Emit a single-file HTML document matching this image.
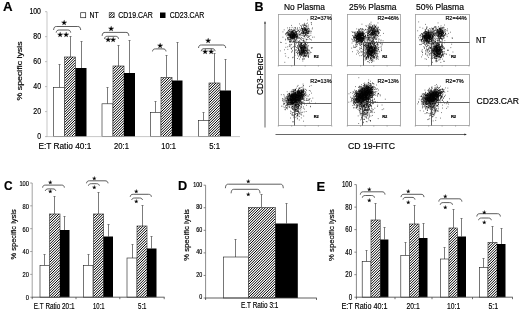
<!DOCTYPE html>
<html><head><meta charset="utf-8"><title>Figure</title>
<style>html,body{margin:0;padding:0;background:#fff}svg{display:block}text{font-family:"Liberation Sans",Arial,sans-serif;fill:#000;stroke:#000;stroke-width:.18px}</style></head><body>
<svg width="520" height="314" viewBox="0 0 520 314">
<defs><pattern id="hatch" width="1.56" height="1.56" patternUnits="userSpaceOnUse" patternTransform="rotate(-45)"><rect width="1.56" height="1.56" fill="#fff"/><rect width="1.56" height="0.82" fill="#000"/></pattern><filter id="soft" x="-2%" y="-2%" width="104%" height="104%"><feGaussianBlur stdDeviation="0.3"/></filter></defs>
<rect width="520" height="314" fill="#fff"/>
<g filter="url(#soft)">
<text x="2.9" y="11.2" font-size="13.6" font-weight="bold" textLength="9.6" lengthAdjust="spacingAndGlyphs" stroke-width="0.55">A</text>
<line x1="59.5" y1="64.5" x2="59.5" y2="87.5" stroke="#5a5a5a" stroke-width="0.8"/>
<line x1="58.5" y1="64.5" x2="60.5" y2="64.5" stroke="#5a5a5a" stroke-width="0.8"/>
<rect x="53.5" y="87.5" width="11.0" height="49.1" fill="#fff" stroke="#1a1a1a" stroke-width="0.6"/>
<line x1="70.5" y1="36.5" x2="70.5" y2="57" stroke="#5a5a5a" stroke-width="0.8"/>
<line x1="69.5" y1="36.5" x2="71.5" y2="36.5" stroke="#5a5a5a" stroke-width="0.8"/>
<clipPath id="c1"><rect x="64.5" y="57" width="11.0" height="79.6"/></clipPath>
<rect x="64.5" y="57" width="11.0" height="79.6" fill="#fff"/>
<path clip-path="url(#c1)" d="M64.5 55.1L75.5 44.1M64.5 57.7L75.5 46.7M64.5 60.3L75.5 49.3M64.5 62.9L75.5 51.9M64.5 65.5L75.5 54.5M64.5 68.1L75.5 57.1M64.5 70.7L75.5 59.7M64.5 73.3L75.5 62.3M64.5 75.9L75.5 64.9M64.5 78.5L75.5 67.5M64.5 81.1L75.5 70.1M64.5 83.7L75.5 72.7M64.5 86.3L75.5 75.3M64.5 88.9L75.5 77.9M64.5 91.5L75.5 80.5M64.5 94.1L75.5 83.1M64.5 96.7L75.5 85.7M64.5 99.3L75.5 88.3M64.5 101.9L75.5 90.9M64.5 104.5L75.5 93.5M64.5 107.1L75.5 96.1M64.5 109.7L75.5 98.7M64.5 112.3L75.5 101.3M64.5 114.9L75.5 103.9M64.5 117.5L75.5 106.5M64.5 120.1L75.5 109.1M64.5 122.7L75.5 111.7M64.5 125.3L75.5 114.3M64.5 127.9L75.5 116.9M64.5 130.5L75.5 119.5M64.5 133.1L75.5 122.1M64.5 135.7L75.5 124.7M64.5 138.3L75.5 127.3M64.5 140.9L75.5 129.9M64.5 143.5L75.5 132.5M64.5 146.1L75.5 135.1M64.5 148.7L75.5 137.7" stroke="#000" stroke-width="1.0" fill="none"/>
<rect x="64.5" y="57" width="11.0" height="79.6" fill="none" stroke="#222" stroke-width="0.6"/>
<line x1="81.5" y1="41.5" x2="81.5" y2="68" stroke="#5a5a5a" stroke-width="0.8"/>
<line x1="80.5" y1="41.5" x2="82.5" y2="41.5" stroke="#5a5a5a" stroke-width="0.8"/>
<rect x="75.5" y="68" width="11.0" height="68.6" fill="#000"/>
<line x1="107.5" y1="87.5" x2="107.5" y2="103.8" stroke="#5a5a5a" stroke-width="0.8"/>
<line x1="106.5" y1="87.5" x2="108.5" y2="87.5" stroke="#5a5a5a" stroke-width="0.8"/>
<rect x="102" y="103.8" width="11" height="32.8" fill="#fff" stroke="#1a1a1a" stroke-width="0.6"/>
<line x1="118.5" y1="45.5" x2="118.5" y2="66" stroke="#5a5a5a" stroke-width="0.8"/>
<line x1="117.5" y1="45.5" x2="119.5" y2="45.5" stroke="#5a5a5a" stroke-width="0.8"/>
<clipPath id="c2"><rect x="113" y="66" width="11" height="70.6"/></clipPath>
<rect x="113" y="66" width="11" height="70.6" fill="#fff"/>
<path clip-path="url(#c2)" d="M113 63.8L124 52.8M113 66.4L124 55.4M113 69.0L124 58.0M113 71.6L124 60.6M113 74.2L124 63.2M113 76.8L124 65.8M113 79.4L124 68.4M113 82.0L124 71.0M113 84.6L124 73.6M113 87.2L124 76.2M113 89.8L124 78.8M113 92.4L124 81.4M113 95.0L124 84.0M113 97.6L124 86.6M113 100.2L124 89.2M113 102.8L124 91.8M113 105.4L124 94.4M113 108.0L124 97.0M113 110.6L124 99.6M113 113.2L124 102.2M113 115.8L124 104.8M113 118.4L124 107.4M113 121.0L124 110.0M113 123.6L124 112.6M113 126.2L124 115.2M113 128.8L124 117.8M113 131.4L124 120.4M113 134.0L124 123.0M113 136.6L124 125.6M113 139.2L124 128.2M113 141.8L124 130.8M113 144.4L124 133.4M113 147.0L124 136.0M113 149.6L124 138.6" stroke="#000" stroke-width="1.0" fill="none"/>
<rect x="113" y="66" width="11" height="70.6" fill="none" stroke="#222" stroke-width="0.6"/>
<line x1="129.5" y1="40.5" x2="129.5" y2="73" stroke="#5a5a5a" stroke-width="0.8"/>
<line x1="128.5" y1="40.5" x2="130.5" y2="40.5" stroke="#5a5a5a" stroke-width="0.8"/>
<rect x="124" y="73" width="11" height="63.6" fill="#000"/>
<line x1="155.5" y1="101.5" x2="155.5" y2="112.5" stroke="#5a5a5a" stroke-width="0.8"/>
<line x1="154.5" y1="101.5" x2="156.5" y2="101.5" stroke="#5a5a5a" stroke-width="0.8"/>
<rect x="150.5" y="112.5" width="10.5" height="24.1" fill="#fff" stroke="#1a1a1a" stroke-width="0.6"/>
<line x1="166.5" y1="55.5" x2="166.5" y2="77.5" stroke="#5a5a5a" stroke-width="0.8"/>
<line x1="165.5" y1="55.5" x2="167.5" y2="55.5" stroke="#5a5a5a" stroke-width="0.8"/>
<clipPath id="c3"><rect x="161" y="77.5" width="11" height="59.1"/></clipPath>
<rect x="161" y="77.5" width="11" height="59.1" fill="#fff"/>
<path clip-path="url(#c3)" d="M161 75.6L172 64.6M161 78.2L172 67.2M161 80.8L172 69.8M161 83.4L172 72.4M161 86.0L172 75.0M161 88.6L172 77.6M161 91.2L172 80.2M161 93.8L172 82.8M161 96.4L172 85.4M161 99.0L172 88.0M161 101.6L172 90.6M161 104.2L172 93.2M161 106.8L172 95.8M161 109.4L172 98.4M161 112.0L172 101.0M161 114.6L172 103.6M161 117.2L172 106.2M161 119.8L172 108.8M161 122.4L172 111.4M161 125.0L172 114.0M161 127.6L172 116.6M161 130.2L172 119.2M161 132.8L172 121.8M161 135.4L172 124.4M161 138.0L172 127.0M161 140.6L172 129.6M161 143.2L172 132.2M161 145.8L172 134.8M161 148.4L172 137.4" stroke="#000" stroke-width="1.0" fill="none"/>
<rect x="161" y="77.5" width="11" height="59.1" fill="none" stroke="#222" stroke-width="0.6"/>
<line x1="177.5" y1="42.5" x2="177.5" y2="80.5" stroke="#5a5a5a" stroke-width="0.8"/>
<line x1="176.5" y1="42.5" x2="178.5" y2="42.5" stroke="#5a5a5a" stroke-width="0.8"/>
<rect x="172" y="80.5" width="10.5" height="56.1" fill="#000"/>
<line x1="203.5" y1="112.5" x2="203.5" y2="120.5" stroke="#5a5a5a" stroke-width="0.8"/>
<line x1="202.5" y1="112.5" x2="204.5" y2="112.5" stroke="#5a5a5a" stroke-width="0.8"/>
<rect x="198.5" y="120.5" width="10.5" height="16.1" fill="#fff" stroke="#1a1a1a" stroke-width="0.6"/>
<line x1="214.5" y1="53.5" x2="214.5" y2="83" stroke="#5a5a5a" stroke-width="0.8"/>
<line x1="213.5" y1="53.5" x2="215.5" y2="53.5" stroke="#5a5a5a" stroke-width="0.8"/>
<clipPath id="c4"><rect x="209" y="83" width="11" height="53.6"/></clipPath>
<rect x="209" y="83" width="11" height="53.6" fill="#fff"/>
<path clip-path="url(#c4)" d="M209 82.2L220 71.2M209 84.8L220 73.8M209 87.4L220 76.4M209 90.0L220 79.0M209 92.6L220 81.6M209 95.2L220 84.2M209 97.8L220 86.8M209 100.4L220 89.4M209 103.0L220 92.0M209 105.6L220 94.6M209 108.2L220 97.2M209 110.8L220 99.8M209 113.4L220 102.4M209 116.0L220 105.0M209 118.6L220 107.6M209 121.2L220 110.2M209 123.8L220 112.8M209 126.4L220 115.4M209 129.0L220 118.0M209 131.6L220 120.6M209 134.2L220 123.2M209 136.8L220 125.8M209 139.4L220 128.4M209 142.0L220 131.0M209 144.6L220 133.6M209 147.2L220 136.2M209 149.8L220 138.8" stroke="#000" stroke-width="1.0" fill="none"/>
<rect x="209" y="83" width="11" height="53.6" fill="none" stroke="#222" stroke-width="0.6"/>
<line x1="225.5" y1="59.5" x2="225.5" y2="90.5" stroke="#5a5a5a" stroke-width="0.8"/>
<line x1="224.5" y1="59.5" x2="226.5" y2="59.5" stroke="#5a5a5a" stroke-width="0.8"/>
<rect x="220" y="90.5" width="11" height="46.1" fill="#000"/>
<line x1="47" y1="11.7" x2="47" y2="137.0" stroke="#b0b0b0" stroke-width="0.7"/>
<line x1="46.6" y1="136.6" x2="240" y2="136.6" stroke="#b0b0b0" stroke-width="0.7"/>
<line x1="45" y1="11.7" x2="47" y2="11.7" stroke="#b0b0b0" stroke-width="0.8"/>
<text x="41.0" y="13.7" font-size="8.6" text-anchor="end" textLength="11.6" lengthAdjust="spacingAndGlyphs">100</text>
<line x1="45" y1="36.67999999999999" x2="47" y2="36.67999999999999" stroke="#b0b0b0" stroke-width="0.8"/>
<text x="41.0" y="38.68" font-size="8.6" text-anchor="end" textLength="7.73" lengthAdjust="spacingAndGlyphs">80</text>
<line x1="45" y1="61.66" x2="47" y2="61.66" stroke="#b0b0b0" stroke-width="0.8"/>
<text x="41.0" y="63.66" font-size="8.6" text-anchor="end" textLength="7.73" lengthAdjust="spacingAndGlyphs">60</text>
<line x1="45" y1="86.64" x2="47" y2="86.64" stroke="#b0b0b0" stroke-width="0.8"/>
<text x="41.0" y="88.64" font-size="8.6" text-anchor="end" textLength="7.73" lengthAdjust="spacingAndGlyphs">40</text>
<line x1="45" y1="111.61999999999999" x2="47" y2="111.61999999999999" stroke="#b0b0b0" stroke-width="0.8"/>
<text x="41.0" y="113.62" font-size="8.6" text-anchor="end" textLength="7.73" lengthAdjust="spacingAndGlyphs">20</text>
<line x1="45" y1="136.6" x2="47" y2="136.6" stroke="#b0b0b0" stroke-width="0.8"/>
<text x="41.0" y="138.6" font-size="8.6" text-anchor="end" textLength="3.87" lengthAdjust="spacingAndGlyphs">0</text>
<text x="21.9" y="70.9" font-size="7.5" text-anchor="middle" textLength="59.3" lengthAdjust="spacingAndGlyphs" transform="rotate(-90 21.9 70.9)" stroke-width="0.1">% specific lysis</text>
<rect x="80.7" y="12.7" width="5" height="5" fill="#fff" stroke="#222" stroke-width="0.7"/>
<text x="89.5" y="18.3" font-size="8.3" textLength="9.2" lengthAdjust="spacingAndGlyphs">NT</text>
<clipPath id="c5"><rect x="109.2" y="12.7" width="5" height="5"/></clipPath>
<rect x="109.2" y="12.7" width="5" height="5" fill="#fff"/>
<path clip-path="url(#c5)" d="M109.2 10.4L114.2 5.4M109.2 13.0L114.2 8.0M109.2 15.6L114.2 10.6M109.2 18.2L114.2 13.2M109.2 20.8L114.2 15.8M109.2 23.4L114.2 18.4" stroke="#000" stroke-width="1.0" fill="none"/>
<rect x="109.2" y="12.7" width="5" height="5" fill="none" stroke="#222" stroke-width="0.6"/>
<text x="118.3" y="18.3" font-size="8.3" textLength="34.5" lengthAdjust="spacingAndGlyphs">CD19.CAR</text>
<rect x="160" y="12.5" width="5.5" height="5.5" fill="#000"/>
<text x="169.8" y="18.3" font-size="8.3" textLength="34.5" lengthAdjust="spacingAndGlyphs">CD23.CAR</text>
<text x="38.5" y="148.9" font-size="9" textLength="52.8" lengthAdjust="spacingAndGlyphs">E:T Ratio 40:1</text>
<text x="114.1" y="148.9" font-size="9" textLength="14.8" lengthAdjust="spacingAndGlyphs">20:1</text>
<text x="161.3" y="148.9" font-size="9" textLength="14.6" lengthAdjust="spacingAndGlyphs">10:1</text>
<text x="209.3" y="148.9" font-size="9" textLength="10.8" lengthAdjust="spacingAndGlyphs">5:1</text>
<path d="M53.6 30.0 C53.9 27.1 54.8 26.5 56.6 26.5 L77.7 26.5 C79.5 26.5 80.4 27.1 80.7 30.0" fill="none" stroke="#333" stroke-width="0.8"/>
<text x="63.6" y="25.07" font-size="6.8" text-anchor="middle" font-family="DejaVu Sans">★</text>
<path d="M56.2 32.6 C56.5 30.6 57.4 30.0 59.2 30.0 L67.7 30.0 C69.5 30.0 70.4 30.6 70.7 32.6" fill="none" stroke="#333" stroke-width="0.8"/>
<text x="62.75" y="37.06" font-size="6.8" text-anchor="middle" font-family="DejaVu Sans" letter-spacing="-0.3">★★</text>
<path d="M102.1 35.9 C102.39999999999999 33.0 103.3 32.4 105.1 32.4 L125.9 32.4 C127.7 32.4 128.6 33.0 128.9 35.9" fill="none" stroke="#333" stroke-width="0.8"/>
<text x="111.4" y="30.66" font-size="6.8" text-anchor="middle" font-family="DejaVu Sans">★</text>
<path d="M104.5 38.9 C104.8 36.9 105.7 36.3 107.5 36.3 L115.5 36.3 C117.3 36.3 118.2 36.9 118.5 38.9" fill="none" stroke="#333" stroke-width="0.8"/>
<text x="110.35" y="42.17" font-size="6.8" text-anchor="middle" font-family="DejaVu Sans" letter-spacing="-0.3">★★</text>
<path d="M152.5 51.4 C152.8 49.5 153.7 48.9 155.5 48.9 L163.0 48.9 C164.8 48.9 165.7 49.5 166 51.4" fill="none" stroke="#333" stroke-width="0.8"/>
<text x="160" y="47.77" font-size="6.8" text-anchor="middle" font-family="DejaVu Sans">★</text>
<path d="M198.5 48.0 C198.8 45.6 199.7 45 201.5 45 L222.7 45 C224.5 45 225.39999999999998 45.6 225.7 48.0" fill="none" stroke="#333" stroke-width="0.8"/>
<text x="207.9" y="43.27" font-size="6.8" text-anchor="middle" font-family="DejaVu Sans">★</text>
<path d="M201.2 51.2 C201.5 49.3 202.4 48.7 204.2 48.7 L212.1 48.7 C213.9 48.7 214.79999999999998 49.3 215.1 51.2" fill="none" stroke="#333" stroke-width="0.8"/>
<text x="207.85" y="53.77" font-size="6.8" text-anchor="middle" font-family="DejaVu Sans" letter-spacing="-0.3">★★</text>
<text x="254.6" y="11.0" font-size="13.0" font-weight="bold" textLength="9.0" lengthAdjust="spacingAndGlyphs" stroke-width="0.55">B</text>
<text x="284" y="9.9" font-size="9.2" textLength="41" lengthAdjust="spacingAndGlyphs">No Plasma</text>
<text x="349" y="9.9" font-size="9.2" textLength="47.5" lengthAdjust="spacingAndGlyphs">25% Plasma</text>
<text x="416" y="9.9" font-size="9.2" textLength="48" lengthAdjust="spacingAndGlyphs">50% Plasma</text>
<text x="476" y="43.2" font-size="8.5" textLength="10" lengthAdjust="spacingAndGlyphs">NT</text>
<text x="476.5" y="104.2" font-size="8.5" textLength="42.5" lengthAdjust="spacingAndGlyphs">CD23.CAR</text>
<text x="263" y="74" font-size="8.5" text-anchor="middle" textLength="42" lengthAdjust="spacingAndGlyphs" transform="rotate(-90 263 74)">CD3-PercP</text>
<text x="348" y="149.2" font-size="8.5" textLength="47" lengthAdjust="spacingAndGlyphs">CD 19-FITC</text>
<line x1="265" y1="23" x2="265" y2="127.5" stroke="#555" stroke-width="0.9"/>
<path d="M264.0 23.4 L265 21 L266.0 23.4Z" fill="#222"/>
<line x1="275.5" y1="134.5" x2="465" y2="134.5" stroke="#555" stroke-width="0.9"/>
<path d="M464.4 133.5 L466.8 134.5 L464.4 135.5Z" fill="#222"/>
<path d="M291.5 36.4h.7M291.6 34.1h.7M289.8 34.4h.7M295.1 36.2h.7M294.9 35.7h.7M293.2 35.5h.7M287.9 37.4h.7M293.5 36.4h.7M287.8 30.1h.7M289.9 33.7h.7M293.0 34.9h.7M293.6 33.2h.7M293.0 36.1h.7M290.5 39.8h.7M293.6 38.4h.7M290.6 32.9h.7M291.3 34.7h.7M293.8 35.7h.7M291.0 32.3h.7M290.8 38.4h.7M290.1 35.7h.7M293.3 30.8h.7M292.3 38.7h.7M287.0 34.1h.7M291.9 32.7h.7M293.5 34.8h.7M288.4 37.3h.7M293.9 37.6h.7M295.9 36.0h.7M292.5 31.4h.7M293.8 33.3h.7M291.0 31.5h.7M289.7 33.5h.7M295.6 29.3h.7M288.4 35.7h.7M296.0 36.6h.7M287.3 27.9h.7M293.1 32.9h.7M289.3 37.7h.7M295.1 35.4h.7M292.8 36.2h.7M296.3 36.7h.7M293.5 36.5h.7M288.1 38.6h.7M294.7 36.5h.7M287.1 33.2h.7M294.4 29.9h.7M291.7 37.9h.7M288.8 39.5h.7M293.6 34.6h.7M293.0 36.8h.7M292.5 38.2h.7M290.5 33.8h.7M294.9 35.1h.7M289.9 37.7h.7M296.0 33.8h.7M288.6 34.6h.7M291.8 34.2h.7M295.9 32.1h.7M295.5 31.4h.7M290.2 36.8h.7M295.1 37.4h.7M293.1 35.4h.7M292.6 36.6h.7M291.7 35.8h.7M293.7 35.0h.7M294.2 36.6h.7M297.4 35.9h.7M291.1 34.0h.7M292.2 37.6h.7M291.3 36.1h.7M297.0 27.8h.7M289.3 35.7h.7M293.2 35.7h.7M291.1 36.8h.7M292.9 33.5h.7M298.5 36.0h.7M290.8 34.7h.7M291.6 34.8h.7M285.1 33.6h.7M294.8 31.7h.7M292.0 37.7h.7M294.4 39.2h.7M287.8 34.0h.7M291.3 36.7h.7M295.0 27.5h.7M295.0 30.9h.7M294.0 30.8h.7M292.7 38.3h.7M291.8 35.5h.7M294.3 35.4h.7M292.0 39.3h.7M294.9 34.2h.7M299.3 31.8h.7M294.6 34.3h.7M292.5 37.0h.7M292.8 36.8h.7M288.2 30.8h.7M293.8 32.3h.7M289.5 30.9h.7M295.5 37.1h.7M296.0 32.4h.7M292.2 31.8h.7M294.2 39.5h.7M289.9 39.4h.7M294.8 34.5h.7M287.1 38.9h.7M291.9 33.3h.7M293.2 36.1h.7M296.1 32.1h.7M295.2 39.2h.7M296.0 34.5h.7M290.3 37.9h.7M292.5 35.3h.7M295.9 34.3h.7M286.2 33.9h.7M287.4 37.3h.7M293.0 33.3h.7M292.2 37.3h.7M292.4 38.7h.7M292.0 37.9h.7M296.1 39.5h.7M290.5 37.5h.7M287.3 32.0h.7M287.1 38.0h.7M289.0 35.0h.7M291.7 34.9h.7M290.7 35.7h.7M296.9 35.1h.7M293.6 37.8h.7M291.7 31.5h.7M290.8 38.0h.7M287.9 33.3h.7M294.8 37.2h.7M292.2 37.3h.7M292.6 31.7h.7M288.1 33.2h.7M294.6 33.4h.7M289.9 32.8h.7M288.2 34.7h.7M289.1 36.0h.7M286.1 35.9h.7M290.5 29.6h.7M294.1 34.2h.7M286.4 32.5h.7M293.0 33.7h.7M294.2 37.1h.7M293.9 35.9h.7M295.7 36.8h.7M293.4 29.2h.7M294.5 38.7h.7M291.4 33.7h.7M297.2 30.1h.7M293.4 41.8h.7M289.8 36.9h.7M297.1 34.7h.7M293.7 37.5h.7M289.8 34.8h.7M293.0 37.3h.7M292.1 34.5h.7M289.6 34.0h.7M294.5 35.3h.7M290.0 32.6h.7M299.1 38.2h.7M293.9 27.7h.7M293.8 36.3h.7M296.6 36.2h.7M292.0 36.5h.7M287.1 37.9h.7M293.0 33.0h.7M295.6 40.1h.7M288.6 33.1h.7M293.0 35.5h.7M291.2 32.3h.7M297.7 37.9h.7M289.1 31.2h.7M296.6 37.8h.7M296.9 37.3h.7M289.9 35.7h.7M286.6 32.9h.7M292.0 36.5h.7M290.3 34.7h.7M293.4 36.1h.7M293.9 35.6h.7M291.4 37.2h.7M292.3 32.7h.7M290.6 35.0h.7M291.9 35.4h.7M292.2 35.5h.7M291.9 31.5h.7M293.3 38.0h.7M293.3 34.5h.7M293.4 32.3h.7M287.3 35.2h.7M289.8 37.1h.7M289.4 27.6h.7M289.5 39.4h.7M291.2 31.2h.7M290.2 36.5h.7M293.5 35.5h.7M296.1 37.0h.7M292.1 36.7h.7M296.5 37.7h.7M294.9 32.0h.7M291.8 37.0h.7M291.4 38.0h.7M293.8 37.5h.7M291.6 42.1h.7M295.4 34.4h.7M292.4 42.3h.7M291.3 37.4h.7M294.7 35.0h.7M289.2 35.5h.7M293.1 38.2h.7M294.2 35.1h.7M294.4 36.5h.7M292.7 35.2h.7M291.6 36.9h.7M289.5 33.2h.7M292.2 30.9h.7M291.1 29.4h.7M290.4 36.6h.7M293.7 34.8h.7M291.6 31.0h.7M297.0 36.4h.7M295.0 32.5h.7M291.7 29.9h.7M294.2 37.6h.7M287.3 34.9h.7M293.8 30.1h.7M287.5 32.0h.7M290.6 31.1h.7M292.3 35.7h.7M293.8 37.0h.7M296.1 38.3h.7M288.8 33.6h.7M289.4 32.0h.7M292.0 35.0h.7M293.5 30.6h.7M289.0 34.9h.7M291.7 34.1h.7M292.0 32.9h.7M294.0 36.0h.7M292.0 33.1h.7M291.7 27.4h.7M289.6 35.1h.7M288.3 35.6h.7M292.6 31.1h.7M291.5 34.1h.7M293.4 36.7h.7M292.1 32.6h.7M291.8 34.8h.7M294.1 35.8h.7M290.3 31.2h.7M291.2 32.9h.7M289.3 34.7h.7M290.9 35.3h.7M293.6 33.8h.7M298.2 34.1h.7M295.1 35.3h.7M295.1 28.3h.7M290.2 35.7h.7M293.8 41.5h.7M293.0 38.6h.7M294.2 37.7h.7M293.5 34.6h.7M293.5 32.0h.7M295.3 32.2h.7M292.8 40.9h.7M291.6 35.1h.7M295.2 35.1h.7M290.1 35.7h.7M293.7 37.0h.7M290.2 39.9h.7M296.5 35.1h.7M292.9 33.8h.7M295.9 33.0h.7M294.0 33.7h.7M290.4 37.0h.7M295.7 35.0h.7M290.4 37.3h.7M292.1 35.9h.7M296.2 38.2h.7M290.8 41.4h.7M292.2 37.2h.7M290.5 34.9h.7M287.7 40.0h.7M295.8 31.6h.7M288.3 30.5h.7M295.3 33.7h.7M292.0 34.1h.7M291.9 32.0h.7M292.3 31.0h.7M292.0 35.9h.7M293.4 34.4h.7M289.9 35.4h.7M290.9 39.4h.7M294.2 34.7h.7M291.0 33.0h.7M289.8 34.0h.7M293.0 36.4h.7M293.7 40.9h.7M290.4 35.0h.7M299.5 29.8h.7M290.8 35.5h.7M292.6 36.1h.7M291.6 36.0h.7M292.3 37.2h.7M287.3 32.5h.7M292.2 32.1h.7M289.5 36.8h.7M290.5 36.8h.7M294.1 35.9h.7M293.5 34.7h.7M288.5 34.9h.7M293.4 33.5h.7M291.9 37.1h.7M289.9 36.8h.7M297.0 33.4h.7M292.6 34.6h.7M296.2 35.9h.7M294.5 33.1h.7M292.2 35.0h.7M287.6 39.0h.7M294.5 30.1h.7M294.1 34.6h.7M293.4 36.0h.7M288.3 34.4h.7M296.1 33.4h.7M289.5 31.2h.7M289.0 35.9h.7M296.6 36.2h.7M292.8 41.3h.7M290.8 33.1h.7M293.6 36.5h.7M289.6 31.7h.7M293.0 35.7h.7M288.8 34.4h.7M290.8 36.3h.7M291.9 34.8h.7M291.3 37.9h.7M295.8 34.0h.7M294.4 32.9h.7M292.4 37.1h.7M296.1 33.9h.7M292.0 35.5h.7M288.3 35.0h.7M290.4 36.0h.7M289.3 29.5h.7M292.3 35.7h.7M290.8 37.5h.7M291.5 33.3h.7M293.4 30.6h.7M290.4 34.9h.7M294.4 34.5h.7M293.0 33.2h.7M293.0 39.7h.7M290.4 41.6h.7M290.5 35.0h.7M292.7 37.9h.7M289.0 29.1h.7M293.8 37.2h.7M293.8 42.4h.7M292.7 35.7h.7M294.6 36.0h.7M296.5 31.5h.7M291.2 25.4h.7M294.3 34.0h.7M294.6 41.0h.7M292.2 34.3h.7M290.9 32.7h.7M290.6 36.8h.7M292.3 35.2h.7M291.7 37.6h.7M293.5 34.6h.7M293.9 34.6h.7M289.2 39.1h.7M293.4 32.3h.7M295.0 36.0h.7M288.1 39.5h.7M305.6 33.9h.7M305.2 30.5h.7M300.0 34.1h.7M304.7 30.1h.7M305.7 31.2h.7M306.6 29.8h.7M304.5 24.2h.7M303.3 33.2h.7M308.6 29.8h.7M304.2 36.1h.7M303.6 33.3h.7M309.6 31.1h.7M308.3 28.7h.7M305.2 30.8h.7M304.9 34.6h.7M311.8 28.9h.7M302.9 32.6h.7M301.4 32.6h.7M306.3 30.1h.7M306.2 26.0h.7M306.9 26.1h.7M302.5 29.2h.7M303.4 33.7h.7M304.8 29.7h.7M306.2 36.1h.7M304.6 32.2h.7M308.3 31.9h.7M300.7 39.0h.7M311.2 24.6h.7M304.5 32.3h.7M307.5 33.1h.7M303.8 27.6h.7M304.9 34.3h.7M301.3 27.7h.7M304.5 24.8h.7M303.8 29.6h.7M306.0 28.8h.7M302.0 29.7h.7M304.5 28.9h.7M304.6 33.4h.7M308.2 36.5h.7M302.2 29.7h.7M297.2 37.1h.7M302.4 30.9h.7M306.2 26.7h.7M306.0 30.9h.7M299.1 31.9h.7M308.2 25.0h.7M307.0 31.7h.7M306.0 32.4h.7M308.5 30.3h.7M307.2 29.7h.7M306.8 28.4h.7M304.3 36.5h.7M305.9 30.5h.7M301.2 28.5h.7M305.2 34.0h.7M305.9 32.7h.7M304.5 35.3h.7M303.4 29.2h.7M307.3 31.2h.7M303.8 29.2h.7M303.8 33.0h.7M305.7 27.1h.7M305.9 31.6h.7M301.6 33.5h.7M303.8 29.9h.7M307.0 35.2h.7M302.5 32.4h.7M302.0 38.4h.7M303.1 34.8h.7M302.7 33.6h.7M311.3 22.9h.7M303.3 32.6h.7M304.3 28.9h.7M311.1 31.3h.7M299.7 33.7h.7M299.4 34.7h.7M302.9 31.5h.7M308.4 31.4h.7M300.4 25.6h.7M308.1 33.4h.7M302.2 33.8h.7M306.1 33.1h.7M297.8 30.0h.7M307.3 33.3h.7M307.2 23.1h.7M305.1 32.6h.7M312.3 27.9h.7M303.6 31.1h.7M307.3 29.6h.7M308.0 28.5h.7M305.4 29.3h.7M305.1 28.8h.7M299.8 34.5h.7M305.5 29.2h.7M305.2 34.2h.7M301.7 30.6h.7M306.2 32.7h.7M303.6 24.3h.7M308.3 32.1h.7M304.6 30.1h.7M305.4 29.6h.7M301.5 28.6h.7M302.8 29.0h.7M301.1 33.0h.7M300.7 33.1h.7M301.6 32.1h.7M308.7 31.7h.7M302.4 31.2h.7M305.0 25.5h.7M302.8 31.5h.7M303.2 31.3h.7M306.8 33.5h.7M307.3 32.9h.7M303.7 30.9h.7M303.8 30.0h.7M304.1 25.5h.7M303.6 30.9h.7M301.7 30.9h.7M306.1 30.5h.7M310.8 22.7h.7M304.0 25.2h.7M307.5 39.5h.7M297.1 31.4h.7M306.2 30.0h.7M306.3 23.8h.7M307.2 32.2h.7M304.7 29.1h.7M306.5 29.4h.7M305.3 29.4h.7M297.9 30.9h.7M305.2 33.4h.7M302.0 30.9h.7M306.5 31.5h.7M308.3 37.4h.7M301.9 24.9h.7M307.2 35.9h.7M307.4 33.6h.7M302.7 28.7h.7M307.3 28.1h.7M299.2 27.8h.7M312.1 37.2h.7M302.5 28.7h.7M305.3 28.6h.7M308.5 30.7h.7M301.3 35.2h.7M302.9 31.7h.7M304.6 30.0h.7M305.6 28.8h.7M299.1 23.9h.7M300.8 28.6h.7M304.5 31.2h.7M306.3 31.4h.7M302.2 28.7h.7M298.2 30.5h.7M306.1 32.7h.7M304.2 30.4h.7M307.4 31.0h.7M306.8 32.9h.7M305.2 35.2h.7M302.9 29.9h.7M302.2 28.4h.7M309.3 36.6h.7M304.7 32.8h.7M308.1 33.6h.7M308.2 27.0h.7M302.7 32.4h.7M308.9 31.3h.7M302.0 29.9h.7M302.6 28.3h.7M309.1 29.0h.7M304.7 37.9h.7M308.2 32.1h.7M302.8 32.3h.7M309.5 33.0h.7M308.4 31.3h.7M306.1 30.4h.7M305.9 35.2h.7M300.3 30.8h.7M305.3 29.2h.7M303.7 33.5h.7M310.6 33.0h.7M305.6 26.0h.7M310.4 31.2h.7M304.5 27.4h.7M304.4 27.5h.7M304.8 32.5h.7M304.7 31.9h.7M302.0 35.6h.7M302.6 25.2h.7M304.0 28.6h.7M301.6 29.9h.7M305.5 27.2h.7M304.2 35.6h.7M306.6 30.5h.7M305.0 30.6h.7M304.5 33.3h.7M304.3 23.3h.7M304.5 28.2h.7M304.5 48.0h.7M303.1 58.0h.7M299.9 46.2h.7M298.9 41.6h.7M297.6 51.5h.7M301.0 43.5h.7M298.7 52.4h.7M300.6 48.9h.7M303.6 55.1h.7M307.9 53.9h.7M303.1 50.9h.7M307.6 55.3h.7M301.9 51.8h.7M303.5 50.4h.7M301.3 45.4h.7M301.3 44.6h.7M306.0 52.1h.7M299.4 55.2h.7M305.1 43.3h.7M307.7 53.1h.7M308.3 45.8h.7M304.1 51.7h.7M303.2 50.8h.7M305.5 44.8h.7M299.3 45.2h.7M301.2 48.0h.7M303.7 51.2h.7M302.8 47.8h.7M301.5 53.6h.7M304.8 50.6h.7M301.8 55.8h.7M301.1 52.5h.7M305.8 49.2h.7M304.9 46.2h.7M305.4 50.9h.7M298.4 52.6h.7M300.3 54.8h.7M300.9 49.6h.7M303.5 49.0h.7M303.4 48.2h.7M304.5 50.2h.7M303.3 40.3h.7M305.8 50.3h.7M297.9 50.5h.7M304.0 54.1h.7M299.8 55.8h.7M302.3 58.8h.7M302.3 52.6h.7M301.7 46.2h.7M305.7 53.5h.7M306.9 53.3h.7M301.2 44.2h.7M300.9 47.8h.7M300.5 52.3h.7M303.6 49.2h.7M303.2 49.7h.7M303.3 52.9h.7M305.3 47.7h.7M298.6 55.3h.7M303.0 54.2h.7M298.3 49.0h.7M302.8 45.0h.7M301.3 52.8h.7M305.6 55.9h.7M300.4 45.2h.7M304.1 53.6h.7M303.2 45.5h.7M304.8 53.1h.7M304.2 48.4h.7M303.5 53.0h.7M301.2 43.6h.7M303.6 51.9h.7M302.7 53.4h.7M301.1 49.9h.7M301.9 52.3h.7M307.0 49.3h.7M308.2 55.7h.7M304.8 52.3h.7M307.5 49.6h.7M302.4 46.4h.7M304.0 55.0h.7M304.1 51.7h.7M302.2 50.8h.7M298.9 54.0h.7M301.6 46.2h.7M300.7 47.2h.7M305.0 54.0h.7M299.0 53.5h.7M305.1 48.1h.7M298.7 47.5h.7M301.0 51.4h.7M301.7 42.9h.7M303.3 44.7h.7M305.1 45.9h.7M300.8 47.1h.7M301.2 54.9h.7M305.0 52.4h.7M303.6 44.6h.7M301.3 48.2h.7M300.1 52.0h.7M300.7 47.6h.7M299.9 42.8h.7M304.3 55.0h.7M303.2 46.7h.7M295.4 50.8h.7M306.0 51.3h.7M305.2 55.5h.7M305.7 48.6h.7M305.5 53.0h.7M298.6 48.7h.7M298.9 49.8h.7M304.3 46.4h.7M297.1 54.9h.7M303.7 55.5h.7M299.1 54.0h.7M308.3 57.4h.7M302.1 51.2h.7M302.3 53.8h.7M305.5 50.5h.7M299.0 52.9h.7M301.4 52.5h.7M303.4 56.0h.7M305.8 48.6h.7M303.6 56.6h.7M301.2 51.8h.7M305.9 54.7h.7M304.1 45.4h.7M299.3 51.1h.7M303.7 59.4h.7M300.4 54.3h.7M304.8 44.2h.7M300.5 50.8h.7M301.4 49.6h.7M304.0 47.3h.7M304.0 47.9h.7M301.2 52.1h.7M301.2 51.2h.7M307.0 50.3h.7M302.3 52.8h.7M301.7 54.1h.7M299.2 52.4h.7M301.3 47.3h.7M307.5 47.1h.7M307.4 52.6h.7M306.6 46.7h.7M305.9 55.4h.7M302.4 49.7h.7M309.3 50.8h.7M301.6 47.9h.7M303.9 51.4h.7M303.2 56.4h.7M301.8 51.9h.7M306.6 46.6h.7M305.5 56.8h.7M299.0 46.2h.7M299.9 43.6h.7M303.9 43.5h.7M304.0 55.4h.7M298.3 49.1h.7M297.5 53.0h.7M300.7 49.2h.7M302.8 52.2h.7M301.8 50.3h.7M301.2 50.6h.7M299.5 50.4h.7M297.5 48.4h.7M307.9 50.5h.7M299.3 51.1h.7M300.1 44.3h.7M300.7 52.9h.7M303.7 49.9h.7M300.2 46.3h.7M306.3 51.1h.7M300.1 42.6h.7M299.0 59.1h.7M299.6 49.9h.7M303.3 49.6h.7M301.9 45.3h.7M299.9 56.3h.7M300.7 53.2h.7M298.1 49.2h.7M303.4 53.9h.7M299.7 52.3h.7M303.7 47.5h.7M304.0 47.0h.7M300.6 50.1h.7M295.4 49.8h.7M300.0 44.9h.7M301.6 52.9h.7M301.6 54.8h.7M299.6 45.5h.7M306.9 51.6h.7M305.3 47.2h.7M304.9 51.1h.7M304.5 50.3h.7M306.0 47.9h.7M300.1 44.9h.7M305.8 47.5h.7M299.9 46.8h.7M301.5 45.6h.7M301.9 47.9h.7M301.2 46.7h.7M302.8 48.5h.7M303.0 51.1h.7M303.6 42.3h.7M301.3 47.3h.7M304.8 44.5h.7M300.8 49.1h.7M301.8 53.8h.7M301.5 53.7h.7M298.7 43.7h.7M306.0 51.8h.7M304.0 50.6h.7M304.0 45.8h.7M305.3 48.3h.7M305.4 50.5h.7M297.4 45.6h.7M305.7 49.7h.7M301.6 51.1h.7M301.6 48.2h.7M303.0 50.7h.7M306.8 50.4h.7M307.8 56.7h.7M307.3 54.0h.7M303.1 50.7h.7M302.3 47.6h.7M302.5 47.9h.7M307.1 52.1h.7M301.5 43.3h.7M302.6 48.7h.7M299.8 46.1h.7M296.6 52.2h.7M302.5 59.5h.7M302.6 49.7h.7M306.6 50.7h.7M303.2 48.9h.7M301.1 55.6h.7M305.4 56.4h.7M301.8 50.3h.7M300.3 53.7h.7M298.9 52.2h.7M305.7 55.3h.7M300.2 54.1h.7M300.8 47.5h.7M299.1 54.4h.7M307.2 48.1h.7M300.6 49.0h.7M309.5 53.8h.7M301.2 43.7h.7M300.9 54.5h.7M307.7 49.2h.7M300.8 48.4h.7M297.6 53.5h.7M299.8 54.0h.7M298.1 45.6h.7M303.5 47.5h.7M304.8 50.2h.7M299.5 52.4h.7M305.0 43.3h.7M307.6 52.0h.7M304.8 43.5h.7M300.8 48.9h.7M305.6 44.9h.7M300.3 42.9h.7M302.0 51.4h.7M298.1 48.1h.7M304.1 55.9h.7M304.5 49.1h.7M299.5 46.8h.7M300.9 50.7h.7M302.6 56.2h.7M303.5 46.3h.7M306.9 53.6h.7M303.0 47.6h.7M297.6 46.5h.7M305.2 47.3h.7M299.1 50.9h.7M303.4 52.4h.7M304.5 55.3h.7M300.4 53.7h.7M300.0 52.7h.7M303.2 51.1h.7M305.3 50.1h.7M305.7 53.4h.7M303.1 48.2h.7M300.7 48.3h.7M302.2 50.1h.7M310.7 52.5h.7M304.8 47.1h.7M300.8 49.1h.7M303.2 46.5h.7M307.1 48.2h.7M305.6 41.8h.7M302.7 51.2h.7M303.2 52.4h.7M303.5 50.8h.7M297.6 47.6h.7M296.4 52.5h.7M303.5 49.5h.7M300.5 48.1h.7M307.7 56.4h.7M302.5 54.8h.7M298.4 43.2h.7M301.4 47.1h.7M301.2 50.9h.7M310.9 47.8h.7M302.8 51.2h.7M302.6 53.6h.7M307.5 45.7h.7M303.1 49.2h.7M303.7 44.7h.7M298.0 41.9h.7M304.1 50.9h.7M302.9 41.7h.7M301.7 47.5h.7M298.9 46.9h.7M304.6 52.2h.7M302.6 52.1h.7M301.1 50.5h.7M302.8 52.2h.7M302.5 49.7h.7M302.3 47.9h.7M308.7 52.1h.7M303.9 58.4h.7M306.5 44.6h.7M304.6 53.2h.7M307.8 54.9h.7M304.8 46.0h.7M300.3 51.2h.7M304.1 46.5h.7M301.7 48.8h.7M302.9 51.4h.7M301.9 45.7h.7M306.1 55.9h.7M302.4 53.9h.7M303.9 52.6h.7M304.0 47.5h.7M304.2 53.8h.7M300.3 57.3h.7M308.3 56.8h.7M308.1 52.9h.7M301.8 48.0h.7M300.5 50.6h.7M302.6 52.6h.7M297.2 58.5h.7M308.8 50.1h.7M304.5 51.9h.7M303.4 49.4h.7M302.4 47.2h.7M303.2 50.1h.7M303.6 47.1h.7M302.8 50.4h.7M304.3 46.4h.7M303.8 53.7h.7M304.3 48.9h.7M301.4 49.3h.7M304.7 55.8h.7M302.3 47.9h.7M303.7 50.9h.7M300.2 47.5h.7M302.4 52.6h.7M299.5 46.5h.7M304.0 45.8h.7M303.0 51.5h.7M302.4 46.5h.7M302.5 49.0h.7M303.6 47.2h.7M305.6 44.2h.7M302.2 50.2h.7M305.3 48.0h.7M304.2 48.2h.7M304.7 56.5h.7M301.6 51.8h.7M300.2 53.7h.7M306.0 50.3h.7M299.6 51.6h.7M305.8 54.1h.7M304.9 43.6h.7M300.9 55.3h.7M299.4 54.3h.7M311.2 48.1h.7M305.8 39.3h.7M289.4 41.2h.7M296.6 41.6h.7M302.9 40.8h.7M299.3 45.4h.7M298.0 56.7h.7M301.1 42.7h.7M296.5 37.0h.7M307.4 43.2h.7M290.4 37.5h.7M297.0 38.4h.7M305.6 32.7h.7M301.4 43.1h.7M289.8 42.4h.7M297.3 46.0h.7M294.8 44.4h.7M286.3 33.3h.7M303.5 50.3h.7M297.9 37.2h.7M305.6 25.3h.7M292.4 47.4h.7M302.6 33.7h.7M284.8 53.6h.7M299.1 34.8h.7M298.4 49.2h.7M279.9 50.9h.7M303.2 25.4h.7M303.4 27.8h.7M306.0 45.2h.7M313.8 37.1h.7M298.0 50.4h.7M293.5 36.4h.7M295.4 41.4h.7M290.4 45.9h.7M301.8 42.6h.7M309.9 39.4h.7M307.1 37.6h.7M303.3 26.5h.7M299.4 40.6h.7M294.5 37.1h.7M295.6 36.2h.7M282.6 37.2h.7M294.2 37.8h.7M290.6 40.9h.7M303.5 40.0h.7M294.6 52.9h.7M304.8 49.4h.7M306.1 39.4h.7M297.1 50.9h.7M294.1 41.0h.7M300.6 45.0h.7M296.1 49.9h.7M296.8 47.8h.7M305.5 47.3h.7M303.1 32.7h.7M288.8 37.1h.7M301.3 54.0h.7M289.4 44.5h.7M292.0 36.1h.7M296.1 47.5h.7M299.5 51.4h.7M291.1 49.1h.7M304.5 42.6h.7M301.3 37.5h.7M290.4 38.8h.7M294.6 55.2h.7M299.4 44.5h.7M303.2 35.8h.7M304.4 45.0h.7M287.4 46.8h.7M301.9 45.6h.7M309.1 38.7h.7M301.6 48.0h.7M291.7 51.6h.7M287.8 31.6h.7M301.7 33.3h.7M297.2 28.8h.7M298.5 32.9h.7M300.4 29.7h.7M301.1 39.9h.7M298.4 41.5h.7M298.9 31.4h.7M280.0 42.3h.7M291.4 38.4h.7M301.0 26.1h.7M292.7 37.1h.7M290.6 44.6h.7M297.0 35.4h.7M291.1 48.5h.7M293.4 46.7h.7M301.1 26.8h.7M290.4 42.0h.7M300.4 48.2h.7M303.6 50.3h.7M295.4 40.3h.7M303.4 38.6h.7M305.4 29.3h.7M302.6 40.6h.7M284.2 49.8h.7M300.2 42.2h.7M290.5 38.3h.7M308.6 35.4h.7M289.6 40.9h.7M295.2 34.7h.7M292.1 50.4h.7M287.9 57.7h.7M294.2 33.3h.7M303.5 46.5h.7M290.7 48.0h.7M285.1 34.6h.7M305.9 40.0h.7M288.9 46.1h.7M304.4 41.8h.7M285.4 39.2h.7M300.9 48.1h.7M311.0 40.0h.7M294.6 41.7h.7M306.4 34.5h.7M307.1 20.0h.7M303.6 36.6h.7M301.2 47.5h.7M289.7 41.3h.7M299.7 46.7h.7M291.5 34.1h.7M284.5 62.3h.7M296.7 40.2h.7M287.5 49.4h.7M294.3 53.5h.7M304.0 42.2h.7M303.1 33.1h.7M295.7 37.4h.7M289.1 42.1h.7M297.0 53.5h.7M291.6 38.3h.7M301.0 45.2h.7M298.2 38.2h.7M301.5 44.9h.7M285.1 39.9h.7M288.4 32.5h.7M299.0 42.5h.7M298.8 35.0h.7M296.6 34.7h.7M300.7 47.5h.7M310.3 52.1h.7M292.4 38.3h.7M291.4 44.4h.7M311.9 47.7h.7M282.6 31.9h.7M289.0 46.1h.7M298.0 44.4h.7M310.5 35.4h.7M292.1 57.7h.7M300.4 35.8h.7M283.8 29.8h.7M280.9 42.5h.7M298.3 49.9h.7M297.0 36.5h.7M292.8 57.2h.7M285.6 43.4h.7M298.2 46.9h.7M295.2 46.0h.7M303.7 40.8h.7M294.8 40.5h.7M291.2 40.3h.7M295.9 43.7h.7M307.4 52.5h.7M294.9 46.8h.7M300.1 48.1h.7M298.2 44.1h.7M294.7 35.7h.7M304.1 52.4h.7M302.6 45.5h.7M299.9 38.4h.7M285.5 47.3h.7M299.4 37.6h.7M291.2 52.2h.7M285.4 56.1h.7M302.5 61.0h.7M293.0 41.8h.7M294.5 43.2h.7M296.5 36.0h.7M305.5 35.7h.7M294.4 46.4h.7M294.2 38.5h.7M300.5 39.1h.7M289.3 41.2h.7" stroke="#000" stroke-width="0.7" fill="none"/>
<rect x="278.5" y="14.5" width="53.0" height="51.0" fill="none" stroke="#9c9c9c" stroke-width="0.8"/>
<path d="M294.5 65.5 L294.5 42.5 L331.5 42.5" fill="none" stroke="#444" stroke-width="0.85"/>
<line x1="278.3" y1="65.3" x2="278.3" y2="66.5" stroke="#777" stroke-width="0.6"/>
<line x1="291.7" y1="65.3" x2="291.7" y2="66.5" stroke="#777" stroke-width="0.6"/>
<line x1="305.1" y1="65.3" x2="305.1" y2="66.5" stroke="#777" stroke-width="0.6"/>
<line x1="318.4" y1="65.3" x2="318.4" y2="66.5" stroke="#777" stroke-width="0.6"/>
<line x1="331.8" y1="65.3" x2="331.8" y2="66.5" stroke="#777" stroke-width="0.6"/>
<text x="310.3" y="20.4" font-size="6.2" textLength="21.3" lengthAdjust="spacingAndGlyphs" fill="#3c3c3c" stroke="none">R2=37%</text>
<text x="318.9" y="58.3" font-size="4.3" text-anchor="end" font-weight="bold" textLength="5.2" lengthAdjust="spacingAndGlyphs" fill="#222" stroke="none">R2</text>
<path d="M358.7 41.9h.7M356.2 39.7h.7M357.1 35.7h.7M358.4 37.6h.7M361.7 42.0h.7M357.5 40.8h.7M362.1 39.2h.7M357.2 39.5h.7M359.0 37.9h.7M358.5 38.8h.7M362.4 40.2h.7M358.7 39.8h.7M363.4 34.0h.7M363.4 32.8h.7M360.8 38.6h.7M363.5 37.6h.7M358.0 34.4h.7M355.8 39.1h.7M358.6 34.6h.7M360.8 34.5h.7M358.1 35.4h.7M363.9 41.2h.7M358.9 32.1h.7M360.1 37.0h.7M360.3 38.5h.7M358.4 39.6h.7M361.6 37.4h.7M358.2 35.4h.7M361.2 33.5h.7M358.9 34.6h.7M355.4 38.6h.7M359.2 36.9h.7M361.7 32.3h.7M359.1 37.7h.7M361.6 33.5h.7M361.3 37.5h.7M363.1 40.2h.7M360.8 43.2h.7M359.3 35.5h.7M358.3 34.0h.7M359.2 31.2h.7M359.1 38.1h.7M362.1 35.8h.7M363.2 34.8h.7M358.9 31.2h.7M357.2 34.4h.7M363.4 38.4h.7M356.3 38.4h.7M360.6 36.1h.7M359.4 35.9h.7M357.8 31.6h.7M359.1 40.6h.7M363.2 36.0h.7M357.3 36.2h.7M361.8 37.8h.7M357.7 37.9h.7M358.7 38.3h.7M358.2 32.5h.7M359.5 39.0h.7M356.3 36.5h.7M361.7 35.7h.7M357.5 42.7h.7M361.6 39.8h.7M356.7 41.6h.7M354.8 35.3h.7M361.3 40.7h.7M356.8 34.9h.7M359.8 31.2h.7M361.0 38.4h.7M358.1 38.4h.7M361.4 37.7h.7M360.7 41.2h.7M358.0 37.3h.7M357.9 39.8h.7M358.2 38.2h.7M359.7 37.0h.7M364.0 36.6h.7M363.1 39.2h.7M362.9 36.3h.7M361.8 39.0h.7M357.6 37.6h.7M359.0 36.7h.7M362.8 34.7h.7M354.7 31.8h.7M358.1 34.9h.7M359.3 38.4h.7M364.1 37.7h.7M360.6 34.7h.7M360.9 40.7h.7M362.9 31.1h.7M361.7 41.4h.7M361.5 32.5h.7M358.5 38.5h.7M360.4 34.5h.7M356.9 39.6h.7M355.7 40.9h.7M359.4 37.7h.7M355.7 35.1h.7M361.2 32.6h.7M364.9 32.7h.7M356.0 36.9h.7M360.6 38.9h.7M358.3 36.2h.7M358.7 35.1h.7M352.4 39.6h.7M360.0 37.3h.7M357.6 37.5h.7M359.3 36.6h.7M362.3 31.8h.7M360.0 33.7h.7M358.4 41.1h.7M356.4 36.5h.7M357.7 39.5h.7M356.7 32.0h.7M360.7 35.8h.7M358.4 39.9h.7M356.9 35.7h.7M359.7 38.0h.7M357.9 39.8h.7M365.3 35.6h.7M364.3 30.7h.7M363.1 35.8h.7M359.7 35.8h.7M357.6 33.1h.7M358.2 40.5h.7M362.4 35.8h.7M357.9 34.8h.7M356.1 42.0h.7M361.1 37.1h.7M358.0 33.9h.7M362.8 39.0h.7M356.7 39.6h.7M356.3 38.6h.7M356.7 35.6h.7M360.6 38.0h.7M362.0 34.4h.7M363.5 40.7h.7M359.3 38.1h.7M357.2 36.4h.7M355.7 37.1h.7M359.8 40.7h.7M361.8 39.1h.7M358.3 36.2h.7M358.4 37.4h.7M354.1 39.0h.7M355.1 35.3h.7M359.4 35.3h.7M363.8 36.5h.7M363.5 40.2h.7M358.0 38.0h.7M362.8 35.8h.7M359.5 35.2h.7M359.5 35.8h.7M359.5 39.7h.7M363.0 37.2h.7M359.8 39.3h.7M358.5 33.8h.7M362.3 34.1h.7M361.8 34.0h.7M364.2 33.8h.7M361.6 41.1h.7M356.7 41.1h.7M357.1 31.7h.7M361.2 38.8h.7M358.8 29.5h.7M359.2 35.9h.7M358.3 36.0h.7M354.5 35.2h.7M364.1 41.3h.7M358.3 34.7h.7M360.4 39.9h.7M361.2 33.4h.7M359.7 37.2h.7M363.2 40.2h.7M360.7 40.3h.7M358.2 41.2h.7M358.2 37.9h.7M361.8 34.2h.7M357.4 31.7h.7M359.7 36.6h.7M358.4 38.2h.7M353.6 36.7h.7M359.5 36.0h.7M361.4 41.8h.7M358.1 34.1h.7M357.7 37.1h.7M360.9 34.3h.7M362.0 33.8h.7M361.5 38.0h.7M360.5 43.0h.7M358.6 36.3h.7M360.6 39.3h.7M355.7 37.6h.7M357.3 38.6h.7M363.0 36.9h.7M359.0 37.3h.7M351.4 39.0h.7M360.8 37.3h.7M358.2 34.7h.7M358.8 40.3h.7M359.0 40.7h.7M352.4 35.5h.7M360.0 36.8h.7M354.8 34.9h.7M362.7 33.1h.7M356.6 33.6h.7M357.8 38.7h.7M360.9 31.0h.7M363.2 35.1h.7M357.7 41.6h.7M359.1 33.2h.7M357.6 34.7h.7M356.6 35.8h.7M361.7 37.8h.7M355.6 44.8h.7M356.6 37.1h.7M359.4 39.0h.7M358.4 38.1h.7M365.0 37.1h.7M356.4 37.7h.7M357.1 35.7h.7M359.8 37.8h.7M358.5 39.2h.7M358.8 33.0h.7M361.7 35.8h.7M362.6 34.9h.7M360.8 37.7h.7M352.1 32.5h.7M356.3 40.9h.7M354.2 39.4h.7M362.2 38.2h.7M361.1 35.4h.7M359.3 37.4h.7M360.4 38.8h.7M358.7 34.8h.7M357.8 38.0h.7M354.8 33.2h.7M358.2 35.2h.7M358.6 29.1h.7M358.4 36.1h.7M361.4 31.1h.7M358.5 38.2h.7M360.6 40.2h.7M362.1 33.8h.7M361.0 35.8h.7M357.1 41.2h.7M357.6 34.3h.7M358.2 34.3h.7M362.0 37.9h.7M363.1 38.0h.7M357.6 39.8h.7M357.5 35.5h.7M358.8 36.9h.7M362.5 35.1h.7M360.2 36.7h.7M355.9 33.6h.7M358.7 38.0h.7M360.2 38.2h.7M359.4 35.5h.7M360.4 33.9h.7M355.7 35.8h.7M355.4 35.3h.7M357.3 35.2h.7M359.2 34.5h.7M358.2 31.9h.7M359.7 34.3h.7M360.4 28.6h.7M357.1 37.5h.7M352.7 35.8h.7M359.6 37.1h.7M355.3 37.5h.7M359.7 34.0h.7M361.3 36.7h.7M359.4 35.5h.7M360.8 37.1h.7M362.4 38.1h.7M357.6 36.2h.7M361.8 35.7h.7M360.3 38.3h.7M358.8 30.1h.7M359.7 37.4h.7M359.7 34.6h.7M362.6 36.4h.7M357.6 34.7h.7M360.3 33.6h.7M356.6 42.6h.7M362.8 39.9h.7M363.0 38.5h.7M354.7 40.3h.7M362.7 38.2h.7M354.0 40.4h.7M363.0 35.4h.7M359.6 39.1h.7M359.1 40.0h.7M359.5 38.8h.7M359.5 32.5h.7M356.6 46.0h.7M360.1 40.6h.7M362.4 41.8h.7M360.8 35.1h.7M359.4 31.2h.7M358.8 39.4h.7M353.4 37.4h.7M361.5 40.7h.7M356.8 34.9h.7M354.2 33.8h.7M360.8 42.8h.7M356.2 40.8h.7M360.5 35.4h.7M365.3 29.5h.7M359.1 37.4h.7M365.1 42.0h.7M365.5 37.2h.7M362.0 40.8h.7M360.7 37.8h.7M358.8 35.6h.7M356.0 42.5h.7M358.1 30.7h.7M360.0 36.7h.7M359.8 42.1h.7M359.0 36.0h.7M357.3 36.7h.7M358.1 37.4h.7M367.8 37.9h.7M357.0 42.4h.7M361.7 39.2h.7M361.2 39.2h.7M361.1 40.9h.7M362.0 40.7h.7M357.9 36.8h.7M357.3 39.6h.7M361.6 35.4h.7M360.9 44.5h.7M362.7 33.5h.7M359.0 38.7h.7M359.2 37.9h.7M362.5 37.8h.7M356.3 38.9h.7M359.0 37.1h.7M357.8 32.8h.7M355.9 35.8h.7M356.4 28.9h.7M362.4 33.4h.7M357.3 38.4h.7M352.7 40.7h.7M357.2 38.7h.7M358.0 37.7h.7M359.6 36.8h.7M354.3 32.5h.7M359.2 40.9h.7M357.8 38.4h.7M359.7 38.2h.7M362.0 32.4h.7M360.0 36.3h.7M358.4 34.3h.7M357.2 33.8h.7M356.3 44.1h.7M363.9 36.8h.7M361.3 33.9h.7M351.7 31.5h.7M359.7 41.0h.7M359.2 33.9h.7M358.6 33.9h.7M355.5 36.1h.7M358.2 34.4h.7M356.9 34.1h.7M359.9 40.9h.7M358.7 43.3h.7M354.9 37.6h.7M356.1 36.3h.7M359.6 38.4h.7M362.4 35.2h.7M355.9 36.2h.7M360.1 34.8h.7M361.7 41.7h.7M355.4 37.9h.7M362.1 31.2h.7M359.9 36.1h.7M355.4 40.6h.7M359.9 35.4h.7M360.5 38.7h.7M361.4 38.5h.7M360.4 33.4h.7M358.2 37.2h.7M351.7 43.0h.7M358.3 33.7h.7M354.3 37.5h.7M359.4 35.1h.7M358.2 34.2h.7M357.3 36.5h.7M357.5 38.8h.7M358.9 37.2h.7M360.4 40.5h.7M360.9 37.5h.7M358.9 34.4h.7M358.4 38.8h.7M359.9 35.7h.7M355.7 32.3h.7M360.2 39.8h.7M360.3 32.8h.7M358.7 37.4h.7M356.8 37.8h.7M358.8 34.4h.7M355.9 39.2h.7M360.3 34.2h.7M356.5 39.4h.7M360.9 35.9h.7M363.6 36.0h.7M356.4 40.0h.7M358.8 37.8h.7M359.4 33.9h.7M356.1 36.2h.7M363.1 33.9h.7M363.0 37.4h.7M356.3 37.6h.7M360.8 34.2h.7M353.5 37.8h.7M356.3 38.1h.7M354.1 36.4h.7M357.1 32.5h.7M358.6 37.3h.7M357.8 33.4h.7M359.9 31.7h.7M360.8 38.2h.7M363.9 39.4h.7M360.3 37.6h.7M359.4 32.9h.7M363.3 38.3h.7M358.5 33.5h.7M363.3 38.4h.7M356.1 38.8h.7M364.5 36.7h.7M360.4 35.6h.7M357.6 39.9h.7M367.7 37.1h.7M359.0 39.1h.7M358.5 38.9h.7M361.6 33.8h.7M356.4 36.6h.7M361.6 37.6h.7M362.7 32.8h.7M360.6 35.0h.7M359.6 37.7h.7M356.7 36.1h.7M356.1 37.6h.7M357.0 35.4h.7M359.9 34.9h.7M362.4 34.9h.7M361.6 37.6h.7M356.5 36.2h.7M357.0 35.7h.7M358.6 42.1h.7M358.2 41.4h.7M360.5 33.0h.7M353.0 38.8h.7M353.9 38.9h.7M362.1 37.9h.7M358.7 36.1h.7M360.0 35.9h.7M357.8 35.7h.7M362.5 35.0h.7M360.3 33.5h.7M357.4 32.8h.7M358.8 38.8h.7M360.1 35.4h.7M361.0 35.8h.7M360.3 37.6h.7M360.8 29.6h.7M355.8 39.0h.7M359.0 43.3h.7M358.7 35.2h.7M363.3 38.4h.7M364.4 38.3h.7M358.7 38.9h.7M357.2 35.5h.7M357.8 36.2h.7M361.4 35.4h.7M360.2 35.4h.7M361.7 28.8h.7M358.7 37.3h.7M356.4 39.7h.7M359.9 40.5h.7M361.9 38.7h.7M358.9 33.6h.7M358.7 35.5h.7M360.0 35.5h.7M367.6 32.2h.7M362.5 35.4h.7M358.6 39.5h.7M359.3 33.3h.7M360.4 36.2h.7M353.7 37.4h.7M356.4 34.6h.7M360.6 37.7h.7M358.5 43.1h.7M360.4 35.0h.7M359.9 36.4h.7M353.3 32.2h.7M355.5 42.8h.7M358.8 36.0h.7M357.8 39.6h.7M359.4 41.7h.7M361.4 41.6h.7M359.0 37.9h.7M358.1 36.3h.7M354.6 35.1h.7M356.7 34.9h.7M362.6 37.6h.7M362.6 39.3h.7M361.8 39.7h.7M357.7 39.1h.7M358.4 35.3h.7M362.5 43.1h.7M356.7 41.8h.7M361.5 34.3h.7M360.0 37.9h.7M360.3 35.8h.7M355.8 36.9h.7M361.6 39.1h.7M361.1 40.0h.7M356.6 36.7h.7M360.2 39.7h.7M359.7 38.3h.7M359.7 42.9h.7M353.4 36.7h.7M366.0 37.5h.7M354.4 37.2h.7M355.4 34.8h.7M359.9 41.8h.7M360.5 38.7h.7M362.0 37.4h.7M357.0 36.5h.7M360.2 36.0h.7M357.5 35.8h.7M355.3 33.8h.7M359.1 35.8h.7M359.4 40.9h.7M360.1 36.7h.7M356.1 33.7h.7M360.3 34.3h.7M373.8 28.6h.7M373.0 31.8h.7M375.5 30.8h.7M371.5 32.8h.7M372.8 37.4h.7M371.9 30.3h.7M371.7 33.5h.7M373.3 34.2h.7M368.6 39.9h.7M377.9 31.9h.7M369.1 32.5h.7M373.8 24.9h.7M372.6 27.3h.7M373.9 36.4h.7M375.6 27.2h.7M376.6 34.9h.7M371.6 33.6h.7M377.0 30.9h.7M372.6 30.2h.7M375.9 25.2h.7M376.7 28.9h.7M375.3 26.8h.7M369.9 30.1h.7M375.0 26.9h.7M374.3 30.0h.7M376.2 31.0h.7M374.0 31.5h.7M377.8 30.9h.7M372.5 38.3h.7M372.8 34.2h.7M370.5 32.6h.7M366.1 32.3h.7M370.7 27.2h.7M368.5 35.6h.7M373.8 27.2h.7M377.8 29.8h.7M371.5 32.8h.7M369.3 26.9h.7M370.4 35.8h.7M375.3 27.0h.7M376.1 32.1h.7M374.0 32.2h.7M373.8 28.8h.7M370.0 29.8h.7M371.5 34.0h.7M369.1 37.1h.7M370.8 30.1h.7M374.6 33.4h.7M371.6 28.6h.7M369.7 26.9h.7M375.9 35.4h.7M378.0 33.6h.7M373.6 34.4h.7M375.3 31.2h.7M373.6 38.8h.7M367.7 27.5h.7M369.8 34.4h.7M376.0 30.9h.7M374.5 31.8h.7M373.5 30.3h.7M372.5 32.0h.7M375.9 39.1h.7M367.4 33.7h.7M372.6 35.1h.7M375.7 34.5h.7M374.9 29.0h.7M367.7 37.3h.7M376.1 29.0h.7M376.3 34.1h.7M365.5 34.9h.7M369.7 35.7h.7M370.6 29.6h.7M368.1 31.3h.7M375.5 29.9h.7M367.2 38.8h.7M377.9 34.2h.7M371.0 28.1h.7M367.9 33.8h.7M376.4 28.6h.7M372.6 31.1h.7M371.9 33.6h.7M378.6 30.0h.7M375.1 35.5h.7M371.8 31.5h.7M368.7 35.4h.7M371.1 29.9h.7M372.8 29.3h.7M369.6 31.1h.7M376.9 31.3h.7M374.1 27.3h.7M367.0 37.8h.7M371.4 27.1h.7M372.3 33.9h.7M367.6 29.2h.7M373.4 29.1h.7M374.9 35.1h.7M373.9 30.6h.7M372.5 30.0h.7M372.2 33.0h.7M371.7 35.1h.7M380.1 30.3h.7M373.6 34.6h.7M374.5 31.2h.7M371.2 35.2h.7M374.4 33.6h.7M370.3 34.0h.7M374.9 31.4h.7M374.5 38.9h.7M367.2 33.9h.7M369.2 27.7h.7M371.9 33.7h.7M372.8 28.3h.7M368.4 30.2h.7M372.6 29.4h.7M368.2 37.6h.7M370.2 31.5h.7M371.0 30.1h.7M372.7 31.0h.7M374.4 28.2h.7M368.3 38.2h.7M372.4 34.5h.7M376.0 33.8h.7M372.7 27.0h.7M368.0 35.1h.7M374.6 33.8h.7M367.8 25.2h.7M369.5 28.2h.7M373.1 28.7h.7M377.2 30.0h.7M371.0 34.8h.7M373.6 29.1h.7M375.0 38.1h.7M369.0 31.2h.7M369.5 25.8h.7M374.4 34.2h.7M375.4 33.4h.7M366.7 31.9h.7M370.7 28.2h.7M369.4 34.5h.7M371.7 38.3h.7M374.0 25.9h.7M375.2 36.0h.7M372.7 28.1h.7M377.8 27.8h.7M372.4 25.9h.7M368.9 26.5h.7M375.8 35.8h.7M371.4 27.6h.7M372.4 33.2h.7M368.1 28.3h.7M372.3 34.3h.7M372.8 33.4h.7M369.0 24.0h.7M373.5 29.0h.7M372.2 30.8h.7M374.0 29.5h.7M376.8 32.1h.7M374.1 34.0h.7M375.6 33.3h.7M367.5 30.0h.7M378.1 33.5h.7M374.2 33.5h.7M370.7 29.8h.7M370.7 35.7h.7M373.7 37.7h.7M374.1 38.1h.7M373.9 28.2h.7M377.7 33.1h.7M376.1 32.7h.7M371.6 32.5h.7M369.3 28.1h.7M370.0 30.3h.7M368.6 31.7h.7M373.5 38.6h.7M378.0 31.8h.7M375.2 31.3h.7M373.8 31.9h.7M371.0 32.2h.7M368.2 33.4h.7M371.7 28.5h.7M371.5 33.8h.7M370.6 33.5h.7M374.3 37.1h.7M369.4 31.6h.7M374.1 36.9h.7M373.4 34.4h.7M368.3 30.1h.7M377.5 31.1h.7M379.0 29.6h.7M371.8 26.8h.7M374.5 32.9h.7M378.6 32.5h.7M371.9 27.4h.7M372.4 35.1h.7M374.8 36.0h.7M375.2 31.8h.7M374.4 32.6h.7M368.7 37.6h.7M373.7 28.6h.7M373.7 32.9h.7M375.6 36.7h.7M363.6 33.8h.7M377.1 28.9h.7M367.1 32.9h.7M373.6 33.1h.7M369.3 30.5h.7M373.2 34.4h.7M379.1 33.0h.7M370.8 24.3h.7M375.8 31.6h.7M372.3 28.8h.7M374.8 26.1h.7M372.9 32.4h.7M373.5 36.3h.7M372.3 32.3h.7M375.1 26.9h.7M371.7 32.2h.7M375.4 29.4h.7M375.0 33.3h.7M368.2 27.2h.7M368.3 32.5h.7M373.2 34.4h.7M375.0 30.2h.7M375.8 34.7h.7M374.0 33.6h.7M368.8 33.2h.7M369.5 28.1h.7M371.6 32.5h.7M372.4 30.9h.7M369.6 32.6h.7M370.4 27.4h.7M372.9 36.8h.7M371.4 28.5h.7M376.7 37.6h.7M371.7 31.3h.7M373.2 41.7h.7M373.0 35.3h.7M373.9 26.0h.7M369.3 28.0h.7M373.9 32.3h.7M377.9 31.1h.7M373.5 32.2h.7M373.0 39.6h.7M373.5 36.8h.7M376.5 30.0h.7M374.6 30.7h.7M372.9 32.5h.7M372.7 30.5h.7M377.3 31.1h.7M374.7 37.5h.7M374.5 35.4h.7M376.8 35.6h.7M377.7 27.3h.7M378.5 32.1h.7M367.4 29.9h.7M368.4 31.9h.7M368.1 28.7h.7M373.5 32.5h.7M370.2 31.2h.7M372.3 32.2h.7M372.6 31.3h.7M375.2 26.7h.7M371.1 32.4h.7M371.4 30.2h.7M371.3 32.7h.7M376.3 31.4h.7M371.8 33.2h.7M371.9 25.6h.7M373.4 30.8h.7M370.9 34.1h.7M372.7 30.1h.7M366.1 26.3h.7M372.6 31.6h.7M373.9 32.7h.7M371.2 27.8h.7M369.3 31.5h.7M369.2 34.5h.7M368.6 26.1h.7M372.0 26.1h.7M377.5 28.7h.7M372.4 31.2h.7M370.1 26.2h.7M367.0 34.9h.7M375.7 39.1h.7M368.2 33.8h.7M372.6 34.8h.7M371.1 34.4h.7M375.3 34.0h.7M376.9 31.4h.7M377.2 29.7h.7M377.6 22.9h.7M372.6 29.4h.7M372.6 35.4h.7M374.8 32.3h.7M377.7 27.1h.7M370.2 37.0h.7M373.6 25.2h.7M373.6 28.1h.7M377.0 35.8h.7M371.0 36.3h.7M370.1 35.0h.7M374.3 31.6h.7M368.3 31.1h.7M365.7 30.1h.7M367.0 36.0h.7M369.7 24.0h.7M374.4 33.2h.7M371.1 39.0h.7M374.9 32.2h.7M370.7 22.2h.7M374.0 35.2h.7M370.8 27.3h.7M372.5 26.5h.7M372.6 34.5h.7M377.1 32.9h.7M373.2 34.5h.7M376.8 30.9h.7M368.9 29.4h.7M368.8 29.1h.7M372.2 33.1h.7M373.1 32.2h.7M371.5 33.4h.7M375.3 34.5h.7M377.1 31.0h.7M371.8 37.6h.7M373.2 33.4h.7M371.6 35.2h.7M371.4 28.7h.7M372.4 30.5h.7M375.1 30.8h.7M373.0 31.3h.7M373.6 29.9h.7M375.9 27.3h.7M371.4 29.7h.7M374.5 32.1h.7M374.1 30.9h.7M370.4 28.3h.7M371.6 30.2h.7M373.4 33.2h.7M375.5 31.6h.7M368.2 45.6h.7M370.9 52.0h.7M377.1 51.2h.7M376.5 58.8h.7M367.2 55.8h.7M374.5 56.5h.7M370.7 54.7h.7M369.1 50.1h.7M370.8 58.4h.7M370.0 54.7h.7M370.9 47.2h.7M371.5 53.4h.7M368.4 53.3h.7M368.3 46.5h.7M371.4 49.3h.7M367.5 43.1h.7M370.8 51.5h.7M369.2 51.2h.7M365.7 52.2h.7M372.1 51.7h.7M368.7 50.8h.7M371.1 55.2h.7M371.6 51.5h.7M368.3 54.3h.7M374.6 48.2h.7M372.8 51.8h.7M370.5 44.6h.7M376.5 42.0h.7M371.7 48.7h.7M374.5 48.5h.7M370.8 53.1h.7M372.2 48.1h.7M372.9 52.2h.7M374.0 48.1h.7M370.5 48.6h.7M367.9 51.5h.7M372.0 56.8h.7M369.6 52.1h.7M374.5 49.9h.7M370.9 51.0h.7M368.4 46.0h.7M374.4 51.2h.7M370.5 44.8h.7M371.1 55.7h.7M366.9 46.4h.7M374.3 56.8h.7M375.8 47.9h.7M372.7 47.0h.7M372.4 48.8h.7M371.3 56.4h.7M371.8 49.3h.7M370.9 51.6h.7M369.0 51.3h.7M372.7 57.4h.7M363.9 45.1h.7M366.6 54.3h.7M378.7 51.3h.7M371.1 55.5h.7M362.7 49.6h.7M360.5 51.1h.7M369.0 48.2h.7M371.8 47.8h.7M374.3 50.4h.7M371.9 61.7h.7M369.2 54.5h.7M368.0 56.0h.7M373.9 51.0h.7M373.9 57.6h.7M375.2 50.4h.7M370.5 55.3h.7M365.9 47.7h.7M372.3 52.9h.7M376.8 58.3h.7M371.8 52.4h.7M366.4 49.6h.7M371.6 49.4h.7M370.9 53.1h.7M367.6 47.9h.7M364.9 55.5h.7M367.3 42.8h.7M373.2 49.4h.7M373.9 48.8h.7M377.6 53.6h.7M371.2 50.9h.7M370.0 54.0h.7M377.2 48.5h.7M367.1 53.1h.7M374.2 43.8h.7M368.4 46.0h.7M372.5 52.6h.7M368.3 45.4h.7M372.9 41.3h.7M372.8 49.7h.7M377.0 54.8h.7M368.8 49.2h.7M369.8 47.2h.7M371.0 54.7h.7M365.8 49.4h.7M375.6 53.7h.7M368.1 46.8h.7M367.9 43.3h.7M374.4 50.7h.7M368.4 44.0h.7M369.5 48.1h.7M376.3 48.4h.7M371.1 55.1h.7M372.9 49.6h.7M363.6 56.6h.7M372.6 48.5h.7M370.4 46.2h.7M367.8 43.8h.7M372.3 52.7h.7M371.3 53.9h.7M372.4 50.9h.7M367.8 53.0h.7M374.6 53.2h.7M374.7 48.3h.7M367.5 55.9h.7M368.8 51.5h.7M370.1 50.5h.7M369.8 48.0h.7M364.9 58.8h.7M371.4 41.9h.7M367.8 45.4h.7M368.3 39.1h.7M372.6 57.6h.7M369.9 53.7h.7M372.6 44.9h.7M374.6 43.0h.7M368.8 48.8h.7M374.8 50.9h.7M370.3 46.9h.7M371.0 50.6h.7M373.1 56.6h.7M373.1 50.5h.7M370.2 57.5h.7M371.3 50.3h.7M376.5 57.3h.7M372.5 49.9h.7M368.7 55.1h.7M369.2 54.6h.7M368.2 50.9h.7M372.0 51.0h.7M371.5 52.1h.7M367.1 45.5h.7M370.2 58.3h.7M370.3 46.3h.7M368.6 50.5h.7M374.5 47.9h.7M372.5 51.2h.7M369.6 46.2h.7M370.2 47.2h.7M372.4 42.7h.7M374.3 53.7h.7M372.6 57.0h.7M372.6 42.9h.7M370.9 52.4h.7M368.5 45.4h.7M372.1 52.6h.7M369.3 49.3h.7M369.1 47.9h.7M370.5 55.1h.7M365.5 48.9h.7M375.9 51.8h.7M371.2 54.1h.7M367.5 45.1h.7M365.4 44.0h.7M371.5 54.1h.7M369.4 47.4h.7M372.0 53.1h.7M371.5 42.0h.7M368.9 39.3h.7M371.5 46.7h.7M368.6 57.0h.7M374.9 52.5h.7M371.6 51.2h.7M368.8 50.2h.7M376.8 46.6h.7M368.6 51.1h.7M373.6 54.1h.7M367.6 49.8h.7M369.8 45.0h.7M370.9 48.3h.7M373.7 52.3h.7M368.2 50.8h.7M369.6 47.6h.7M369.1 55.1h.7M369.4 42.9h.7M368.2 53.9h.7M377.6 45.8h.7M369.6 49.0h.7M366.2 52.2h.7M370.5 51.6h.7M377.9 49.2h.7M373.2 54.1h.7M368.7 47.8h.7M375.7 53.5h.7M371.2 45.6h.7M373.5 52.7h.7M377.8 56.9h.7M373.3 51.6h.7M370.9 48.0h.7M371.7 51.5h.7M372.8 55.2h.7M371.7 48.0h.7M373.3 57.2h.7M368.0 52.2h.7M372.5 52.7h.7M372.3 50.0h.7M370.4 57.8h.7M376.3 44.3h.7M362.6 52.3h.7M368.5 48.1h.7M365.6 51.9h.7M370.5 48.0h.7M373.6 61.0h.7M375.4 55.5h.7M369.4 53.3h.7M370.6 55.5h.7M372.6 50.2h.7M372.5 47.3h.7M373.2 57.0h.7M369.5 52.8h.7M365.4 54.5h.7M373.5 45.9h.7M376.3 50.9h.7M365.2 44.4h.7M373.5 49.2h.7M374.2 43.6h.7M370.4 54.7h.7M368.5 53.4h.7M369.5 51.9h.7M371.7 60.2h.7M366.7 53.8h.7M374.9 45.5h.7M371.0 60.5h.7M374.1 37.4h.7M369.9 42.9h.7M371.7 47.2h.7M368.9 46.7h.7M371.6 48.4h.7M367.8 49.4h.7M372.0 46.7h.7M374.3 43.1h.7M372.0 48.7h.7M375.7 47.6h.7M368.6 44.5h.7M377.1 53.1h.7M367.2 48.9h.7M367.6 57.1h.7M372.0 41.5h.7M371.4 54.4h.7M370.7 52.5h.7M370.3 51.3h.7M371.4 47.3h.7M371.8 51.1h.7M370.6 47.4h.7M367.4 51.5h.7M373.3 39.8h.7M369.0 56.3h.7M373.6 47.3h.7M375.0 46.1h.7M368.2 58.9h.7M369.3 49.5h.7M365.4 46.0h.7M366.9 49.8h.7M364.8 55.1h.7M369.6 47.8h.7M368.7 53.7h.7M375.6 48.6h.7M375.9 57.4h.7M375.0 51.7h.7M365.9 53.3h.7M369.4 51.3h.7M364.7 49.2h.7M371.4 46.3h.7M371.6 57.7h.7M371.4 47.4h.7M378.4 41.0h.7M367.7 52.2h.7M368.8 40.4h.7M371.5 54.0h.7M368.1 56.8h.7M372.3 55.6h.7M365.8 50.4h.7M375.8 59.2h.7M374.9 50.4h.7M371.3 47.7h.7M374.2 47.4h.7M371.1 41.4h.7M365.9 58.2h.7M370.9 51.3h.7M363.6 50.3h.7M377.4 43.8h.7M363.1 49.7h.7M369.0 49.5h.7M366.7 44.4h.7M366.7 53.2h.7M370.5 54.0h.7M367.2 53.0h.7M369.3 50.8h.7M373.7 50.5h.7M369.6 43.1h.7M370.9 53.8h.7M368.7 50.1h.7M365.0 44.5h.7M372.0 56.1h.7M369.7 43.0h.7M369.5 43.5h.7M369.8 58.9h.7M371.7 49.7h.7M374.1 48.7h.7M371.8 51.3h.7M372.1 43.9h.7M373.0 54.3h.7M363.3 38.4h.7M367.8 57.0h.7M370.8 53.4h.7M372.5 54.3h.7M368.6 47.8h.7M371.9 53.1h.7M372.6 51.9h.7M369.1 55.3h.7M372.2 55.1h.7M362.5 54.9h.7M362.8 51.3h.7M368.5 50.9h.7M369.2 49.0h.7M371.3 51.9h.7M368.1 39.2h.7M368.2 52.8h.7M368.0 52.3h.7M369.5 46.2h.7M374.5 57.8h.7M370.4 50.2h.7M373.8 44.5h.7M367.9 55.4h.7M373.6 48.2h.7M368.2 52.0h.7M366.1 48.2h.7M369.9 39.5h.7M372.6 53.8h.7M374.2 44.0h.7M366.5 46.8h.7M366.4 59.5h.7M367.5 49.0h.7M371.4 52.4h.7M375.4 45.5h.7M373.6 51.1h.7M366.9 51.1h.7M366.1 57.6h.7M368.3 54.9h.7M375.0 47.6h.7M367.8 51.0h.7M367.3 54.4h.7M371.3 47.0h.7M368.5 53.6h.7M366.0 57.9h.7M368.1 49.5h.7M367.7 57.7h.7M373.4 56.2h.7M372.8 50.8h.7M376.3 53.4h.7M372.1 53.0h.7M373.1 51.6h.7M370.2 43.3h.7M377.5 44.6h.7M363.6 47.2h.7M377.1 55.9h.7M368.7 51.6h.7M370.6 41.5h.7M369.6 51.7h.7M374.6 45.0h.7M363.3 43.3h.7M371.8 50.8h.7M371.2 51.1h.7M369.5 44.3h.7M372.2 52.1h.7M372.6 56.0h.7M366.6 39.9h.7M364.8 60.0h.7M367.7 52.2h.7M370.7 53.7h.7M381.3 48.1h.7M370.1 47.7h.7M371.5 52.7h.7M367.5 56.3h.7M374.5 52.4h.7M370.3 49.3h.7M365.3 53.4h.7M367.5 48.1h.7M374.0 46.3h.7M369.0 54.3h.7M376.8 47.3h.7M374.3 47.5h.7M372.0 52.6h.7M366.9 55.0h.7M376.6 50.6h.7M371.6 45.1h.7M376.6 50.7h.7M366.5 53.8h.7M365.9 47.3h.7M363.7 56.6h.7M378.0 47.5h.7M368.5 47.8h.7M368.8 52.9h.7M375.5 45.9h.7M372.2 42.3h.7M375.7 50.0h.7M368.4 57.3h.7M370.4 56.6h.7M374.2 57.9h.7M368.1 50.7h.7M371.9 49.5h.7M375.7 47.2h.7M374.0 56.5h.7M364.3 46.0h.7M367.7 47.9h.7M372.0 49.6h.7M371.0 48.3h.7M370.4 52.6h.7M373.2 46.9h.7M370.3 47.0h.7M370.1 43.9h.7M373.8 53.4h.7M370.3 47.3h.7M369.2 47.4h.7M365.6 57.7h.7M381.6 44.9h.7M366.8 53.0h.7M372.7 43.3h.7M364.4 52.8h.7M364.1 56.8h.7M369.1 50.8h.7M370.7 47.9h.7M370.2 49.1h.7M374.8 50.0h.7M370.6 48.0h.7M368.6 47.1h.7M370.7 58.7h.7M374.4 51.5h.7M376.2 55.0h.7M371.4 49.7h.7M367.1 51.5h.7M369.7 43.3h.7M366.5 59.1h.7M371.4 52.6h.7M371.4 48.3h.7M372.2 55.3h.7M369.7 52.7h.7M374.1 48.2h.7M371.3 47.1h.7M372.7 48.7h.7M374.5 47.0h.7M376.3 49.0h.7M367.9 46.3h.7M372.9 46.5h.7M376.7 56.2h.7M372.4 44.0h.7M370.6 47.1h.7M364.7 52.3h.7M378.0 48.0h.7M373.4 56.2h.7M367.5 48.9h.7M371.6 52.5h.7M366.9 51.4h.7M370.3 54.7h.7M365.4 47.9h.7M369.0 49.0h.7M373.1 47.6h.7M379.7 47.2h.7M373.5 55.0h.7M373.9 49.5h.7M368.0 49.3h.7M372.9 50.9h.7M372.6 53.0h.7M367.8 46.2h.7M375.5 48.2h.7M365.5 58.8h.7M367.9 46.2h.7M373.9 45.3h.7M367.8 55.1h.7M368.0 61.7h.7M371.0 62.5h.7M371.1 50.6h.7M368.6 49.4h.7M369.0 50.3h.7M373.2 44.7h.7M367.7 41.0h.7M375.7 50.1h.7M370.7 50.1h.7M374.0 51.8h.7M373.5 49.6h.7M370.3 50.1h.7M364.6 55.3h.7M365.5 45.9h.7M372.9 50.6h.7M373.4 58.1h.7M376.8 56.6h.7M370.0 59.6h.7M367.8 50.0h.7M374.0 49.4h.7M370.3 48.8h.7M375.2 39.3h.7M374.9 55.2h.7M370.5 52.9h.7M367.5 55.4h.7M380.8 46.3h.7M375.3 50.1h.7M369.6 48.2h.7M370.1 44.8h.7M366.2 57.9h.7M370.6 52.9h.7M371.7 52.5h.7M365.7 46.1h.7M372.8 54.9h.7M366.9 47.8h.7M367.2 53.3h.7M371.8 50.5h.7M368.6 51.9h.7M370.8 47.1h.7M371.8 47.4h.7M373.8 53.2h.7M368.4 53.0h.7M370.9 47.2h.7M367.7 42.9h.7M367.0 52.0h.7M374.7 47.6h.7M371.2 51.9h.7M373.3 52.4h.7M374.7 53.8h.7M368.2 52.2h.7M363.0 49.6h.7M370.8 53.0h.7M369.7 54.1h.7M375.1 46.6h.7M368.9 51.6h.7M372.3 51.0h.7M373.4 45.1h.7M373.3 55.6h.7M374.4 52.3h.7M369.9 52.2h.7M370.5 43.3h.7M368.7 50.2h.7M369.0 46.2h.7M369.9 48.7h.7M370.9 50.2h.7M371.3 54.9h.7M371.2 52.2h.7M366.7 37.1h.7M369.4 53.4h.7M369.6 47.6h.7M366.6 54.4h.7M369.0 51.5h.7M374.4 52.8h.7M378.1 49.8h.7M373.9 53.5h.7M368.5 50.6h.7M368.8 45.8h.7M371.7 46.9h.7M376.2 47.1h.7M368.9 50.8h.7M369.0 50.6h.7M368.7 44.0h.7M362.7 44.6h.7M375.7 52.4h.7M371.2 48.3h.7M370.2 51.7h.7M366.1 46.8h.7M367.8 56.1h.7M367.2 55.7h.7M369.2 62.7h.7M370.4 50.5h.7M375.2 54.3h.7M373.8 45.6h.7M374.4 58.0h.7M370.4 48.2h.7M367.1 55.0h.7M371.7 50.4h.7M366.6 57.7h.7M373.6 50.3h.7M375.6 46.1h.7M373.6 45.9h.7M375.4 49.2h.7M374.7 48.5h.7M372.0 55.5h.7M367.7 50.8h.7M367.9 54.2h.7M368.7 48.7h.7M370.0 55.6h.7M367.3 50.3h.7M369.6 47.9h.7M368.1 49.7h.7M371.3 43.4h.7M371.5 45.1h.7M370.7 60.7h.7M367.5 50.1h.7M369.9 54.8h.7M369.1 42.4h.7M365.4 51.2h.7M371.5 55.2h.7M368.9 53.4h.7M367.2 56.2h.7M370.5 47.3h.7M371.3 58.2h.7M367.9 44.8h.7M367.3 45.2h.7M370.5 52.0h.7M370.2 51.3h.7M374.6 49.1h.7M366.6 40.1h.7M371.5 47.3h.7M369.9 52.2h.7M372.2 43.3h.7M367.5 50.7h.7M370.2 55.6h.7M369.0 41.1h.7M374.6 43.0h.7M367.5 52.2h.7M367.2 61.6h.7M371.5 52.8h.7M369.3 60.4h.7M372.5 47.2h.7M374.8 42.8h.7M368.8 51.7h.7M371.2 46.1h.7M375.9 57.0h.7M367.6 52.1h.7M368.6 48.5h.7M374.0 51.0h.7M370.3 50.9h.7M366.8 55.9h.7M368.2 56.3h.7M369.2 48.3h.7M375.6 51.3h.7M368.6 48.0h.7M372.7 58.8h.7M372.7 48.6h.7M367.0 47.4h.7M370.3 51.5h.7M368.5 56.2h.7M367.5 47.2h.7M372.3 52.6h.7M369.4 54.7h.7M366.1 57.8h.7M377.9 59.2h.7M371.1 59.3h.7M370.9 56.4h.7M370.0 51.3h.7M372.4 42.5h.7M370.0 58.1h.7M361.1 52.1h.7M373.7 51.9h.7M371.3 56.6h.7M371.8 41.9h.7M367.6 49.1h.7M371.2 48.4h.7M370.4 57.9h.7M361.0 55.6h.7M373.8 53.1h.7M370.8 50.7h.7M371.9 51.5h.7M368.3 53.9h.7M368.0 50.2h.7M369.5 45.2h.7M372.7 50.1h.7M366.9 50.1h.7M366.2 56.8h.7M372.4 59.3h.7M368.8 53.6h.7M367.5 46.6h.7M370.4 52.2h.7M373.7 49.2h.7M374.3 54.7h.7M367.8 49.6h.7M367.7 58.1h.7M368.9 54.4h.7M373.7 49.3h.7M369.1 51.9h.7M368.2 44.7h.7M359.3 44.7h.7M367.3 56.0h.7M353.3 46.0h.7M358.0 51.2h.7M370.9 43.0h.7M376.3 39.0h.7M362.3 33.6h.7M361.4 42.9h.7M370.7 52.2h.7M364.1 36.2h.7M363.7 38.6h.7M362.7 38.8h.7M359.9 41.6h.7M362.4 40.7h.7M356.4 43.2h.7M370.0 47.1h.7M362.2 32.9h.7M357.0 32.7h.7M361.5 39.5h.7M353.7 47.3h.7M355.3 36.6h.7M361.0 48.6h.7M378.8 39.2h.7M364.1 38.9h.7M364.6 40.7h.7M383.1 33.4h.7M365.2 35.7h.7M368.5 37.9h.7M370.0 33.4h.7M380.6 43.7h.7M353.7 47.5h.7M362.7 32.9h.7M369.1 37.9h.7M371.1 37.7h.7M372.3 43.2h.7M368.5 43.2h.7M363.5 39.1h.7M369.1 47.6h.7M363.2 59.7h.7M377.7 32.9h.7M373.5 41.4h.7M367.6 35.8h.7M377.4 35.5h.7M365.4 36.3h.7M379.4 51.9h.7M356.9 38.5h.7M368.5 38.6h.7M363.6 33.5h.7M367.7 33.4h.7M371.8 60.9h.7M363.7 55.0h.7M368.6 36.7h.7M363.6 34.4h.7M366.8 47.5h.7M372.4 39.8h.7M357.8 41.4h.7M377.6 44.2h.7M365.6 25.7h.7M363.0 46.3h.7M359.5 52.6h.7M362.1 35.2h.7M362.0 41.3h.7M372.9 37.6h.7M353.7 41.4h.7M369.6 54.1h.7M358.3 53.7h.7M370.7 45.6h.7M360.7 35.1h.7M359.4 49.3h.7M367.5 50.4h.7M378.5 42.2h.7M365.7 57.1h.7M357.0 38.5h.7M363.5 39.1h.7M367.0 35.4h.7M374.0 31.3h.7M360.4 28.8h.7M356.3 46.6h.7M370.3 40.5h.7M371.8 46.9h.7M362.0 41.7h.7M368.5 57.8h.7M363.0 44.9h.7M369.8 51.6h.7M368.9 50.4h.7M358.7 40.0h.7M352.7 41.6h.7M382.1 43.9h.7M366.6 44.1h.7M367.0 31.7h.7M361.2 40.7h.7M367.2 35.3h.7M365.3 36.3h.7M356.9 36.9h.7M360.5 48.6h.7M375.2 46.6h.7M364.5 37.7h.7M355.2 37.9h.7M376.8 51.1h.7M367.5 40.1h.7M366.0 45.4h.7M365.9 45.4h.7M360.7 42.4h.7M363.6 50.5h.7M357.5 52.2h.7M365.4 38.1h.7M366.1 43.0h.7M364.4 45.4h.7M362.0 28.8h.7M370.8 41.9h.7M377.5 45.1h.7M352.2 51.7h.7M361.3 46.3h.7M381.3 50.6h.7M358.5 41.3h.7M354.9 47.3h.7M369.9 34.1h.7M369.1 49.4h.7M371.6 36.8h.7M361.2 33.3h.7M357.1 44.5h.7M366.3 52.2h.7M367.9 39.5h.7M356.2 54.1h.7M367.1 41.8h.7M359.1 33.9h.7M370.4 34.5h.7M370.0 47.0h.7M363.4 29.4h.7M368.8 53.0h.7M360.3 32.2h.7M373.5 43.2h.7M361.7 51.6h.7M364.1 45.6h.7M363.2 36.2h.7M367.5 35.4h.7M353.8 37.9h.7M374.5 50.6h.7M380.9 49.8h.7M377.1 44.0h.7M363.0 45.7h.7M359.5 47.8h.7M362.9 44.1h.7M360.1 41.0h.7M372.7 40.4h.7M361.4 44.3h.7M372.1 40.6h.7M358.0 30.0h.7M356.8 50.3h.7M365.4 45.8h.7M373.4 44.3h.7M369.3 38.2h.7M354.9 47.0h.7M365.3 46.5h.7M358.7 41.0h.7M379.8 35.6h.7M366.7 52.2h.7M364.4 43.1h.7M351.4 48.1h.7M363.0 52.0h.7M365.4 39.2h.7M369.0 40.2h.7M362.5 54.0h.7M372.7 42.9h.7M371.5 48.5h.7M370.0 42.5h.7M366.5 45.2h.7M369.9 44.8h.7M362.2 41.5h.7M369.1 34.5h.7M365.9 47.9h.7M367.2 39.9h.7M365.8 38.4h.7M372.7 39.2h.7M354.6 32.8h.7M368.1 43.7h.7M362.8 32.0h.7M365.0 35.7h.7M361.5 42.1h.7M360.7 44.5h.7M360.9 38.5h.7M364.4 53.3h.7M376.8 49.4h.7M361.0 42.2h.7M372.3 48.3h.7M354.8 41.7h.7M360.9 47.9h.7M370.4 38.0h.7M380.7 40.0h.7M382.7 40.8h.7M365.4 56.7h.7M362.4 38.5h.7M376.1 41.8h.7M369.3 32.5h.7M378.3 49.6h.7M368.4 47.5h.7M362.6 38.5h.7M355.2 44.9h.7M374.5 48.7h.7M372.3 47.5h.7M359.7 32.2h.7M370.4 43.4h.7M372.8 40.0h.7M360.0 45.5h.7M362.2 29.6h.7M361.8 35.4h.7M358.4 37.9h.7M372.5 60.1h.7M377.8 39.0h.7M373.8 41.6h.7M368.8 37.0h.7M365.5 29.3h.7M378.3 36.3h.7M370.0 37.7h.7M367.9 33.2h.7M363.4 49.1h.7M370.1 27.3h.7M371.8 32.1h.7M368.0 46.1h.7M361.6 39.7h.7M364.3 45.2h.7M372.3 52.5h.7M368.2 57.3h.7M359.5 55.7h.7M364.2 48.0h.7M365.1 42.8h.7M359.7 45.1h.7M379.9 43.3h.7M365.9 42.2h.7M370.9 40.6h.7M366.0 43.8h.7M374.9 49.4h.7M358.8 37.3h.7M366.1 48.6h.7M372.6 40.6h.7M380.6 40.9h.7M375.6 53.0h.7M376.9 43.7h.7M369.9 30.5h.7M353.8 37.5h.7M370.9 50.2h.7M365.3 50.0h.7M370.0 53.7h.7M355.1 35.8h.7M359.4 34.2h.7M377.3 35.1h.7M360.3 39.1h.7M372.1 38.6h.7M371.0 46.3h.7M361.6 24.2h.7" stroke="#000" stroke-width="0.7" fill="none"/>
<rect x="347.5" y="14.5" width="53.0" height="51.0" fill="none" stroke="#9c9c9c" stroke-width="0.8"/>
<path d="M363.5 65.5 L363.5 42.5 L400.5 42.5" fill="none" stroke="#444" stroke-width="0.85"/>
<line x1="347.3" y1="65.3" x2="347.3" y2="66.5" stroke="#777" stroke-width="0.6"/>
<line x1="360.6" y1="65.3" x2="360.6" y2="66.5" stroke="#777" stroke-width="0.6"/>
<line x1="373.8" y1="65.3" x2="373.8" y2="66.5" stroke="#777" stroke-width="0.6"/>
<line x1="387.1" y1="65.3" x2="387.1" y2="66.5" stroke="#777" stroke-width="0.6"/>
<line x1="400.3" y1="65.3" x2="400.3" y2="66.5" stroke="#777" stroke-width="0.6"/>
<text x="377.4" y="20.4" font-size="6.2" textLength="21.3" lengthAdjust="spacingAndGlyphs" fill="#3c3c3c" stroke="none">R2=46%</text>
<text x="387.4" y="58.3" font-size="4.3" text-anchor="end" font-weight="bold" textLength="5.2" lengthAdjust="spacingAndGlyphs" fill="#222" stroke="none">R2</text>
<path d="M424.6 33.3h.7M432.1 34.8h.7M424.2 37.9h.7M427.5 34.2h.7M430.5 39.5h.7M428.1 34.7h.7M424.7 31.0h.7M428.4 38.0h.7M424.6 36.9h.7M436.9 33.6h.7M422.3 38.6h.7M426.0 35.4h.7M429.1 36.5h.7M430.2 38.3h.7M430.7 37.2h.7M421.0 40.7h.7M422.3 39.8h.7M428.0 32.9h.7M427.5 39.4h.7M424.3 37.0h.7M425.1 34.0h.7M425.5 40.5h.7M429.3 36.8h.7M427.1 37.2h.7M428.1 37.4h.7M422.2 39.5h.7M424.8 29.4h.7M429.4 33.4h.7M426.9 36.6h.7M425.6 38.4h.7M426.5 36.0h.7M424.5 36.0h.7M424.2 37.0h.7M431.2 39.7h.7M428.6 32.9h.7M430.3 39.5h.7M433.4 30.4h.7M427.3 35.9h.7M430.5 33.7h.7M426.2 43.5h.7M430.2 31.1h.7M427.4 40.7h.7M425.5 38.5h.7M427.6 32.7h.7M425.5 40.1h.7M430.8 35.1h.7M430.6 34.8h.7M428.0 36.8h.7M423.6 37.7h.7M426.2 29.0h.7M424.9 34.4h.7M424.8 34.0h.7M425.3 29.8h.7M429.9 37.0h.7M428.1 36.1h.7M427.5 36.1h.7M424.1 32.5h.7M427.5 39.7h.7M428.0 41.4h.7M423.3 36.1h.7M425.5 40.3h.7M432.3 35.3h.7M429.5 36.1h.7M424.4 36.5h.7M424.2 41.3h.7M429.0 40.2h.7M428.4 29.9h.7M429.7 37.1h.7M420.3 37.1h.7M430.3 41.7h.7M424.3 39.1h.7M428.3 36.3h.7M426.5 38.3h.7M429.0 38.7h.7M426.1 33.0h.7M431.2 40.5h.7M425.6 36.7h.7M429.7 31.8h.7M428.8 43.8h.7M428.1 34.8h.7M433.3 36.8h.7M427.9 35.6h.7M427.8 31.7h.7M423.5 32.6h.7M430.0 36.5h.7M430.7 31.0h.7M425.5 41.0h.7M425.0 31.5h.7M425.1 35.8h.7M427.3 40.6h.7M431.2 41.3h.7M429.0 35.4h.7M425.8 32.6h.7M431.1 40.4h.7M427.6 34.2h.7M429.3 38.2h.7M427.8 33.5h.7M428.0 35.2h.7M429.5 38.5h.7M428.6 35.6h.7M431.8 39.0h.7M431.0 39.2h.7M429.3 37.9h.7M424.1 31.6h.7M424.5 38.6h.7M430.0 37.3h.7M427.6 42.1h.7M426.1 31.7h.7M422.7 35.9h.7M429.4 38.9h.7M426.6 39.2h.7M427.2 34.7h.7M426.2 39.0h.7M430.1 33.6h.7M424.4 37.2h.7M433.6 33.4h.7M423.6 38.0h.7M428.8 35.0h.7M427.2 38.2h.7M422.2 36.7h.7M429.1 39.5h.7M430.7 36.6h.7M423.1 40.7h.7M429.6 35.0h.7M430.3 39.8h.7M426.9 30.0h.7M425.9 34.6h.7M424.8 36.6h.7M424.1 37.9h.7M432.9 33.4h.7M430.4 35.3h.7M428.9 36.4h.7M431.1 34.8h.7M429.5 34.6h.7M428.0 36.8h.7M430.5 32.3h.7M423.3 40.8h.7M428.4 41.7h.7M424.3 37.4h.7M429.1 41.9h.7M427.1 35.5h.7M429.4 36.5h.7M425.1 39.0h.7M421.7 33.9h.7M431.3 35.4h.7M426.4 37.9h.7M430.6 38.3h.7M424.5 35.2h.7M430.4 36.5h.7M425.4 39.3h.7M430.7 43.1h.7M424.1 34.8h.7M425.3 37.8h.7M425.9 40.0h.7M419.4 39.6h.7M425.4 36.0h.7M429.0 37.4h.7M424.3 41.1h.7M429.0 35.4h.7M427.9 33.6h.7M423.7 35.9h.7M428.4 37.1h.7M425.0 32.8h.7M422.4 41.4h.7M428.4 34.5h.7M430.8 38.4h.7M426.1 35.0h.7M430.6 37.7h.7M432.1 37.8h.7M425.6 35.1h.7M425.2 37.5h.7M428.0 38.5h.7M428.6 33.8h.7M426.7 34.1h.7M428.7 33.0h.7M425.6 34.3h.7M425.5 36.1h.7M431.7 36.1h.7M423.1 35.9h.7M429.5 38.4h.7M428.0 42.5h.7M430.5 37.1h.7M430.9 32.9h.7M426.8 34.3h.7M427.8 41.5h.7M425.9 41.4h.7M424.3 40.9h.7M422.4 34.4h.7M430.2 36.5h.7M427.7 36.8h.7M427.8 36.3h.7M424.4 36.0h.7M427.6 34.2h.7M428.7 41.9h.7M422.5 35.2h.7M426.5 36.9h.7M427.6 34.7h.7M427.2 36.8h.7M427.0 41.2h.7M427.7 32.5h.7M422.7 38.5h.7M426.3 35.0h.7M423.3 35.9h.7M427.0 34.8h.7M426.3 39.4h.7M429.6 38.4h.7M426.8 32.9h.7M429.6 41.1h.7M431.0 40.2h.7M428.1 37.9h.7M427.3 40.4h.7M426.5 43.0h.7M429.6 35.9h.7M427.3 32.2h.7M425.2 35.9h.7M434.4 34.5h.7M430.0 37.0h.7M426.4 38.6h.7M421.5 39.5h.7M432.9 37.7h.7M427.1 37.3h.7M429.2 35.4h.7M427.7 38.3h.7M426.3 37.9h.7M428.3 38.9h.7M424.4 35.3h.7M426.1 40.2h.7M428.0 32.0h.7M423.6 42.4h.7M428.3 33.1h.7M424.6 37.2h.7M431.5 41.5h.7M426.2 35.9h.7M432.9 34.0h.7M431.9 37.8h.7M427.6 40.5h.7M428.7 34.4h.7M422.9 36.8h.7M428.8 40.7h.7M419.7 40.7h.7M429.1 41.2h.7M429.6 37.4h.7M428.6 37.9h.7M425.5 36.5h.7M427.7 35.5h.7M423.0 32.6h.7M428.8 38.3h.7M427.6 33.4h.7M429.8 35.7h.7M421.3 41.3h.7M423.0 43.3h.7M428.9 35.5h.7M420.5 34.8h.7M431.6 40.7h.7M428.1 31.9h.7M426.2 36.0h.7M428.6 36.4h.7M428.3 32.1h.7M425.4 41.0h.7M423.1 39.5h.7M434.0 38.7h.7M423.3 40.4h.7M421.9 37.8h.7M426.1 40.4h.7M430.7 37.3h.7M432.5 39.6h.7M425.9 34.0h.7M434.5 35.6h.7M428.5 36.5h.7M425.9 32.2h.7M426.9 36.5h.7M430.2 35.3h.7M422.7 33.7h.7M427.2 37.5h.7M429.4 35.7h.7M428.9 37.2h.7M432.2 36.6h.7M427.7 38.4h.7M430.9 34.1h.7M425.9 36.0h.7M421.1 40.6h.7M430.4 36.9h.7M437.1 40.5h.7M433.2 41.3h.7M429.9 32.7h.7M431.8 38.0h.7M423.8 37.0h.7M429.5 39.6h.7M427.8 35.3h.7M429.5 34.6h.7M427.1 39.0h.7M423.1 37.9h.7M421.6 34.1h.7M423.7 36.5h.7M429.4 36.7h.7M430.0 37.1h.7M426.7 38.2h.7M426.6 37.2h.7M430.3 35.2h.7M430.7 33.6h.7M426.7 31.8h.7M425.8 41.4h.7M428.3 40.5h.7M423.0 33.9h.7M428.7 39.2h.7M429.7 32.0h.7M428.8 36.6h.7M427.7 38.2h.7M426.5 31.9h.7M424.2 32.6h.7M423.5 36.4h.7M431.1 34.7h.7M425.1 33.5h.7M422.3 37.0h.7M425.9 36.1h.7M424.5 38.2h.7M423.8 38.4h.7M425.4 39.1h.7M424.7 38.1h.7M428.6 36.6h.7M432.1 37.3h.7M424.7 38.8h.7M424.9 35.2h.7M427.3 37.3h.7M432.3 31.7h.7M426.5 40.1h.7M426.8 37.7h.7M431.8 33.2h.7M427.4 39.1h.7M425.6 31.7h.7M424.4 37.4h.7M427.9 42.1h.7M431.2 32.3h.7M430.3 39.5h.7M432.0 36.4h.7M425.7 37.2h.7M431.8 38.6h.7M432.3 39.1h.7M425.6 33.9h.7M432.7 32.4h.7M426.3 35.9h.7M424.6 35.1h.7M427.3 43.7h.7M427.1 35.3h.7M427.7 39.5h.7M424.9 35.6h.7M422.2 38.8h.7M429.3 41.2h.7M423.8 43.1h.7M429.9 36.0h.7M426.2 35.9h.7M423.8 39.0h.7M425.5 34.7h.7M428.8 37.1h.7M425.6 36.1h.7M425.9 40.7h.7M430.2 34.7h.7M427.2 40.8h.7M426.5 42.0h.7M428.6 38.7h.7M421.2 39.3h.7M428.3 38.5h.7M428.7 38.3h.7M425.8 39.4h.7M427.5 33.8h.7M424.3 37.3h.7M428.3 30.4h.7M421.3 39.9h.7M427.3 45.1h.7M422.8 36.1h.7M425.5 38.4h.7M431.4 41.5h.7M424.3 40.4h.7M423.7 37.7h.7M427.8 38.6h.7M425.0 40.7h.7M427.1 36.7h.7M426.5 33.7h.7M429.4 37.8h.7M428.6 42.2h.7M424.8 36.0h.7M427.3 39.3h.7M426.8 39.5h.7M428.6 31.7h.7M425.3 30.9h.7M426.5 35.6h.7M429.0 37.3h.7M427.1 40.5h.7M429.0 33.2h.7M425.3 37.8h.7M432.3 36.2h.7M426.8 37.6h.7M429.6 36.5h.7M428.2 35.6h.7M425.7 34.5h.7M429.2 35.2h.7M428.9 38.0h.7M430.2 29.0h.7M424.5 33.2h.7M426.8 39.1h.7M434.7 41.3h.7M431.3 37.9h.7M426.2 38.4h.7M420.9 39.5h.7M427.3 38.6h.7M424.3 33.6h.7M425.4 36.7h.7M428.3 35.8h.7M428.3 38.8h.7M423.9 36.5h.7M422.7 35.2h.7M430.0 34.7h.7M432.8 38.3h.7M429.9 37.1h.7M429.8 40.0h.7M427.6 35.3h.7M425.7 42.4h.7M426.8 35.5h.7M425.2 31.9h.7M425.8 37.7h.7M425.9 34.6h.7M428.5 38.1h.7M426.0 37.7h.7M424.4 39.3h.7M424.4 35.8h.7M427.7 35.6h.7M423.9 42.9h.7M431.7 31.7h.7M427.7 33.1h.7M428.2 33.0h.7M429.0 38.4h.7M432.3 40.3h.7M426.0 39.6h.7M426.0 36.5h.7M425.8 31.7h.7M429.1 30.9h.7M426.6 38.3h.7M427.6 32.2h.7M425.4 38.8h.7M430.5 41.5h.7M422.0 38.1h.7M425.9 39.0h.7M422.4 36.4h.7M429.4 34.9h.7M426.2 33.9h.7M430.6 32.9h.7M424.6 35.8h.7M426.4 43.0h.7M428.1 34.4h.7M429.0 37.8h.7M428.1 36.6h.7M428.7 33.4h.7M423.8 35.6h.7M424.1 38.8h.7M433.0 40.4h.7M428.6 37.8h.7M425.3 33.0h.7M428.9 32.5h.7M428.2 36.4h.7M429.5 36.9h.7M427.6 35.1h.7M422.3 35.8h.7M429.3 39.9h.7M431.3 33.9h.7M424.6 38.8h.7M426.0 44.3h.7M428.2 32.4h.7M425.7 41.4h.7M422.0 37.2h.7M423.2 41.5h.7M426.0 33.8h.7M422.3 34.7h.7M419.8 35.4h.7M433.7 37.1h.7M426.5 33.4h.7M428.3 35.4h.7M424.8 40.8h.7M428.6 34.2h.7M431.6 36.6h.7M428.8 37.2h.7M430.8 38.6h.7M426.3 38.9h.7M426.2 37.2h.7M432.1 33.7h.7M424.3 35.6h.7M425.8 40.6h.7M422.6 43.5h.7M431.9 35.5h.7M427.8 35.7h.7M429.3 38.7h.7M429.5 39.0h.7M433.0 36.3h.7M429.4 36.3h.7M427.4 37.4h.7M427.1 37.8h.7M424.8 36.4h.7M425.5 33.4h.7M425.2 35.3h.7M426.9 32.2h.7M426.5 33.5h.7M424.9 37.4h.7M430.6 37.6h.7M425.9 35.5h.7M431.2 32.0h.7M430.6 32.4h.7M425.4 36.9h.7M426.7 41.7h.7M428.8 36.7h.7M430.1 36.9h.7M424.9 40.1h.7M431.7 40.5h.7M423.9 42.4h.7M426.1 39.0h.7M430.8 43.8h.7M422.6 33.8h.7M430.8 38.2h.7M426.4 28.2h.7M428.6 36.3h.7M419.6 44.6h.7M420.0 35.2h.7M427.3 37.5h.7M429.5 36.0h.7M424.7 35.7h.7M421.1 33.5h.7M433.1 34.8h.7M427.1 42.4h.7M430.4 37.2h.7M429.5 36.0h.7M424.6 39.7h.7M427.7 41.5h.7M426.5 35.7h.7M428.3 36.2h.7M426.4 34.2h.7M428.0 37.7h.7M432.7 36.7h.7M422.1 38.2h.7M434.0 35.5h.7M424.9 36.3h.7M418.9 35.8h.7M426.7 32.4h.7M441.3 30.3h.7M434.6 30.7h.7M441.4 39.0h.7M443.1 33.6h.7M438.3 32.2h.7M442.4 31.4h.7M440.8 36.0h.7M437.2 31.2h.7M440.9 33.0h.7M439.4 31.3h.7M439.5 38.8h.7M443.4 27.9h.7M439.8 33.3h.7M439.8 28.7h.7M439.3 33.5h.7M437.8 34.0h.7M433.0 28.3h.7M440.0 34.2h.7M439.2 31.6h.7M440.2 36.4h.7M442.2 32.8h.7M438.4 36.3h.7M441.2 35.8h.7M438.9 30.3h.7M440.2 31.0h.7M442.9 35.7h.7M433.7 35.1h.7M443.4 36.3h.7M438.4 30.3h.7M442.4 36.2h.7M439.9 29.4h.7M435.5 33.8h.7M437.4 30.9h.7M440.9 36.3h.7M434.0 30.9h.7M443.3 32.9h.7M438.8 35.0h.7M436.6 29.2h.7M439.8 37.9h.7M442.5 33.0h.7M442.5 31.7h.7M436.5 27.8h.7M440.4 35.8h.7M440.7 32.9h.7M438.6 36.4h.7M439.6 28.5h.7M443.5 31.0h.7M440.8 33.0h.7M442.6 33.8h.7M443.1 33.7h.7M438.4 31.4h.7M441.5 30.4h.7M442.3 32.2h.7M437.1 30.3h.7M439.3 38.5h.7M441.8 33.1h.7M437.2 39.0h.7M438.9 33.0h.7M438.5 37.2h.7M440.2 31.6h.7M440.2 29.9h.7M436.8 32.5h.7M431.8 36.7h.7M445.2 29.5h.7M439.3 28.1h.7M440.2 33.7h.7M441.7 28.8h.7M438.0 31.0h.7M439.0 40.2h.7M439.2 32.9h.7M438.3 35.5h.7M446.8 36.6h.7M443.9 29.6h.7M442.6 33.1h.7M443.1 36.3h.7M441.5 27.7h.7M440.1 31.4h.7M440.9 33.1h.7M442.6 28.0h.7M437.7 32.8h.7M440.6 31.7h.7M439.6 33.2h.7M442.6 32.6h.7M440.4 27.3h.7M432.5 28.4h.7M440.7 25.8h.7M440.8 32.7h.7M439.7 30.7h.7M438.5 35.6h.7M440.7 32.9h.7M438.4 33.7h.7M443.0 32.9h.7M438.7 29.3h.7M440.0 30.1h.7M435.7 35.7h.7M438.0 26.6h.7M437.7 38.8h.7M439.4 28.8h.7M436.7 35.3h.7M440.8 33.7h.7M439.2 34.5h.7M443.9 34.5h.7M439.2 28.6h.7M440.9 37.9h.7M441.5 29.0h.7M440.2 37.1h.7M438.0 34.6h.7M443.0 38.1h.7M435.3 27.5h.7M440.7 35.2h.7M438.7 32.9h.7M438.6 36.8h.7M433.6 33.8h.7M436.2 30.9h.7M435.5 30.1h.7M439.6 33.1h.7M444.6 32.3h.7M440.7 34.1h.7M440.4 37.6h.7M440.1 33.5h.7M439.4 33.0h.7M439.5 36.1h.7M439.8 33.2h.7M439.6 35.4h.7M438.4 36.0h.7M438.1 35.2h.7M445.0 33.7h.7M439.5 29.3h.7M441.7 33.0h.7M442.2 30.9h.7M441.1 38.7h.7M440.8 32.0h.7M436.1 33.0h.7M441.5 34.9h.7M436.6 29.8h.7M437.0 29.8h.7M438.9 33.8h.7M445.0 33.6h.7M443.7 27.8h.7M444.0 35.5h.7M440.9 35.6h.7M441.4 39.0h.7M441.9 27.5h.7M434.9 38.1h.7M439.5 37.2h.7M438.8 30.9h.7M438.8 34.0h.7M440.2 31.0h.7M441.2 34.9h.7M437.2 29.5h.7M434.3 32.0h.7M439.7 30.8h.7M438.0 32.6h.7M439.8 34.8h.7M442.0 34.4h.7M442.8 29.9h.7M441.4 34.2h.7M436.8 30.9h.7M440.9 33.2h.7M436.2 31.3h.7M443.9 35.7h.7M439.9 37.3h.7M437.2 32.5h.7M442.4 31.9h.7M436.6 34.9h.7M444.1 25.0h.7M440.1 29.0h.7M438.9 28.5h.7M446.9 30.8h.7M439.8 30.8h.7M437.0 31.6h.7M440.3 38.5h.7M440.5 38.0h.7M436.8 33.2h.7M438.5 28.0h.7M450.0 32.2h.7M440.4 30.6h.7M438.1 29.7h.7M442.5 31.7h.7M439.3 33.6h.7M436.3 33.7h.7M439.2 34.4h.7M438.6 33.1h.7M441.1 36.1h.7M437.8 36.1h.7M437.0 32.4h.7M440.1 33.5h.7M432.8 29.9h.7M439.2 35.9h.7M437.8 37.8h.7M434.7 33.2h.7M441.2 33.1h.7M440.4 36.0h.7M437.5 34.9h.7M442.6 32.3h.7M433.3 29.2h.7M437.3 29.7h.7M440.9 30.5h.7M446.6 34.8h.7M436.1 32.1h.7M443.9 35.2h.7M436.9 36.3h.7M438.4 40.0h.7M438.2 34.9h.7M441.3 31.6h.7M439.3 36.7h.7M441.1 32.8h.7M440.9 38.5h.7M442.3 34.5h.7M440.6 28.1h.7M440.1 31.5h.7M441.7 31.1h.7M440.9 29.7h.7M442.2 30.7h.7M439.6 34.8h.7M438.8 33.0h.7M442.6 38.6h.7M434.7 30.1h.7M441.6 36.0h.7M438.4 33.3h.7M439.2 40.2h.7M439.1 29.2h.7M435.4 29.0h.7M443.3 31.8h.7M445.1 35.0h.7M440.8 35.0h.7M441.9 35.9h.7M437.0 31.2h.7M438.2 33.3h.7M439.0 29.1h.7M437.8 38.6h.7M445.6 30.3h.7M440.8 32.9h.7M437.4 35.3h.7M439.5 38.3h.7M441.0 32.0h.7M432.4 32.7h.7M442.0 30.7h.7M442.1 35.2h.7M434.8 32.4h.7M440.6 35.4h.7M440.1 33.0h.7M438.7 32.1h.7M439.7 29.6h.7M441.5 32.0h.7M441.1 31.4h.7M440.8 33.4h.7M442.2 34.5h.7M442.3 32.5h.7M439.5 32.2h.7M436.2 32.6h.7M442.7 35.4h.7M437.3 33.9h.7M441.8 28.7h.7M440.7 34.0h.7M441.8 33.8h.7M434.9 26.6h.7M445.2 31.8h.7M443.2 37.0h.7M439.9 29.4h.7M443.5 32.9h.7M441.1 34.5h.7M442.3 36.2h.7M435.8 28.6h.7M440.1 33.0h.7M441.9 32.6h.7M439.2 39.4h.7M443.5 36.7h.7M442.6 30.5h.7M439.5 32.8h.7M436.7 30.3h.7M440.1 29.2h.7M441.2 34.5h.7M439.0 31.9h.7M441.4 34.5h.7M440.7 29.1h.7M435.2 39.5h.7M437.9 31.8h.7M434.7 30.5h.7M437.7 35.5h.7M432.4 28.6h.7M438.6 31.5h.7M437.6 31.6h.7M435.3 33.8h.7M443.0 33.5h.7M438.2 37.0h.7M441.0 29.8h.7M438.1 31.1h.7M439.6 36.8h.7M437.8 32.5h.7M440.0 29.3h.7M438.4 34.9h.7M442.8 27.1h.7M441.7 32.1h.7M443.3 35.0h.7M445.1 34.0h.7M438.6 30.4h.7M435.7 34.7h.7M441.1 35.6h.7M440.7 28.3h.7M435.6 50.0h.7M437.3 54.1h.7M440.9 52.2h.7M430.9 46.9h.7M430.7 47.9h.7M433.4 52.0h.7M436.2 55.5h.7M439.9 49.2h.7M439.5 51.1h.7M438.1 56.4h.7M433.5 50.7h.7M441.2 47.9h.7M437.4 51.5h.7M435.6 45.7h.7M434.8 47.0h.7M439.9 52.0h.7M438.8 46.2h.7M438.2 51.6h.7M439.8 48.1h.7M439.1 56.5h.7M442.0 47.3h.7M433.6 45.1h.7M439.6 53.4h.7M437.8 47.5h.7M440.4 57.5h.7M436.7 50.5h.7M440.2 53.0h.7M440.7 49.4h.7M437.8 49.6h.7M435.2 49.8h.7M436.0 53.0h.7M435.9 51.3h.7M434.5 46.1h.7M440.9 47.1h.7M442.0 54.8h.7M430.2 48.4h.7M435.6 51.1h.7M436.3 48.6h.7M440.4 50.5h.7M439.6 48.2h.7M434.8 56.4h.7M436.0 46.6h.7M436.3 55.2h.7M436.3 48.1h.7M438.6 54.9h.7M436.2 49.7h.7M435.8 61.8h.7M436.3 58.0h.7M436.4 52.6h.7M431.0 51.7h.7M437.0 49.7h.7M435.6 45.5h.7M432.5 51.7h.7M435.0 50.6h.7M436.3 49.0h.7M434.7 58.4h.7M433.6 49.0h.7M436.0 46.4h.7M434.1 54.5h.7M439.5 51.5h.7M446.1 54.3h.7M440.3 47.7h.7M439.9 57.8h.7M435.7 58.3h.7M434.5 46.5h.7M436.7 47.8h.7M438.6 46.6h.7M437.0 43.2h.7M436.7 55.2h.7M436.1 52.3h.7M439.9 46.6h.7M433.2 51.3h.7M437.6 49.9h.7M434.0 55.9h.7M433.5 50.0h.7M436.7 53.9h.7M435.5 47.7h.7M442.6 47.6h.7M439.1 50.4h.7M435.4 50.8h.7M436.1 52.2h.7M429.5 50.9h.7M437.0 47.1h.7M435.7 60.4h.7M442.1 53.6h.7M437.5 49.8h.7M440.8 49.2h.7M434.5 53.8h.7M434.0 47.8h.7M441.0 44.6h.7M436.6 51.5h.7M437.6 45.2h.7M436.2 49.7h.7M442.3 55.0h.7M434.6 54.5h.7M438.7 50.5h.7M436.1 49.9h.7M432.4 48.5h.7M439.5 56.8h.7M442.1 49.5h.7M438.6 41.4h.7M436.0 45.9h.7M439.2 44.4h.7M433.8 46.6h.7M437.9 54.4h.7M434.2 58.2h.7M437.3 47.7h.7M437.8 50.9h.7M439.2 52.4h.7M443.1 55.7h.7M435.0 54.2h.7M439.0 47.0h.7M434.7 47.8h.7M429.7 53.5h.7M436.2 55.9h.7M435.2 51.3h.7M438.9 54.9h.7M437.7 46.8h.7M443.1 54.5h.7M440.7 57.5h.7M440.8 52.7h.7M438.2 53.5h.7M432.5 54.3h.7M434.0 52.7h.7M433.9 53.9h.7M435.4 61.0h.7M437.4 53.0h.7M434.2 49.9h.7M436.7 49.9h.7M435.6 47.5h.7M439.0 49.5h.7M434.5 52.5h.7M434.5 50.3h.7M435.4 47.3h.7M436.2 47.7h.7M433.2 52.4h.7M436.0 45.2h.7M435.7 51.7h.7M438.0 52.5h.7M437.5 53.4h.7M435.4 47.8h.7M438.6 49.4h.7M436.8 53.6h.7M439.5 55.9h.7M434.9 49.5h.7M438.4 45.3h.7M433.2 53.4h.7M435.1 47.3h.7M439.1 53.1h.7M439.4 49.7h.7M436.0 49.6h.7M437.7 42.9h.7M434.8 53.8h.7M434.6 50.7h.7M437.2 53.1h.7M435.5 46.5h.7M444.0 48.1h.7M441.7 44.0h.7M437.1 50.2h.7M442.2 59.1h.7M439.6 47.0h.7M434.5 48.0h.7M435.4 52.0h.7M434.6 50.0h.7M441.0 56.7h.7M431.5 47.2h.7M435.8 56.2h.7M435.9 58.6h.7M437.9 56.7h.7M434.4 49.8h.7M439.7 53.3h.7M431.5 49.9h.7M437.3 53.5h.7M435.0 57.9h.7M437.3 56.8h.7M438.0 51.3h.7M435.9 46.4h.7M439.3 54.0h.7M439.5 49.5h.7M434.0 49.5h.7M435.9 51.0h.7M439.6 47.4h.7M435.4 53.7h.7M439.4 59.8h.7M438.3 47.6h.7M433.9 47.9h.7M437.0 52.0h.7M436.6 48.6h.7M436.3 50.7h.7M438.5 51.3h.7M434.5 46.4h.7M441.1 50.7h.7M436.3 50.9h.7M440.0 49.8h.7M437.3 50.1h.7M438.5 47.0h.7M437.4 55.1h.7M440.2 53.5h.7M437.7 57.3h.7M438.8 56.6h.7M433.4 46.6h.7M439.1 49.9h.7M435.6 47.2h.7M441.1 46.3h.7M437.1 45.5h.7M436.3 59.9h.7M443.8 49.0h.7M434.0 57.5h.7M434.4 43.9h.7M437.8 46.7h.7M432.7 55.5h.7M434.8 46.8h.7M437.3 50.3h.7M440.0 51.4h.7M441.4 55.5h.7M441.9 55.5h.7M437.0 53.2h.7M436.9 44.8h.7M433.5 53.9h.7M430.1 47.7h.7M433.2 50.8h.7M433.9 52.0h.7M436.3 49.1h.7M434.4 42.2h.7M437.1 45.9h.7M436.0 52.5h.7M439.8 53.8h.7M441.0 45.4h.7M438.8 57.2h.7M438.0 46.6h.7M438.0 49.0h.7M435.0 55.2h.7M436.3 46.6h.7M434.9 58.8h.7M434.4 53.7h.7M437.3 55.6h.7M436.1 47.3h.7M435.0 46.9h.7M444.2 51.8h.7M435.9 56.0h.7M438.7 50.3h.7M438.6 52.1h.7M440.0 57.6h.7M436.0 50.9h.7M436.3 55.9h.7M437.9 54.1h.7M439.4 48.5h.7M437.2 56.5h.7M439.5 54.2h.7M436.1 49.6h.7M434.4 49.9h.7M436.7 45.3h.7M440.1 48.0h.7M437.6 53.4h.7M435.3 43.8h.7M439.6 52.6h.7M436.1 55.5h.7M439.4 47.2h.7M436.6 44.0h.7M436.1 56.6h.7M434.5 54.3h.7M432.6 49.8h.7M439.5 57.8h.7M438.1 54.0h.7M441.7 41.3h.7M432.0 58.5h.7M443.8 53.4h.7M437.0 52.0h.7M436.9 48.6h.7M436.8 50.5h.7M438.7 53.7h.7M439.6 53.3h.7M434.1 56.5h.7M429.3 51.5h.7M437.8 48.9h.7M442.1 46.7h.7M433.5 49.0h.7M438.0 54.2h.7M437.2 53.7h.7M434.9 48.6h.7M437.2 45.7h.7M437.4 49.4h.7M438.8 47.0h.7M435.4 48.8h.7M435.8 47.1h.7M436.1 45.7h.7M438.4 53.7h.7M436.8 50.3h.7M434.3 47.2h.7M436.2 47.4h.7M433.5 51.7h.7M436.8 49.4h.7M434.6 50.8h.7M434.9 49.3h.7M437.4 53.9h.7M439.0 48.6h.7M440.3 46.4h.7M436.4 56.2h.7M443.5 51.5h.7M435.8 49.5h.7M433.4 50.4h.7M435.7 48.0h.7M440.2 47.9h.7M441.6 54.3h.7M438.6 48.7h.7M435.4 43.1h.7M437.6 49.9h.7M437.9 48.4h.7M438.2 45.1h.7M430.7 52.9h.7M439.9 38.5h.7M440.5 49.6h.7M436.4 44.9h.7M434.0 53.8h.7M434.8 50.9h.7M436.4 58.9h.7M439.3 45.8h.7M435.5 46.5h.7M432.9 48.3h.7M439.9 51.2h.7M438.7 50.5h.7M435.7 51.3h.7M436.6 58.6h.7M441.9 52.5h.7M438.5 43.1h.7M436.5 60.5h.7M434.6 54.2h.7M440.3 49.4h.7M436.2 49.2h.7M439.1 51.1h.7M441.1 55.7h.7M436.8 61.3h.7M436.0 48.6h.7M436.2 47.5h.7M435.7 50.7h.7M439.3 44.7h.7M432.9 47.9h.7M436.0 52.8h.7M434.6 57.0h.7M435.4 50.1h.7M437.0 55.6h.7M437.7 51.1h.7M435.3 51.7h.7M438.0 49.6h.7M436.8 43.7h.7M435.4 55.7h.7M440.8 50.7h.7M430.8 58.3h.7M436.4 61.2h.7M435.7 55.0h.7M435.1 56.5h.7M440.1 46.8h.7M440.5 62.4h.7M436.2 46.2h.7M437.6 49.4h.7M432.6 46.8h.7M437.5 45.0h.7M439.9 52.8h.7M436.3 56.6h.7M434.2 53.7h.7M433.0 49.7h.7M438.6 48.9h.7M436.5 53.6h.7M441.1 56.2h.7M438.1 50.0h.7M432.8 57.8h.7M442.1 42.4h.7M439.3 50.8h.7M438.8 52.3h.7M436.3 51.0h.7M436.7 55.6h.7M436.1 48.8h.7M438.7 53.6h.7M438.0 52.1h.7M440.9 55.4h.7M437.4 50.2h.7M438.7 43.6h.7M435.4 48.2h.7M437.3 49.5h.7M443.7 53.9h.7M438.0 60.0h.7M436.8 49.7h.7M440.3 54.3h.7M439.4 55.8h.7M435.8 48.4h.7M434.8 51.4h.7M439.6 46.8h.7M435.3 45.7h.7M442.4 54.2h.7M437.4 46.2h.7M434.0 48.4h.7M436.9 45.9h.7M436.2 55.9h.7M436.9 51.4h.7M431.0 49.9h.7M436.4 48.2h.7M433.0 50.7h.7M434.0 48.8h.7M432.4 50.6h.7M439.4 47.6h.7M437.7 45.0h.7M438.4 53.2h.7M435.7 54.5h.7M434.4 51.2h.7M441.5 50.9h.7M433.7 55.6h.7M438.3 49.9h.7M431.8 43.5h.7M432.6 56.9h.7M437.6 47.6h.7M440.0 56.9h.7M434.5 52.9h.7M432.2 52.5h.7M441.9 45.4h.7M437.0 48.5h.7M436.6 51.4h.7M437.6 54.6h.7M438.3 55.2h.7M439.7 55.4h.7M434.9 52.6h.7M435.8 47.6h.7M442.3 52.2h.7M437.0 42.6h.7M436.2 54.1h.7M436.3 48.8h.7M440.9 49.8h.7M435.9 50.6h.7M436.2 55.2h.7M438.4 50.7h.7M435.8 50.1h.7M441.5 49.8h.7M438.6 44.7h.7M437.7 53.8h.7M440.4 52.3h.7M438.4 52.3h.7M439.8 59.2h.7M437.4 47.7h.7M438.5 50.6h.7M438.6 54.1h.7M437.3 49.2h.7M437.7 46.0h.7M437.6 47.5h.7M438.1 51.5h.7M436.2 46.2h.7M437.0 48.3h.7M436.4 53.8h.7M439.5 45.8h.7M439.4 56.5h.7M440.0 52.1h.7M436.6 58.0h.7M435.9 44.9h.7M437.1 52.1h.7M434.0 46.1h.7M442.3 51.5h.7M439.0 48.7h.7M432.6 50.3h.7M440.6 48.3h.7M431.9 50.3h.7M436.1 51.1h.7M433.9 49.8h.7M435.3 54.5h.7M437.3 54.5h.7M436.7 42.5h.7M431.4 53.1h.7M439.3 54.5h.7M436.6 43.9h.7M435.5 52.6h.7M440.7 49.6h.7M435.3 47.9h.7M439.7 54.5h.7M431.8 55.9h.7M434.3 45.1h.7M432.4 48.1h.7M443.3 61.2h.7M433.4 48.3h.7M437.3 52.7h.7M435.5 44.7h.7M435.7 48.3h.7M431.9 51.6h.7M432.8 44.1h.7M441.0 54.8h.7M440.8 51.5h.7M435.7 50.7h.7M433.0 54.0h.7M437.6 49.8h.7M431.6 50.6h.7M441.3 56.8h.7M439.3 49.6h.7M437.2 53.2h.7M437.4 55.2h.7M435.0 41.7h.7M430.1 47.4h.7M433.0 53.7h.7M439.8 51.0h.7M438.3 51.3h.7M437.3 49.1h.7M435.7 55.8h.7M436.1 50.8h.7M440.1 54.9h.7M435.7 52.0h.7M434.0 51.5h.7M437.7 51.0h.7M437.3 52.5h.7M429.8 47.7h.7M437.0 49.0h.7M434.2 50.1h.7M441.3 50.1h.7M435.0 49.1h.7M433.5 52.9h.7M434.1 54.7h.7M439.4 53.3h.7M439.7 50.7h.7M431.9 50.7h.7M438.6 44.8h.7M433.4 55.4h.7M438.1 56.4h.7M438.7 51.3h.7M438.0 54.4h.7M436.8 50.2h.7M437.7 49.7h.7M443.5 47.9h.7M432.6 45.8h.7M439.7 49.4h.7M437.3 50.1h.7M437.6 45.2h.7M437.1 48.7h.7M439.9 53.5h.7M433.3 47.1h.7M438.4 55.8h.7M439.0 50.4h.7M439.9 41.6h.7M435.3 47.1h.7M434.0 53.3h.7M437.6 52.1h.7M436.5 53.5h.7M439.0 48.7h.7M439.4 47.3h.7M441.8 45.8h.7M436.0 46.7h.7M436.9 56.3h.7M434.7 58.1h.7M440.8 52.5h.7M435.2 54.6h.7M428.8 47.9h.7M439.5 50.8h.7M443.8 48.3h.7M433.1 50.1h.7M438.5 57.8h.7M431.9 51.6h.7M440.4 48.3h.7M435.6 46.1h.7M439.0 54.3h.7M438.5 52.0h.7M439.6 50.5h.7M438.8 54.3h.7M440.5 53.1h.7M437.1 53.8h.7M432.5 43.9h.7M441.4 51.6h.7M433.9 48.7h.7M436.4 51.3h.7M434.7 55.0h.7M432.1 62.3h.7M433.8 57.7h.7M438.7 44.2h.7M433.4 51.2h.7M437.6 49.3h.7M436.9 51.7h.7M433.6 51.2h.7M443.2 48.4h.7M426.2 48.2h.7M442.3 51.2h.7M428.8 42.4h.7M434.5 41.4h.7M435.8 51.5h.7M436.8 42.9h.7M431.7 57.1h.7M424.7 58.8h.7M438.1 43.7h.7M428.0 57.4h.7M441.4 50.2h.7M447.3 28.9h.7M433.8 40.6h.7M428.1 43.6h.7M436.8 47.1h.7M432.1 32.6h.7M436.9 47.8h.7M447.6 50.4h.7M433.2 34.0h.7M451.8 37.7h.7M434.4 48.9h.7M436.5 53.5h.7M426.0 37.6h.7M434.3 33.3h.7M428.9 53.9h.7M435.1 42.2h.7M429.2 43.4h.7M432.9 34.5h.7M438.5 32.9h.7M441.9 40.3h.7M417.4 30.8h.7M435.1 36.1h.7M445.6 53.9h.7M447.6 50.1h.7M442.4 38.2h.7M442.1 39.5h.7M432.8 32.2h.7M433.5 46.2h.7M432.7 34.2h.7M439.3 50.2h.7M432.5 49.2h.7M439.9 35.2h.7M432.9 28.3h.7M425.9 46.4h.7M427.0 46.1h.7M435.6 26.6h.7M429.7 55.0h.7M433.2 44.0h.7M428.2 30.3h.7M431.8 36.1h.7M433.9 27.6h.7M442.8 56.6h.7M427.9 45.6h.7M426.8 49.8h.7M427.2 41.9h.7M442.2 47.2h.7M430.8 30.9h.7M422.0 52.6h.7M436.7 43.5h.7M441.8 44.2h.7M428.0 42.2h.7M432.4 42.9h.7M450.5 47.6h.7M435.0 41.0h.7M428.3 35.1h.7M420.0 39.3h.7M422.5 28.2h.7M426.5 26.8h.7M442.7 52.9h.7M426.3 59.3h.7M437.7 22.9h.7M433.2 35.0h.7M420.9 40.9h.7M441.1 46.5h.7M422.9 37.7h.7M427.8 52.1h.7M432.4 35.2h.7M426.7 27.3h.7M427.2 50.2h.7M419.7 44.5h.7M432.3 49.5h.7M425.1 50.3h.7M444.0 61.3h.7M421.7 42.8h.7M431.6 44.0h.7M426.1 49.9h.7M449.5 55.0h.7M426.4 38.4h.7M438.2 44.1h.7M427.7 52.9h.7M436.7 51.2h.7M431.8 53.2h.7M429.8 34.1h.7M433.0 31.8h.7M441.9 48.9h.7M421.3 44.4h.7M439.0 40.1h.7M436.0 38.3h.7M432.6 42.3h.7M436.5 35.2h.7M425.1 45.6h.7M429.5 47.2h.7M429.5 32.5h.7M438.2 45.1h.7M438.2 40.3h.7M430.5 53.1h.7M421.2 56.9h.7M436.7 42.5h.7M433.7 47.8h.7M427.6 45.2h.7M426.3 28.2h.7M434.5 43.8h.7M437.6 47.5h.7M438.0 49.3h.7M425.6 52.8h.7M451.9 38.5h.7M424.2 48.5h.7M439.5 51.1h.7M443.8 31.9h.7M435.7 46.7h.7M441.8 35.8h.7M433.2 40.0h.7M431.9 41.8h.7M432.0 28.8h.7M432.8 43.5h.7M428.1 37.8h.7M426.9 55.9h.7M439.5 41.5h.7M426.2 46.8h.7M428.8 54.9h.7M440.8 42.0h.7M437.3 36.6h.7M421.9 49.8h.7M444.5 40.6h.7M429.3 28.6h.7M448.1 33.4h.7M426.2 41.4h.7M441.6 43.4h.7M432.9 43.2h.7M439.0 42.7h.7M434.1 42.4h.7M425.2 53.8h.7M428.1 32.4h.7M429.9 43.3h.7M438.8 31.2h.7M424.1 44.4h.7M435.7 34.2h.7M425.0 44.4h.7M432.0 30.0h.7M426.8 54.9h.7M425.6 51.4h.7M422.2 54.9h.7M444.3 37.9h.7M428.2 48.1h.7M424.3 47.4h.7M441.6 45.1h.7M435.3 41.7h.7M440.1 36.4h.7M444.2 42.8h.7M430.7 29.9h.7M429.9 44.9h.7M441.8 30.0h.7M432.1 37.5h.7M424.6 43.0h.7M427.7 50.0h.7M419.6 27.3h.7M436.7 40.3h.7M433.9 35.2h.7M425.6 37.1h.7M432.6 36.2h.7M430.1 36.1h.7M434.7 33.9h.7M418.4 21.9h.7M432.9 43.8h.7M439.8 37.0h.7M425.0 31.0h.7M438.3 38.0h.7M439.9 42.4h.7M431.1 28.1h.7M428.2 49.3h.7M428.7 48.4h.7M421.4 51.2h.7M452.6 52.0h.7M435.3 33.1h.7M429.3 37.7h.7M434.3 26.8h.7M426.9 49.4h.7M434.0 49.0h.7M439.0 33.8h.7M423.5 46.7h.7M433.2 43.6h.7M427.3 51.2h.7M436.5 52.2h.7M430.5 48.6h.7M432.6 35.4h.7M432.4 29.7h.7M431.7 44.4h.7M437.9 34.5h.7M423.7 37.1h.7M418.4 37.8h.7M451.4 44.2h.7M427.7 37.5h.7M445.4 33.6h.7M432.2 42.4h.7M427.8 37.2h.7M421.2 36.3h.7M442.1 54.4h.7M431.0 48.7h.7M436.2 43.9h.7M432.0 52.8h.7M437.0 41.2h.7M431.4 50.5h.7M428.8 37.2h.7M431.1 39.0h.7M441.9 45.9h.7M432.4 38.8h.7M442.9 46.5h.7M447.6 50.3h.7M431.5 38.6h.7M431.0 44.5h.7M438.6 46.9h.7M444.0 30.8h.7M433.2 31.6h.7M425.8 38.2h.7M428.4 35.2h.7M422.3 52.1h.7M430.8 50.7h.7M425.2 24.4h.7M428.8 50.1h.7M429.1 46.2h.7M425.4 54.2h.7M436.0 51.4h.7M431.0 53.3h.7M433.5 39.1h.7M428.5 43.4h.7M426.6 33.4h.7" stroke="#000" stroke-width="0.7" fill="none"/>
<rect x="415.5" y="14.5" width="54.0" height="51.0" fill="none" stroke="#9c9c9c" stroke-width="0.8"/>
<path d="M431.5 65.5 L431.5 42.5 L469.5 42.5" fill="none" stroke="#444" stroke-width="0.85"/>
<line x1="415.3" y1="65.3" x2="415.3" y2="66.5" stroke="#777" stroke-width="0.6"/>
<line x1="428.7" y1="65.3" x2="428.7" y2="66.5" stroke="#777" stroke-width="0.6"/>
<line x1="442.1" y1="65.3" x2="442.1" y2="66.5" stroke="#777" stroke-width="0.6"/>
<line x1="455.6" y1="65.3" x2="455.6" y2="66.5" stroke="#777" stroke-width="0.6"/>
<line x1="469.0" y1="65.3" x2="469.0" y2="66.5" stroke="#777" stroke-width="0.6"/>
<text x="445.4" y="20.4" font-size="6.2" textLength="21.3" lengthAdjust="spacingAndGlyphs" fill="#3c3c3c" stroke="none">R2=44%</text>
<text x="456.1" y="58.3" font-size="4.3" text-anchor="end" font-weight="bold" textLength="5.2" lengthAdjust="spacingAndGlyphs" fill="#222" stroke="none">R2</text>
<path d="M295.7 99.8h.7M294.2 101.2h.7M298.4 90.9h.7M293.5 95.0h.7M291.6 100.3h.7M285.2 105.8h.7M298.3 97.5h.7M299.6 101.4h.7M294.3 102.0h.7M300.7 95.9h.7M286.4 102.3h.7M290.2 94.6h.7M295.0 100.4h.7M292.6 98.4h.7M299.0 92.9h.7M290.2 100.7h.7M299.6 97.0h.7M293.5 96.7h.7M300.5 97.4h.7M287.4 103.4h.7M286.6 108.2h.7M295.5 95.0h.7M288.2 100.6h.7M287.7 104.1h.7M289.0 94.8h.7M295.8 101.4h.7M288.2 100.5h.7M301.7 94.1h.7M292.0 100.1h.7M295.6 93.6h.7M290.9 94.1h.7M285.0 98.1h.7M298.0 96.9h.7M299.0 99.6h.7M294.6 98.7h.7M296.4 98.4h.7M289.2 100.1h.7M293.4 98.7h.7M290.7 99.7h.7M295.5 98.0h.7M297.7 98.9h.7M297.8 99.4h.7M299.7 99.8h.7M295.6 95.0h.7M305.4 95.3h.7M300.3 97.0h.7M292.3 95.0h.7M295.2 96.2h.7M288.9 93.5h.7M298.5 91.2h.7M290.2 102.2h.7M295.0 94.7h.7M294.4 98.9h.7M295.5 99.2h.7M296.6 95.3h.7M290.9 108.0h.7M290.8 96.5h.7M298.0 97.9h.7M295.3 106.0h.7M286.4 107.5h.7M294.3 99.1h.7M294.9 96.8h.7M293.2 93.9h.7M295.4 104.1h.7M285.4 108.0h.7M283.4 101.6h.7M296.9 94.9h.7M289.2 95.7h.7M293.2 98.0h.7M288.8 95.7h.7M295.3 98.9h.7M299.5 96.7h.7M302.2 97.5h.7M285.1 109.7h.7M291.9 95.7h.7M297.3 99.7h.7M285.6 98.8h.7M295.9 95.0h.7M300.3 95.1h.7M289.6 96.1h.7M293.7 92.1h.7M286.5 98.0h.7M303.8 98.4h.7M292.5 97.7h.7M298.9 99.7h.7M294.3 106.1h.7M295.0 101.7h.7M284.2 104.0h.7M294.4 105.2h.7M291.0 95.4h.7M300.9 91.5h.7M291.9 94.9h.7M297.1 97.0h.7M292.2 97.9h.7M290.5 97.7h.7M290.2 104.9h.7M295.4 92.3h.7M289.9 102.2h.7M303.0 92.0h.7M292.3 98.3h.7M294.7 97.1h.7M300.0 98.1h.7M298.8 101.0h.7M292.1 97.3h.7M303.1 85.6h.7M283.8 95.9h.7M293.7 94.5h.7M294.9 90.0h.7M292.8 97.5h.7M291.4 103.9h.7M293.1 100.4h.7M292.1 99.9h.7M292.3 99.5h.7M292.5 96.6h.7M295.5 96.6h.7M288.3 97.9h.7M298.0 100.6h.7M287.9 100.4h.7M297.5 99.8h.7M295.0 93.3h.7M295.6 100.5h.7M294.6 97.0h.7M289.4 101.6h.7M293.8 98.4h.7M302.1 97.6h.7M291.1 100.8h.7M292.9 99.2h.7M302.2 96.5h.7M293.1 96.4h.7M293.9 99.6h.7M293.7 102.4h.7M292.2 95.0h.7M297.7 85.4h.7M292.7 98.6h.7M299.9 98.7h.7M302.5 98.7h.7M295.5 97.7h.7M298.1 95.6h.7M288.1 100.2h.7M297.7 98.2h.7M291.4 104.2h.7M292.8 93.4h.7M297.6 99.7h.7M295.7 96.0h.7M292.5 103.2h.7M294.9 97.6h.7M290.7 96.5h.7M285.7 102.0h.7M299.8 97.4h.7M293.7 104.0h.7M291.4 96.1h.7M300.3 99.4h.7M290.4 95.9h.7M289.8 91.9h.7M296.7 102.1h.7M293.9 95.6h.7M296.1 95.1h.7M298.6 94.1h.7M301.8 92.1h.7M293.3 95.2h.7M289.3 102.3h.7M293.9 94.7h.7M295.6 95.7h.7M291.6 99.4h.7M296.8 99.1h.7M299.7 96.1h.7M289.9 98.2h.7M293.6 94.1h.7M292.7 97.6h.7M293.9 98.9h.7M300.9 99.9h.7M299.3 98.7h.7M291.3 103.6h.7M297.1 91.3h.7M303.5 90.3h.7M287.1 108.9h.7M293.0 95.9h.7M293.4 102.5h.7M294.4 96.6h.7M297.2 92.8h.7M289.6 98.8h.7M292.0 101.9h.7M291.3 96.0h.7M288.9 94.1h.7M294.8 98.0h.7M296.1 96.0h.7M294.1 94.7h.7M294.4 98.5h.7M290.0 102.8h.7M294.7 98.0h.7M295.3 104.7h.7M292.8 96.2h.7M291.5 101.9h.7M291.9 96.6h.7M292.5 102.5h.7M296.1 100.8h.7M292.0 95.1h.7M298.1 96.9h.7M290.8 99.0h.7M291.4 102.8h.7M293.1 100.5h.7M294.6 96.9h.7M295.1 96.6h.7M288.5 100.1h.7M290.4 103.2h.7M295.7 95.0h.7M296.9 97.3h.7M296.5 93.3h.7M292.5 95.5h.7M293.4 103.5h.7M284.3 100.8h.7M297.3 99.0h.7M287.5 94.8h.7M287.5 103.5h.7M300.0 97.8h.7M293.2 103.6h.7M294.2 100.3h.7M295.8 102.9h.7M288.4 93.8h.7M293.0 99.5h.7M294.0 95.6h.7M291.2 95.8h.7M293.2 99.0h.7M297.6 101.9h.7M286.7 104.6h.7M293.9 94.1h.7M294.3 98.0h.7M291.1 102.6h.7M302.9 95.2h.7M298.9 99.1h.7M295.0 101.1h.7M291.0 100.7h.7M299.0 99.9h.7M292.3 98.1h.7M295.8 96.8h.7M295.9 100.0h.7M292.3 102.4h.7M295.1 96.6h.7M287.9 99.7h.7M295.3 100.8h.7M287.1 105.0h.7M293.0 94.7h.7M298.1 97.1h.7M294.2 94.5h.7M290.9 103.4h.7M300.3 95.7h.7M292.5 97.5h.7M288.6 105.1h.7M295.6 101.7h.7M292.8 102.8h.7M292.0 101.5h.7M298.5 92.9h.7M297.7 95.9h.7M290.5 101.1h.7M295.5 94.7h.7M292.0 97.4h.7M290.5 99.6h.7M296.6 94.8h.7M298.4 94.1h.7M292.9 102.7h.7M298.7 93.0h.7M294.5 93.7h.7M291.7 98.2h.7M294.9 93.1h.7M290.8 97.7h.7M292.4 94.7h.7M293.1 108.9h.7M292.4 93.7h.7M295.3 92.7h.7M289.0 107.3h.7M297.7 92.9h.7M290.3 102.2h.7M303.2 94.7h.7M294.8 93.5h.7M287.4 103.6h.7M298.3 96.0h.7M296.2 101.8h.7M292.4 103.2h.7M296.4 94.5h.7M294.7 98.2h.7M294.8 94.2h.7M293.2 99.0h.7M294.1 98.2h.7M294.7 97.1h.7M293.6 102.1h.7M290.9 99.0h.7M288.6 97.4h.7M295.7 97.0h.7M294.2 99.7h.7M294.4 100.4h.7M301.8 94.6h.7M295.6 103.2h.7M294.2 92.1h.7M299.7 95.5h.7M295.6 93.1h.7M289.5 98.6h.7M294.4 93.9h.7M292.7 102.4h.7M291.6 100.1h.7M287.7 96.0h.7M293.5 98.1h.7M289.8 104.3h.7M298.7 98.5h.7M290.1 96.5h.7M293.9 98.9h.7M292.4 97.1h.7M288.8 98.7h.7M292.9 97.1h.7M300.3 93.4h.7M295.1 95.9h.7M291.7 96.1h.7M289.7 95.5h.7M287.8 106.8h.7M290.4 101.9h.7M292.6 97.0h.7M296.0 95.0h.7M295.2 96.2h.7M299.4 98.3h.7M296.0 100.9h.7M298.5 101.0h.7M291.0 94.5h.7M295.2 98.3h.7M292.2 98.6h.7M290.9 95.6h.7M299.6 92.0h.7M287.2 96.7h.7M290.5 100.2h.7M300.9 96.1h.7M289.1 96.8h.7M289.4 100.7h.7M296.7 94.8h.7M303.5 99.3h.7M291.2 92.2h.7M298.2 95.3h.7M298.2 99.1h.7M290.1 100.8h.7M293.5 95.8h.7M296.6 96.2h.7M295.4 104.1h.7M297.3 102.0h.7M295.0 101.3h.7M291.2 100.4h.7M294.9 89.9h.7M295.7 96.2h.7M298.6 96.0h.7M291.6 95.1h.7M304.6 89.1h.7M291.5 97.1h.7M293.1 99.5h.7M290.3 104.2h.7M293.9 100.4h.7M284.7 102.0h.7M292.2 97.9h.7M291.8 100.6h.7M294.1 94.7h.7M287.3 104.9h.7M294.4 101.8h.7M297.3 95.8h.7M287.7 100.8h.7M293.0 103.2h.7M288.7 104.7h.7M286.9 100.5h.7M287.2 99.9h.7M292.8 100.2h.7M292.7 101.4h.7M301.2 94.3h.7M289.1 100.6h.7M293.0 97.5h.7M300.4 98.4h.7M302.8 94.7h.7M283.1 104.4h.7M295.4 94.5h.7M293.0 102.0h.7M292.8 94.9h.7M286.8 91.7h.7M292.0 95.0h.7M291.9 95.3h.7M289.4 99.1h.7M303.2 88.3h.7M288.4 99.7h.7M299.5 97.7h.7M296.2 95.7h.7M293.3 95.9h.7M292.0 96.6h.7M286.6 99.2h.7M302.3 94.5h.7M290.8 99.8h.7M294.1 102.5h.7M292.8 96.6h.7M297.2 97.4h.7M290.0 97.9h.7M291.9 93.6h.7M291.9 103.1h.7M299.2 99.0h.7M291.2 97.8h.7M292.1 97.6h.7M298.7 94.5h.7M298.2 93.1h.7M298.0 101.5h.7M290.0 98.3h.7M289.0 95.5h.7M291.7 97.3h.7M302.0 91.6h.7M286.9 105.9h.7M297.7 95.8h.7M296.2 99.4h.7M291.8 99.7h.7M297.2 102.2h.7M299.9 95.2h.7M290.0 103.8h.7M295.6 101.4h.7M294.4 98.6h.7M295.4 94.7h.7M295.0 105.8h.7M292.0 102.7h.7M298.0 98.7h.7M297.3 91.4h.7M294.5 90.6h.7M294.7 99.0h.7M299.8 98.5h.7M289.8 99.8h.7M292.2 96.8h.7M289.6 98.5h.7M300.7 98.9h.7M299.6 100.7h.7M292.6 95.2h.7M291.7 100.3h.7M300.0 98.9h.7M291.9 102.9h.7M292.8 101.1h.7M300.0 99.8h.7M292.2 100.1h.7M295.0 96.1h.7M295.3 99.5h.7M286.4 100.6h.7M303.8 93.8h.7M288.8 94.8h.7M291.0 101.9h.7M297.4 97.7h.7M295.3 95.2h.7M298.5 91.4h.7M295.6 96.3h.7M288.6 104.7h.7M294.0 100.7h.7M299.3 95.5h.7M291.0 99.3h.7M296.0 102.1h.7M299.9 100.3h.7M295.8 94.4h.7M299.2 98.5h.7M294.2 99.7h.7M290.7 95.7h.7M294.8 100.4h.7M288.9 93.3h.7M292.5 103.0h.7M296.6 100.6h.7M290.3 99.0h.7M288.7 98.7h.7M296.2 97.3h.7M292.5 100.2h.7M288.1 100.4h.7M285.6 98.0h.7M286.8 98.7h.7M302.4 97.9h.7M298.0 93.7h.7M294.6 93.8h.7M292.2 100.2h.7M287.9 102.6h.7M293.1 91.4h.7M283.8 103.5h.7M293.7 98.9h.7M290.3 102.5h.7M293.3 96.0h.7M300.9 94.9h.7M299.8 101.2h.7M291.6 98.9h.7M286.7 101.9h.7M299.7 103.7h.7M296.5 97.4h.7M287.5 99.1h.7M284.4 99.2h.7M294.9 98.7h.7M289.9 99.9h.7M291.7 101.8h.7M295.6 95.2h.7M290.2 96.2h.7M295.6 105.1h.7M295.2 100.5h.7M298.6 100.7h.7M291.2 96.7h.7M299.5 98.1h.7M293.0 102.7h.7M293.8 98.2h.7M302.1 95.1h.7M294.7 96.6h.7M296.4 100.5h.7M294.5 95.2h.7M295.5 96.8h.7M294.8 97.0h.7M282.6 99.4h.7M288.9 93.4h.7M291.2 107.2h.7M296.0 95.3h.7M291.6 91.6h.7M296.5 100.2h.7M292.6 94.4h.7M296.9 94.5h.7M292.0 100.2h.7M296.0 104.3h.7M296.8 104.2h.7M293.7 93.9h.7M294.0 98.4h.7M301.7 98.1h.7M303.1 90.2h.7M295.9 105.4h.7M290.9 101.4h.7M298.7 91.6h.7M291.3 97.1h.7M296.7 98.0h.7M294.8 100.1h.7M290.2 99.2h.7M299.0 102.4h.7M293.9 98.5h.7M299.3 95.2h.7M299.5 95.7h.7M298.8 95.9h.7M288.9 98.3h.7M298.7 102.1h.7M300.9 92.8h.7M302.1 89.2h.7M292.0 102.8h.7M289.3 104.4h.7M296.5 99.0h.7M289.7 102.2h.7M297.6 95.8h.7M298.1 95.8h.7M294.8 96.6h.7M288.2 101.2h.7M294.7 95.0h.7M283.6 99.0h.7M298.8 94.4h.7M292.9 103.4h.7M290.8 94.7h.7M290.7 97.0h.7M291.7 96.3h.7M294.9 99.3h.7M291.3 99.1h.7M294.6 100.8h.7M292.3 102.0h.7M298.6 94.7h.7M289.6 99.8h.7M286.0 101.2h.7M288.9 100.7h.7M293.3 100.5h.7M295.1 99.1h.7M294.2 99.1h.7M290.5 102.8h.7M301.0 98.0h.7M289.2 102.7h.7M288.6 104.2h.7M292.4 97.5h.7M290.6 99.4h.7M292.4 95.7h.7M294.6 98.8h.7M296.0 96.8h.7M297.7 104.4h.7M298.5 96.6h.7M289.4 103.3h.7M291.9 89.8h.7M293.9 99.6h.7M294.2 98.4h.7M295.6 102.3h.7M295.0 96.6h.7M296.4 104.3h.7M289.6 99.0h.7M295.5 97.8h.7M297.4 101.1h.7M299.2 96.5h.7M294.0 98.0h.7M294.6 101.5h.7M287.2 98.6h.7M290.5 96.8h.7M292.9 103.2h.7M285.8 105.3h.7M288.3 100.8h.7M290.0 97.0h.7M288.1 102.1h.7M294.2 102.1h.7M300.9 92.9h.7M290.3 99.5h.7M297.4 99.5h.7M290.9 101.8h.7M295.7 101.3h.7M292.0 98.7h.7M288.4 96.8h.7M296.2 99.4h.7M298.9 96.2h.7M290.6 96.9h.7M288.1 99.2h.7M295.5 97.6h.7M284.5 103.6h.7M291.1 96.2h.7M294.7 99.7h.7M287.6 97.2h.7M293.1 99.7h.7M295.4 102.9h.7M292.9 95.2h.7M296.0 94.6h.7M296.9 96.8h.7M297.3 92.5h.7M297.6 97.6h.7M291.4 102.3h.7M303.7 93.6h.7M290.6 99.7h.7M299.6 95.7h.7M298.9 92.8h.7M296.7 90.8h.7M292.8 97.9h.7M294.0 102.7h.7M292.1 100.6h.7M302.8 95.8h.7M291.1 97.3h.7M286.5 104.2h.7M299.4 98.9h.7M298.4 103.3h.7M293.4 90.2h.7M291.7 102.5h.7M293.7 101.4h.7M303.1 89.8h.7M302.8 92.5h.7M288.2 102.1h.7M296.7 94.4h.7M299.0 92.0h.7M294.7 101.1h.7M292.2 97.3h.7M295.0 100.0h.7M303.2 97.5h.7M301.5 93.5h.7M287.2 102.2h.7M290.7 96.6h.7M291.8 99.3h.7M295.7 100.5h.7M292.1 103.5h.7M295.4 100.0h.7M297.0 91.8h.7M299.3 92.3h.7M297.4 100.1h.7M295.2 91.8h.7M296.5 100.8h.7M293.4 98.3h.7M296.9 102.4h.7M290.2 97.1h.7M288.6 99.6h.7M293.6 99.7h.7M290.9 93.9h.7M288.7 103.9h.7M294.7 92.8h.7M293.9 89.4h.7M304.4 94.0h.7M288.1 103.7h.7M293.1 97.1h.7M292.1 98.5h.7M292.1 96.1h.7M292.6 101.1h.7M294.0 93.4h.7M294.5 103.6h.7M299.6 100.8h.7M286.8 98.8h.7M282.0 98.5h.7M290.8 96.4h.7M288.4 99.1h.7M294.6 100.9h.7M293.4 92.2h.7M299.5 93.6h.7M289.9 100.6h.7M290.1 95.5h.7M299.4 92.8h.7M292.4 101.1h.7M301.6 95.3h.7M291.0 101.6h.7M299.1 96.4h.7M295.9 95.3h.7M291.0 93.9h.7M289.2 97.0h.7M296.5 102.1h.7M282.6 100.4h.7M290.0 100.3h.7M297.5 93.2h.7M292.8 103.4h.7M296.4 98.7h.7M296.2 94.1h.7M293.8 95.9h.7M291.3 100.4h.7M293.7 93.7h.7M291.8 101.8h.7M295.8 99.5h.7M291.4 96.9h.7M298.2 97.8h.7M283.8 107.6h.7M292.0 101.9h.7M300.0 93.5h.7M290.4 101.3h.7M295.3 99.5h.7M288.6 102.4h.7M298.8 97.8h.7M298.5 99.8h.7M292.6 103.5h.7M293.2 95.0h.7M293.2 99.7h.7M297.6 100.9h.7M294.0 96.4h.7M302.4 91.8h.7M292.1 102.7h.7M291.0 97.2h.7M291.6 104.0h.7M289.8 101.2h.7M291.8 98.8h.7M290.9 100.7h.7M298.2 99.5h.7M290.6 96.0h.7M287.9 102.0h.7M286.0 108.0h.7M294.3 98.5h.7M287.2 100.0h.7M292.0 101.9h.7M293.3 100.9h.7M293.0 91.8h.7M295.1 102.1h.7M292.1 99.8h.7M291.5 95.3h.7M302.8 92.4h.7M295.9 95.4h.7M301.6 97.7h.7M300.4 97.8h.7M299.1 100.1h.7M295.9 97.6h.7M295.9 93.8h.7M284.9 106.8h.7M293.5 96.0h.7M291.4 96.4h.7M290.9 100.8h.7M295.9 100.1h.7M294.7 100.1h.7M295.7 94.6h.7M286.0 100.7h.7M292.1 97.4h.7M302.0 90.9h.7M294.7 95.0h.7M294.8 93.1h.7M298.2 96.3h.7M290.4 96.1h.7M299.9 92.5h.7M296.0 88.2h.7M292.0 106.0h.7M301.4 93.8h.7M299.1 97.3h.7M292.8 99.5h.7M287.1 97.6h.7M295.7 99.8h.7M292.7 94.6h.7M297.6 96.3h.7M296.6 95.6h.7M294.6 101.7h.7M297.7 91.6h.7M291.0 103.6h.7M295.6 97.5h.7M291.6 103.4h.7M295.1 98.3h.7M294.8 95.9h.7M295.9 97.6h.7M297.6 97.4h.7M287.6 99.6h.7M294.8 102.0h.7M293.2 102.9h.7M299.9 97.8h.7M303.3 92.5h.7M297.3 100.6h.7M297.3 99.8h.7M295.8 102.3h.7M292.4 92.3h.7M298.2 95.0h.7M289.9 99.7h.7M294.7 102.0h.7M295.3 97.2h.7M292.5 95.9h.7M290.6 98.6h.7M291.2 95.7h.7M294.0 101.9h.7M295.9 97.1h.7M295.1 96.7h.7M290.6 103.5h.7M304.1 93.9h.7M300.8 103.0h.7M289.9 102.7h.7M292.2 98.4h.7M287.1 102.2h.7M293.1 93.0h.7M292.3 97.5h.7M290.9 102.4h.7M301.4 95.2h.7M299.5 97.6h.7M294.7 99.9h.7M298.8 93.8h.7M291.2 95.0h.7M285.1 100.8h.7M298.3 96.9h.7M297.2 101.0h.7M289.0 106.3h.7M295.6 100.1h.7M298.4 92.6h.7M291.1 101.5h.7M292.9 96.9h.7M292.3 96.7h.7M294.0 96.9h.7M299.3 91.2h.7M296.5 97.0h.7M299.0 91.7h.7M294.9 104.0h.7M290.7 98.9h.7M290.8 96.7h.7M301.5 99.1h.7M292.2 96.6h.7M289.5 103.4h.7M292.7 101.0h.7M283.4 103.2h.7M297.3 97.8h.7M282.7 106.2h.7M294.5 97.9h.7M291.9 97.9h.7M295.4 99.2h.7M281.0 106.2h.7M297.5 95.3h.7M297.5 92.7h.7M303.4 95.9h.7M296.8 106.5h.7M302.5 98.8h.7M288.9 101.0h.7M297.6 99.8h.7M292.2 94.6h.7M298.8 94.7h.7M295.3 96.3h.7M291.4 94.9h.7M295.8 94.9h.7M287.4 103.8h.7M295.4 100.8h.7M295.4 93.0h.7M293.3 98.7h.7M292.7 95.2h.7M295.9 100.6h.7M301.5 98.9h.7M293.1 89.7h.7M292.0 97.5h.7M284.6 109.6h.7M297.8 95.9h.7M296.3 98.6h.7M295.3 102.4h.7M302.8 95.8h.7M292.1 100.3h.7M299.2 97.7h.7M292.7 102.5h.7M297.9 97.9h.7M292.3 99.2h.7M286.1 103.0h.7M291.7 98.6h.7M292.4 98.1h.7M294.5 98.3h.7M291.3 99.4h.7M294.4 99.7h.7M295.3 96.2h.7M288.0 96.0h.7M289.5 102.4h.7M292.8 104.7h.7M292.8 97.6h.7M292.5 97.2h.7M291.5 100.0h.7M288.3 102.2h.7M292.2 96.1h.7M298.8 96.6h.7M297.4 93.8h.7M287.0 98.3h.7M284.5 97.2h.7M299.7 93.0h.7M294.0 96.3h.7M295.9 102.7h.7M285.3 100.0h.7M293.1 95.5h.7M298.9 99.9h.7M298.9 97.9h.7M295.0 101.2h.7M288.8 97.1h.7M292.5 98.2h.7M297.5 92.6h.7M297.5 93.3h.7M286.1 97.0h.7M291.6 94.5h.7M295.0 97.8h.7M289.3 94.2h.7M292.6 100.7h.7M287.8 104.5h.7M293.2 96.8h.7M295.9 99.4h.7M292.7 96.2h.7M296.2 94.5h.7M297.1 99.9h.7M301.9 99.1h.7M298.4 96.0h.7M293.5 99.2h.7M301.0 104.7h.7M295.4 94.4h.7M297.7 90.2h.7M296.1 92.4h.7M288.7 99.6h.7M290.7 95.4h.7M296.4 96.4h.7M297.9 92.2h.7M287.7 104.6h.7M294.7 101.3h.7M282.4 100.8h.7M297.5 103.1h.7M285.9 96.3h.7M294.4 103.1h.7M298.3 90.7h.7M288.6 94.9h.7M289.0 97.8h.7M297.6 100.1h.7M303.2 91.3h.7M297.7 96.7h.7M297.6 102.9h.7M299.4 100.5h.7M296.6 99.7h.7M295.9 96.7h.7M290.5 98.9h.7M293.5 97.2h.7M291.5 97.2h.7M297.1 95.4h.7M293.2 97.9h.7M298.5 93.5h.7M298.4 92.4h.7M301.3 96.0h.7M292.7 100.6h.7M297.1 92.9h.7M293.6 99.6h.7M292.7 98.0h.7M294.6 99.0h.7M299.6 100.1h.7M297.4 106.7h.7M295.5 103.7h.7M291.2 94.7h.7M291.7 98.4h.7M295.2 90.2h.7M291.2 99.5h.7M297.3 97.6h.7M297.3 95.6h.7M295.0 101.9h.7M301.7 94.9h.7M293.3 95.6h.7M303.3 94.0h.7M294.0 92.5h.7M300.4 103.0h.7M293.0 98.1h.7M300.0 93.9h.7M300.6 101.2h.7M287.9 99.0h.7M297.0 96.8h.7M293.9 97.7h.7M295.1 98.8h.7M291.6 98.7h.7M293.2 94.8h.7M292.3 91.4h.7M296.4 96.3h.7M291.4 104.7h.7M292.5 106.5h.7M293.0 103.2h.7M296.3 102.6h.7M294.8 101.5h.7M289.7 94.1h.7M296.4 98.5h.7M298.3 101.6h.7M288.7 96.3h.7M294.0 95.7h.7M293.6 98.5h.7M292.4 103.1h.7M296.4 103.2h.7M296.7 100.3h.7M291.8 97.2h.7M290.5 97.2h.7M296.1 97.4h.7M287.2 96.9h.7M287.6 95.6h.7M288.0 96.4h.7M295.0 93.4h.7M291.4 99.4h.7M294.8 99.2h.7M298.2 98.0h.7M294.6 102.3h.7M294.4 95.4h.7M298.2 91.4h.7M298.0 100.3h.7M295.0 98.8h.7M300.7 95.4h.7M300.2 93.7h.7M299.0 88.3h.7M299.8 92.9h.7M305.4 91.7h.7M298.6 96.6h.7M296.9 91.7h.7M299.4 95.6h.7M304.2 94.7h.7M299.9 93.3h.7M301.7 96.6h.7M300.7 97.0h.7M297.3 95.2h.7M302.6 94.5h.7M299.4 92.4h.7M293.9 95.7h.7M296.6 94.3h.7M302.9 89.7h.7M301.8 92.7h.7M296.6 95.9h.7M300.0 90.0h.7M295.8 94.8h.7M300.7 91.4h.7M301.3 94.5h.7M300.2 95.1h.7M302.8 91.6h.7M299.0 90.9h.7M297.4 94.9h.7M300.9 91.1h.7M296.9 98.4h.7M302.7 84.1h.7M296.7 95.9h.7M299.6 91.0h.7M301.9 96.2h.7M299.7 96.2h.7M298.6 91.5h.7M297.0 93.4h.7M304.7 94.8h.7M298.1 89.8h.7M297.6 93.8h.7M294.2 96.9h.7M298.5 90.4h.7M297.7 93.5h.7M305.5 92.8h.7M301.8 93.0h.7M297.2 98.2h.7M295.1 90.3h.7M301.1 92.1h.7M300.2 95.2h.7M299.4 95.3h.7M302.6 91.3h.7M298.6 94.6h.7M300.8 92.1h.7M298.8 92.2h.7M300.0 95.4h.7M297.0 94.8h.7M294.6 94.5h.7M300.4 95.2h.7M296.5 95.3h.7M297.4 96.2h.7M300.8 94.7h.7M297.0 90.9h.7M296.2 91.6h.7M297.6 94.9h.7M301.6 90.8h.7M297.7 95.7h.7M296.5 101.9h.7M296.6 98.8h.7M303.5 94.9h.7M300.2 95.9h.7M299.8 96.8h.7M296.6 93.0h.7M300.0 92.3h.7M300.2 90.9h.7M298.9 91.2h.7M302.1 99.4h.7M294.9 92.6h.7M294.8 95.8h.7M303.3 90.5h.7M301.8 92.2h.7M300.4 99.8h.7M300.0 87.9h.7M297.4 96.5h.7M301.0 92.5h.7M301.1 94.8h.7M299.9 96.9h.7M298.2 97.1h.7M302.3 93.1h.7M298.5 94.5h.7M293.8 97.9h.7M293.0 91.2h.7M300.4 90.6h.7M300.5 93.6h.7M293.5 94.4h.7M299.4 95.5h.7M298.0 90.8h.7M298.2 95.0h.7M295.5 94.8h.7M295.2 89.7h.7M305.4 93.6h.7M299.5 97.0h.7M298.7 99.3h.7M298.7 94.9h.7M298.1 95.1h.7M300.4 93.6h.7M298.3 97.1h.7M301.0 93.2h.7M301.4 90.7h.7M302.8 91.7h.7M303.0 90.7h.7M299.1 94.9h.7M304.4 95.9h.7M297.3 92.9h.7M303.2 95.9h.7M301.0 92.2h.7M302.9 92.0h.7M300.8 95.3h.7M295.0 89.4h.7M301.0 95.4h.7M301.4 94.7h.7M301.3 96.3h.7M301.8 97.4h.7M300.7 95.9h.7M298.4 95.5h.7M300.8 93.7h.7M303.8 91.8h.7M303.0 93.2h.7M301.3 90.2h.7M299.8 96.9h.7M297.8 96.2h.7M301.3 93.6h.7M301.4 94.7h.7M299.4 95.3h.7M297.5 93.7h.7M295.1 96.1h.7M294.9 96.6h.7M298.6 91.1h.7M300.1 94.6h.7M297.4 92.3h.7M299.7 95.2h.7M304.6 97.3h.7M294.6 97.8h.7M299.8 91.8h.7M303.1 98.6h.7M301.6 97.1h.7M301.8 91.3h.7M294.8 100.2h.7M301.4 87.4h.7M298.0 92.6h.7M300.1 93.8h.7M301.8 90.9h.7M302.5 87.0h.7M303.6 100.2h.7M300.1 95.7h.7M302.6 102.7h.7M301.5 91.8h.7M294.6 97.4h.7M298.8 88.0h.7M298.9 96.1h.7M292.7 97.1h.7M293.4 93.1h.7M302.1 96.2h.7M301.8 90.7h.7M298.5 88.9h.7M296.2 97.5h.7M297.1 92.1h.7M294.1 96.2h.7M302.9 85.8h.7M298.2 98.3h.7M293.5 95.3h.7M301.2 96.6h.7M301.7 98.5h.7M299.3 93.8h.7M301.2 94.2h.7M294.2 93.9h.7M299.3 95.2h.7M295.2 94.1h.7M297.9 95.9h.7M299.1 96.1h.7M299.3 91.2h.7M297.0 91.4h.7M300.9 95.8h.7M294.5 91.2h.7M300.5 92.5h.7M300.0 95.2h.7M301.8 95.7h.7M295.3 89.3h.7M297.8 94.0h.7M298.9 95.6h.7M300.5 97.5h.7M297.8 94.9h.7M301.3 99.7h.7M295.6 93.0h.7M299.5 96.4h.7M299.3 93.6h.7M292.7 91.1h.7M298.6 93.7h.7M304.8 92.3h.7M302.0 95.7h.7M295.4 92.3h.7M300.5 98.2h.7M301.4 91.1h.7M297.3 98.1h.7M301.0 89.7h.7M302.9 89.7h.7M301.3 92.4h.7M297.8 93.0h.7M302.2 94.5h.7M301.3 92.1h.7M300.0 100.5h.7M303.9 91.0h.7M298.4 99.4h.7M299.9 93.9h.7M302.3 93.6h.7M302.5 98.7h.7M295.2 98.4h.7M296.9 95.7h.7M299.4 94.9h.7M293.8 99.3h.7M305.4 89.5h.7M298.6 111.7h.7M296.9 105.0h.7M297.9 109.6h.7M300.3 113.0h.7M293.9 90.6h.7M300.4 110.9h.7M296.5 104.4h.7M303.4 116.0h.7M296.3 105.8h.7M297.7 116.1h.7M297.5 113.6h.7M296.8 110.1h.7M292.3 108.7h.7M296.2 107.6h.7M295.3 109.8h.7M294.3 106.8h.7M292.1 121.8h.7M293.4 100.8h.7M294.4 105.5h.7M292.8 93.4h.7M300.9 114.1h.7M294.9 111.3h.7M292.7 98.3h.7M297.0 111.4h.7M294.0 108.0h.7M286.9 107.2h.7M299.1 109.0h.7M296.5 111.5h.7M289.8 100.3h.7M292.2 109.4h.7M294.1 96.7h.7M298.6 106.9h.7M298.9 120.0h.7M291.1 100.4h.7M299.2 116.4h.7M297.2 110.2h.7M298.1 111.9h.7M292.2 112.5h.7M298.9 105.6h.7M293.3 105.1h.7M294.3 111.2h.7M298.3 108.1h.7M295.1 97.4h.7M294.7 102.0h.7M294.4 110.1h.7M293.4 104.8h.7M292.6 106.5h.7M295.1 114.0h.7M290.2 113.4h.7M297.9 104.9h.7M294.0 109.2h.7M297.6 107.1h.7M295.5 108.1h.7M292.8 109.6h.7M297.7 108.3h.7M292.6 108.0h.7M295.7 109.9h.7M294.8 113.0h.7M299.2 112.9h.7M296.7 115.3h.7M295.9 107.0h.7M291.7 108.1h.7M299.6 102.3h.7M298.3 100.5h.7M296.9 118.9h.7M296.1 101.1h.7M296.8 107.1h.7M298.4 104.9h.7M290.8 105.2h.7M297.7 114.1h.7M296.8 108.2h.7M298.0 106.8h.7M294.6 109.3h.7M299.2 105.0h.7M297.5 104.2h.7M293.8 109.0h.7M292.0 103.0h.7M292.4 104.5h.7M293.3 121.8h.7M297.8 108.4h.7M292.0 94.0h.7M297.3 104.3h.7M299.1 105.7h.7M292.1 104.3h.7M291.4 99.7h.7M298.1 104.9h.7M298.0 104.7h.7M295.3 104.8h.7M294.4 104.1h.7M300.4 107.7h.7M290.2 118.0h.7M299.7 114.6h.7M295.7 107.1h.7M294.6 108.7h.7M297.4 108.0h.7M293.5 102.3h.7M300.9 117.9h.7M292.3 104.3h.7M295.9 111.5h.7M295.6 109.4h.7M297.1 114.7h.7M292.1 114.4h.7M297.3 111.2h.7M291.5 106.7h.7M295.2 111.8h.7M298.0 112.0h.7M292.1 115.4h.7M296.2 113.5h.7M295.9 103.9h.7M303.8 111.9h.7M298.2 105.3h.7M295.3 114.5h.7M297.3 118.2h.7M299.6 101.7h.7M291.4 114.8h.7M297.8 106.5h.7M295.1 104.8h.7M301.3 107.1h.7M291.8 113.3h.7M295.7 110.1h.7M294.8 107.8h.7M290.3 111.1h.7M293.9 105.8h.7M296.9 115.5h.7M289.5 107.2h.7M297.6 113.9h.7M293.2 109.9h.7M297.2 113.4h.7M294.1 107.0h.7M294.4 114.6h.7M299.2 105.5h.7M295.5 109.3h.7M293.3 107.4h.7M298.5 112.5h.7M293.9 104.3h.7M295.6 99.6h.7M296.9 108.7h.7M292.0 106.7h.7M294.0 106.5h.7M293.3 115.9h.7M293.1 112.4h.7M296.6 116.4h.7M295.8 108.1h.7M296.2 97.2h.7M303.1 106.8h.7M295.0 101.6h.7M295.5 117.3h.7M293.7 110.6h.7M299.0 113.5h.7M294.7 98.0h.7M297.2 111.3h.7M295.0 105.6h.7M301.2 99.0h.7M294.4 104.6h.7M291.3 104.1h.7M293.6 115.2h.7M290.7 100.2h.7M296.7 99.2h.7M289.9 104.5h.7M292.3 102.5h.7M295.5 110.7h.7M294.0 106.5h.7M298.1 107.2h.7M298.1 104.7h.7M297.4 115.4h.7M295.0 106.1h.7M295.5 110.7h.7M292.3 108.3h.7M294.2 116.2h.7M290.8 111.8h.7M295.0 103.8h.7M296.4 106.7h.7M296.1 109.4h.7M299.5 105.8h.7M300.9 92.7h.7M301.4 115.0h.7M300.6 109.2h.7M296.8 102.3h.7M299.9 101.5h.7M293.6 108.1h.7M296.6 110.0h.7M292.5 106.1h.7M297.4 114.8h.7M298.2 110.4h.7M295.2 105.0h.7M294.4 107.5h.7M297.5 105.2h.7M302.1 102.4h.7M298.4 106.9h.7M295.5 105.9h.7M300.5 106.4h.7M297.6 108.8h.7M298.2 111.4h.7M300.9 103.9h.7M293.5 117.7h.7M299.8 108.5h.7M295.1 109.5h.7M299.8 103.7h.7M308.6 99.8h.7M297.7 97.8h.7M287.4 101.9h.7M292.0 96.9h.7M294.5 101.4h.7M304.2 100.3h.7M301.0 102.4h.7M309.5 103.4h.7M309.3 99.7h.7M302.0 96.4h.7M303.4 95.2h.7M302.7 96.5h.7M297.8 107.0h.7M300.8 104.6h.7M298.5 89.5h.7M308.7 99.1h.7M296.0 105.4h.7M293.1 95.9h.7M306.7 96.1h.7M306.6 98.4h.7M298.6 100.5h.7M296.9 106.2h.7M306.4 100.5h.7M303.5 103.2h.7M310.0 91.1h.7M306.0 105.3h.7M298.0 100.2h.7M297.8 107.1h.7M293.1 103.5h.7M307.6 103.3h.7M297.0 97.5h.7M287.2 94.3h.7M306.4 94.7h.7M290.1 98.7h.7M291.0 102.7h.7M294.7 105.5h.7M299.2 92.1h.7M295.3 96.4h.7M294.8 107.1h.7M293.9 102.2h.7M296.4 103.4h.7M291.3 91.2h.7M302.9 108.2h.7M291.6 98.3h.7M296.9 94.8h.7M305.7 100.4h.7M291.6 98.9h.7M307.9 96.1h.7M296.8 95.4h.7M300.9 97.0h.7M305.2 95.4h.7M291.2 102.7h.7M280.9 94.7h.7M301.6 101.5h.7M296.4 97.6h.7M303.0 121.2h.7M295.1 99.1h.7M297.2 103.2h.7M300.0 103.2h.7M309.7 98.6h.7M298.2 102.2h.7M312.5 98.1h.7M310.0 106.8h.7M283.5 94.5h.7M294.0 102.3h.7M307.9 100.4h.7M300.9 112.4h.7M302.0 112.3h.7M294.5 109.4h.7M296.9 86.4h.7M294.9 97.4h.7M299.6 104.4h.7M304.0 103.1h.7M295.4 110.2h.7M307.1 100.3h.7M296.5 99.8h.7M298.6 96.2h.7M299.8 96.3h.7M303.8 96.4h.7M302.8 101.9h.7M300.9 103.1h.7M293.8 114.7h.7M295.8 104.3h.7M300.0 97.6h.7M310.3 106.3h.7M298.3 103.3h.7M304.0 109.1h.7M306.0 99.1h.7M298.4 93.5h.7M301.5 105.0h.7M297.6 103.9h.7M300.7 97.5h.7M292.6 106.4h.7M315.1 103.2h.7M293.5 94.2h.7M301.4 103.8h.7M309.0 86.4h.7M311.0 101.0h.7M300.7 102.3h.7M297.8 98.5h.7M306.2 90.3h.7M299.2 103.3h.7M290.1 99.2h.7M309.1 102.2h.7M304.2 104.1h.7M301.3 102.1h.7M295.1 98.9h.7M311.0 93.1h.7M298.9 92.9h.7M296.7 95.7h.7M292.6 101.5h.7M294.3 103.1h.7M310.8 85.6h.7M298.9 88.2h.7M299.2 102.2h.7M301.2 107.0h.7M300.9 90.3h.7M309.0 94.7h.7M299.4 101.9h.7M294.7 100.6h.7M308.9 90.5h.7M290.0 97.5h.7M298.9 92.8h.7M286.1 105.3h.7M302.3 92.5h.7M303.4 99.7h.7M300.9 92.5h.7M298.6 102.8h.7M289.4 94.1h.7M305.8 111.5h.7" stroke="#000" stroke-width="0.7" fill="none"/>
<rect x="278.5" y="74.5" width="53.0" height="51.0" fill="none" stroke="#9c9c9c" stroke-width="0.8"/>
<path d="M294.5 125.5 L294.5 103.5 L331.5 103.5" fill="none" stroke="#444" stroke-width="0.85"/>
<line x1="278.3" y1="125.4" x2="278.3" y2="126.60000000000001" stroke="#777" stroke-width="0.6"/>
<line x1="291.7" y1="125.4" x2="291.7" y2="126.60000000000001" stroke="#777" stroke-width="0.6"/>
<line x1="305.1" y1="125.4" x2="305.1" y2="126.60000000000001" stroke="#777" stroke-width="0.6"/>
<line x1="318.4" y1="125.4" x2="318.4" y2="126.60000000000001" stroke="#777" stroke-width="0.6"/>
<line x1="331.8" y1="125.4" x2="331.8" y2="126.60000000000001" stroke="#777" stroke-width="0.6"/>
<text x="310.3" y="82.8" font-size="6.2" textLength="21.3" lengthAdjust="spacingAndGlyphs" fill="#3c3c3c" stroke="none">R2=13%</text>
<text x="318.9" y="118.4" font-size="4.3" text-anchor="end" font-weight="bold" textLength="5.2" lengthAdjust="spacingAndGlyphs" fill="#222" stroke="none">R2</text>
<path d="M364.7 93.5h.7M357.0 98.5h.7M362.1 97.8h.7M366.5 103.0h.7M362.8 85.8h.7M357.5 99.8h.7M367.0 93.6h.7M368.8 92.8h.7M374.1 89.3h.7M367.3 98.2h.7M359.3 96.0h.7M358.7 99.9h.7M366.0 96.8h.7M369.3 92.6h.7M366.6 91.1h.7M359.9 100.9h.7M369.1 95.9h.7M360.5 95.2h.7M361.5 98.0h.7M361.6 95.5h.7M362.6 94.2h.7M362.3 93.2h.7M355.4 100.2h.7M368.0 87.4h.7M368.8 96.2h.7M360.6 98.3h.7M354.3 105.0h.7M368.7 91.2h.7M353.0 101.0h.7M359.5 98.6h.7M362.5 93.8h.7M359.2 94.8h.7M364.9 94.4h.7M362.5 93.4h.7M363.5 93.4h.7M363.1 94.4h.7M357.2 95.2h.7M351.8 98.6h.7M371.1 102.6h.7M353.9 99.3h.7M369.9 105.0h.7M358.9 93.5h.7M368.4 99.8h.7M348.5 102.2h.7M364.6 88.7h.7M360.4 94.6h.7M362.1 89.5h.7M363.9 95.3h.7M365.4 95.0h.7M359.0 90.7h.7M358.9 94.5h.7M363.8 93.4h.7M365.2 98.2h.7M365.4 100.5h.7M362.3 89.2h.7M362.5 100.9h.7M362.8 100.6h.7M359.7 97.4h.7M362.9 88.3h.7M361.5 94.4h.7M366.6 99.7h.7M361.2 90.7h.7M365.1 91.4h.7M365.4 98.3h.7M363.1 99.3h.7M361.0 92.9h.7M358.0 93.3h.7M367.3 92.3h.7M363.6 89.7h.7M363.0 89.9h.7M363.3 94.8h.7M360.5 98.6h.7M360.5 93.5h.7M356.4 94.9h.7M368.0 91.6h.7M362.3 98.8h.7M356.2 95.7h.7M367.1 98.7h.7M363.7 95.2h.7M365.8 86.0h.7M372.0 82.7h.7M359.0 92.6h.7M356.8 99.3h.7M369.9 85.2h.7M360.3 98.6h.7M357.6 98.6h.7M360.7 87.4h.7M360.4 96.1h.7M359.9 97.2h.7M354.1 100.7h.7M357.9 94.9h.7M371.6 96.8h.7M363.5 90.9h.7M368.9 92.3h.7M360.3 100.1h.7M361.1 99.2h.7M368.4 95.7h.7M357.7 99.0h.7M359.5 92.6h.7M365.4 96.2h.7M355.5 99.0h.7M355.0 96.2h.7M361.0 102.9h.7M358.7 97.0h.7M368.4 95.1h.7M363.3 85.7h.7M361.4 88.7h.7M358.8 96.8h.7M364.2 102.8h.7M364.1 99.4h.7M361.4 96.3h.7M365.2 95.2h.7M360.4 89.6h.7M364.9 94.9h.7M364.5 93.7h.7M361.0 91.0h.7M364.1 88.9h.7M370.0 93.7h.7M361.3 95.2h.7M364.6 92.4h.7M358.1 100.5h.7M356.3 98.7h.7M371.1 91.9h.7M360.3 97.1h.7M359.6 97.9h.7M357.9 102.4h.7M360.9 94.2h.7M365.5 104.7h.7M359.4 96.0h.7M358.8 96.5h.7M368.9 93.2h.7M364.7 95.3h.7M352.4 93.3h.7M369.8 92.6h.7M363.7 95.8h.7M363.0 95.2h.7M356.3 90.9h.7M364.6 94.0h.7M366.8 93.3h.7M362.4 98.3h.7M362.0 94.0h.7M359.8 96.0h.7M360.0 95.6h.7M372.5 100.1h.7M364.2 99.1h.7M360.0 97.0h.7M356.3 94.7h.7M357.7 97.3h.7M362.1 94.4h.7M356.6 98.9h.7M366.3 88.4h.7M364.7 98.2h.7M357.7 97.0h.7M376.4 89.3h.7M360.5 98.0h.7M362.9 95.8h.7M363.4 93.5h.7M351.3 100.7h.7M359.8 91.7h.7M364.2 100.8h.7M361.7 93.3h.7M365.1 98.1h.7M352.6 98.3h.7M358.6 96.9h.7M360.6 94.6h.7M362.8 95.7h.7M356.2 98.1h.7M357.9 100.7h.7M364.7 96.6h.7M357.6 97.3h.7M353.4 103.3h.7M356.5 102.1h.7M367.5 93.3h.7M365.2 94.3h.7M365.7 97.0h.7M371.6 96.8h.7M363.0 98.9h.7M366.6 94.0h.7M360.5 91.6h.7M364.6 89.9h.7M357.7 95.8h.7M362.3 91.4h.7M365.2 95.7h.7M361.9 94.6h.7M367.4 97.2h.7M358.1 94.6h.7M357.9 95.5h.7M360.9 96.2h.7M356.3 107.3h.7M358.0 97.4h.7M350.1 97.2h.7M358.7 99.8h.7M361.6 88.3h.7M366.4 99.0h.7M363.1 99.1h.7M361.4 92.4h.7M364.8 90.9h.7M362.7 93.6h.7M361.7 96.9h.7M363.8 87.0h.7M358.0 99.8h.7M365.7 92.1h.7M362.6 97.8h.7M366.5 88.2h.7M355.2 100.4h.7M362.4 89.8h.7M368.7 94.5h.7M363.5 91.0h.7M358.5 101.8h.7M364.7 96.7h.7M350.4 92.6h.7M368.8 94.7h.7M361.1 96.7h.7M365.6 96.2h.7M360.3 95.1h.7M360.6 101.7h.7M355.1 86.6h.7M362.3 93.2h.7M356.0 98.7h.7M356.1 98.9h.7M361.1 99.0h.7M354.2 94.5h.7M356.8 94.3h.7M364.7 92.8h.7M353.6 99.1h.7M362.0 95.8h.7M354.6 101.6h.7M365.5 97.4h.7M366.3 91.8h.7M356.2 99.2h.7M362.8 91.2h.7M365.1 89.1h.7M359.5 101.7h.7M362.5 97.0h.7M361.1 96.9h.7M364.0 102.7h.7M364.5 93.3h.7M365.9 96.4h.7M360.5 98.0h.7M361.8 93.6h.7M358.7 97.9h.7M360.1 95.7h.7M354.7 102.5h.7M364.9 93.8h.7M370.9 92.3h.7M359.3 95.2h.7M363.4 93.2h.7M356.0 101.5h.7M360.5 96.2h.7M365.0 94.3h.7M368.6 87.1h.7M362.5 96.9h.7M359.3 95.9h.7M366.0 86.2h.7M359.7 90.1h.7M359.4 89.7h.7M360.0 102.6h.7M368.6 91.0h.7M353.6 107.5h.7M360.8 92.1h.7M357.9 93.6h.7M361.6 95.9h.7M364.4 97.4h.7M354.8 92.2h.7M354.8 96.4h.7M359.8 95.9h.7M365.0 99.5h.7M360.0 92.9h.7M359.1 94.6h.7M362.5 98.1h.7M359.2 101.4h.7M372.6 93.8h.7M368.8 90.6h.7M361.2 105.5h.7M362.5 96.6h.7M358.7 94.6h.7M361.6 90.1h.7M357.9 101.8h.7M358.9 94.9h.7M367.3 97.8h.7M360.8 96.4h.7M366.5 96.3h.7M367.8 94.1h.7M360.7 99.4h.7M358.5 91.4h.7M368.3 93.2h.7M367.5 91.1h.7M364.9 93.2h.7M364.8 97.6h.7M363.8 97.2h.7M364.7 99.1h.7M361.2 89.4h.7M369.7 91.4h.7M358.8 95.9h.7M370.3 89.4h.7M365.5 95.6h.7M363.6 102.3h.7M368.8 86.8h.7M363.2 87.8h.7M361.0 97.1h.7M363.6 97.1h.7M364.6 95.4h.7M362.3 97.0h.7M364.3 102.7h.7M365.1 98.8h.7M362.3 95.1h.7M358.7 93.1h.7M371.3 89.9h.7M361.7 94.2h.7M366.6 90.7h.7M359.2 95.9h.7M369.0 91.5h.7M360.2 94.6h.7M367.9 92.3h.7M362.8 99.2h.7M363.5 90.3h.7M369.1 94.8h.7M358.4 93.2h.7M365.8 91.3h.7M360.8 95.7h.7M362.9 98.8h.7M359.1 100.8h.7M369.1 94.6h.7M365.6 94.1h.7M361.2 96.1h.7M362.4 103.0h.7M359.6 93.6h.7M368.8 96.9h.7M362.6 94.1h.7M359.2 101.1h.7M359.8 94.9h.7M361.8 90.5h.7M359.9 87.1h.7M356.7 94.2h.7M363.0 98.6h.7M360.0 103.6h.7M358.5 96.8h.7M364.6 90.6h.7M367.5 90.5h.7M359.8 93.6h.7M366.6 91.8h.7M358.3 95.0h.7M359.5 97.6h.7M361.1 100.2h.7M360.8 94.3h.7M367.1 97.9h.7M354.9 103.5h.7M366.8 92.6h.7M362.2 89.1h.7M361.5 100.8h.7M362.0 96.2h.7M365.5 94.6h.7M362.9 93.0h.7M363.9 100.1h.7M357.2 93.7h.7M362.8 99.2h.7M369.6 90.2h.7M361.1 99.3h.7M366.0 97.8h.7M365.9 96.0h.7M365.1 95.1h.7M358.4 98.3h.7M371.4 93.9h.7M366.9 93.6h.7M362.6 97.0h.7M363.3 99.6h.7M359.4 94.8h.7M359.3 105.0h.7M357.5 96.0h.7M367.7 99.0h.7M364.2 92.7h.7M362.7 91.8h.7M361.4 96.6h.7M364.0 97.7h.7M368.4 98.8h.7M364.9 92.3h.7M361.5 92.7h.7M359.2 96.9h.7M364.8 90.7h.7M354.1 98.3h.7M357.2 99.2h.7M358.6 93.8h.7M358.3 97.3h.7M365.1 96.0h.7M366.9 90.8h.7M364.9 93.9h.7M356.7 97.7h.7M370.4 88.2h.7M370.5 92.4h.7M368.4 89.8h.7M365.3 91.9h.7M355.6 96.4h.7M360.6 90.2h.7M361.9 92.3h.7M360.8 91.1h.7M365.1 92.4h.7M353.4 97.0h.7M359.1 91.3h.7M364.6 95.8h.7M362.8 101.4h.7M368.6 91.8h.7M365.1 95.4h.7M364.1 99.9h.7M354.9 91.1h.7M363.4 96.7h.7M363.2 90.2h.7M366.0 89.1h.7M366.3 95.5h.7M365.5 98.0h.7M364.8 102.5h.7M363.4 93.0h.7M372.4 87.2h.7M359.1 104.5h.7M367.1 89.2h.7M361.0 101.7h.7M360.5 93.1h.7M360.7 97.4h.7M369.5 96.4h.7M363.2 101.6h.7M358.1 102.4h.7M362.8 97.2h.7M359.2 95.3h.7M365.9 97.6h.7M354.0 103.0h.7M358.5 94.3h.7M358.3 101.3h.7M365.9 95.5h.7M351.5 98.3h.7M359.1 96.6h.7M368.3 89.0h.7M365.0 97.8h.7M369.6 91.2h.7M367.8 99.5h.7M357.0 92.4h.7M358.8 97.3h.7M368.1 92.2h.7M367.2 92.0h.7M361.3 94.1h.7M358.7 100.9h.7M365.0 95.9h.7M359.4 96.3h.7M365.1 96.0h.7M368.2 87.0h.7M368.1 94.7h.7M361.7 96.9h.7M365.4 99.7h.7M372.9 88.2h.7M363.4 98.9h.7M363.9 93.6h.7M367.1 95.4h.7M362.7 99.1h.7M351.0 99.7h.7M361.5 97.1h.7M359.9 104.1h.7M361.2 97.3h.7M363.8 97.7h.7M361.7 99.4h.7M356.0 94.6h.7M364.7 94.4h.7M361.6 87.9h.7M361.4 93.7h.7M360.8 95.3h.7M359.5 95.2h.7M362.6 88.0h.7M356.7 102.0h.7M368.5 87.2h.7M356.4 95.6h.7M361.1 102.1h.7M366.9 95.7h.7M364.2 95.1h.7M358.1 95.1h.7M370.1 99.9h.7M363.7 100.1h.7M359.8 98.0h.7M368.7 90.0h.7M363.6 92.2h.7M367.0 86.5h.7M364.0 93.2h.7M363.9 95.9h.7M369.3 93.6h.7M367.2 93.2h.7M361.1 102.5h.7M369.3 91.9h.7M364.9 92.5h.7M358.9 102.8h.7M363.7 102.9h.7M365.0 93.4h.7M360.2 97.9h.7M357.7 98.0h.7M367.9 89.7h.7M369.2 89.5h.7M362.0 92.0h.7M360.3 95.5h.7M361.2 105.1h.7M364.5 93.5h.7M358.2 99.3h.7M356.2 96.6h.7M366.3 101.8h.7M356.9 102.7h.7M354.0 90.1h.7M356.6 99.9h.7M361.0 93.6h.7M370.3 91.3h.7M356.4 93.5h.7M361.6 93.4h.7M364.1 89.7h.7M366.0 90.6h.7M362.5 94.4h.7M367.2 96.6h.7M358.3 95.1h.7M371.7 92.0h.7M371.8 91.9h.7M366.4 99.4h.7M358.9 96.8h.7M362.3 98.7h.7M358.7 98.0h.7M358.6 97.8h.7M369.1 94.9h.7M367.0 102.9h.7M360.6 99.1h.7M355.7 91.6h.7M360.4 102.7h.7M362.2 108.5h.7M362.4 96.8h.7M367.2 91.7h.7M358.6 96.2h.7M359.9 100.2h.7M361.6 98.5h.7M355.6 99.5h.7M371.1 89.9h.7M364.5 99.1h.7M366.7 98.7h.7M359.5 101.4h.7M359.7 100.9h.7M375.1 91.6h.7M359.9 99.6h.7M362.6 92.4h.7M361.0 92.2h.7M368.0 94.9h.7M363.2 98.0h.7M371.2 87.5h.7M355.8 102.6h.7M358.9 95.2h.7M368.0 95.3h.7M368.1 97.9h.7M359.0 96.7h.7M358.1 87.4h.7M352.5 105.5h.7M361.6 96.6h.7M359.1 99.4h.7M365.0 90.6h.7M364.2 93.5h.7M362.0 96.5h.7M369.3 92.1h.7M365.3 93.9h.7M356.0 105.1h.7M362.4 96.0h.7M357.0 93.4h.7M372.0 95.5h.7M364.4 85.9h.7M361.9 90.9h.7M360.5 95.0h.7M358.2 95.8h.7M362.1 99.3h.7M370.5 92.8h.7M361.9 95.4h.7M361.3 96.5h.7M359.5 97.3h.7M365.1 92.4h.7M358.9 98.1h.7M362.5 95.2h.7M362.8 98.4h.7M359.9 93.3h.7M363.0 92.1h.7M367.0 95.3h.7M364.8 94.9h.7M356.6 99.6h.7M364.1 97.0h.7M357.6 99.0h.7M356.7 101.2h.7M362.9 95.8h.7M370.3 92.2h.7M360.3 94.9h.7M362.2 99.2h.7M364.7 91.5h.7M360.9 95.0h.7M365.4 94.0h.7M357.6 95.8h.7M364.3 87.9h.7M348.6 93.8h.7M369.0 87.7h.7M366.8 94.4h.7M368.0 95.9h.7M360.4 97.2h.7M367.3 93.9h.7M357.7 96.3h.7M357.2 101.1h.7M356.8 93.5h.7M360.8 98.4h.7M362.5 94.6h.7M364.3 96.9h.7M355.8 97.6h.7M367.7 94.4h.7M355.2 98.5h.7M369.6 92.9h.7M363.9 98.8h.7M370.7 94.9h.7M354.0 97.0h.7M360.2 97.3h.7M361.4 97.5h.7M370.4 93.7h.7M366.1 92.5h.7M369.7 91.5h.7M363.2 94.9h.7M359.7 107.3h.7M364.1 98.1h.7M370.7 87.8h.7M359.9 102.2h.7M361.2 92.5h.7M366.1 92.6h.7M353.1 92.4h.7M359.2 100.0h.7M360.3 101.6h.7M371.6 89.3h.7M363.0 94.8h.7M365.7 93.0h.7M369.4 96.0h.7M363.6 90.5h.7M364.3 92.9h.7M365.6 97.2h.7M360.1 98.5h.7M366.2 88.8h.7M363.1 98.2h.7M363.6 99.1h.7M355.1 95.3h.7M363.5 94.1h.7M365.6 97.2h.7M365.7 91.4h.7M356.6 92.1h.7M359.0 99.6h.7M359.9 91.2h.7M365.3 93.0h.7M365.8 91.2h.7M363.7 89.7h.7M353.3 99.8h.7M365.9 94.5h.7M355.2 102.4h.7M368.5 97.8h.7M366.4 94.5h.7M356.9 101.9h.7M353.9 101.5h.7M358.7 94.5h.7M358.0 98.7h.7M363.2 92.2h.7M365.0 96.6h.7M366.3 100.7h.7M359.5 94.9h.7M357.1 104.8h.7M364.5 93.0h.7M363.2 94.4h.7M365.7 92.8h.7M363.0 94.8h.7M354.0 93.0h.7M361.8 90.8h.7M365.2 96.1h.7M368.1 87.6h.7M364.9 97.7h.7M358.4 96.5h.7M368.5 99.5h.7M368.6 94.6h.7M359.9 100.6h.7M364.1 88.8h.7M361.9 95.2h.7M361.1 89.2h.7M365.1 93.4h.7M356.7 91.3h.7M353.0 101.2h.7M365.7 94.7h.7M361.6 89.0h.7M365.9 98.5h.7M357.6 102.5h.7M360.6 99.6h.7M359.2 91.3h.7M360.9 102.5h.7M364.5 99.3h.7M365.5 96.9h.7M361.2 97.6h.7M362.7 99.3h.7M362.4 100.5h.7M365.9 87.5h.7M362.8 97.7h.7M371.7 92.8h.7M358.9 91.1h.7M364.3 91.5h.7M363.9 96.1h.7M359.0 103.1h.7M367.1 94.2h.7M365.4 94.7h.7M355.7 99.1h.7M364.8 92.2h.7M363.2 96.6h.7M363.2 96.1h.7M364.2 94.2h.7M357.4 98.7h.7M364.6 90.9h.7M364.8 95.0h.7M352.8 91.5h.7M360.5 93.9h.7M361.8 100.2h.7M360.0 99.2h.7M363.1 95.9h.7M365.9 84.2h.7M365.7 92.2h.7M359.7 95.0h.7M362.5 95.7h.7M362.1 102.9h.7M359.1 97.9h.7M357.6 100.3h.7M366.0 97.3h.7M365.1 91.2h.7M368.3 90.2h.7M372.0 94.9h.7M358.4 94.4h.7M367.5 97.6h.7M366.2 97.2h.7M366.5 96.0h.7M366.8 90.6h.7M356.4 100.1h.7M356.6 95.4h.7M363.1 98.1h.7M351.8 98.0h.7M363.5 90.9h.7M363.6 100.5h.7M367.4 92.9h.7M358.6 87.1h.7M365.3 94.9h.7M357.2 100.8h.7M363.8 94.0h.7M367.2 95.4h.7M361.9 95.0h.7M360.0 102.5h.7M360.7 98.5h.7M369.9 92.6h.7M357.1 99.7h.7M356.0 94.0h.7M360.4 99.9h.7M363.1 94.1h.7M360.5 92.2h.7M358.9 97.9h.7M364.7 92.3h.7M362.3 97.2h.7M365.3 87.7h.7M364.7 94.5h.7M362.5 96.6h.7M354.5 102.4h.7M358.7 93.4h.7M365.3 92.7h.7M362.5 98.8h.7M357.1 97.0h.7M367.3 95.2h.7M369.2 87.9h.7M353.4 96.8h.7M357.8 100.0h.7M359.9 94.9h.7M356.8 97.3h.7M363.3 100.0h.7M367.6 97.2h.7M367.1 95.0h.7M367.8 93.0h.7M370.7 93.5h.7M369.8 90.3h.7M364.6 104.7h.7M362.3 98.0h.7M359.3 95.3h.7M361.6 91.5h.7M364.6 99.8h.7M364.5 97.4h.7M365.6 94.6h.7M364.0 97.0h.7M359.7 100.4h.7M356.4 97.4h.7M357.1 94.3h.7M355.3 103.2h.7M365.6 95.8h.7M371.3 88.9h.7M363.6 91.4h.7M362.6 90.6h.7M367.9 86.8h.7M362.2 99.0h.7M356.5 106.4h.7M358.9 99.4h.7M366.4 92.9h.7M364.8 91.4h.7M359.9 88.3h.7M366.8 89.1h.7M358.9 98.7h.7M367.4 88.4h.7M361.4 94.9h.7M355.8 95.6h.7M366.0 95.6h.7M359.8 98.8h.7M364.8 95.3h.7M361.7 96.4h.7M361.1 92.2h.7M363.3 98.3h.7M362.8 100.9h.7M358.9 93.8h.7M358.2 93.3h.7M361.2 89.8h.7M361.8 95.1h.7M361.9 97.9h.7M362.2 93.4h.7M364.5 91.9h.7M368.6 96.2h.7M365.7 96.9h.7M358.2 101.6h.7M356.0 100.3h.7M359.3 86.7h.7M357.5 96.4h.7M358.6 99.0h.7M362.3 90.8h.7M355.8 93.2h.7M355.0 92.8h.7M357.3 101.9h.7M363.9 90.8h.7M361.9 92.7h.7M370.1 96.7h.7M350.7 101.7h.7M358.7 96.7h.7M371.7 94.6h.7M363.5 97.4h.7M355.3 100.3h.7M360.8 96.4h.7M360.1 90.9h.7M362.7 104.6h.7M355.5 101.7h.7M366.1 94.6h.7M359.0 91.5h.7M357.1 93.4h.7M370.7 90.2h.7M365.5 93.9h.7M363.2 100.1h.7M367.0 94.5h.7M366.1 95.7h.7M362.0 97.8h.7M362.0 94.9h.7M369.3 99.0h.7M357.3 106.1h.7M363.1 100.3h.7M357.8 98.7h.7M366.1 92.2h.7M361.0 91.6h.7M361.2 103.8h.7M362.6 95.1h.7M354.6 97.8h.7M358.1 99.1h.7M360.5 94.6h.7M359.8 98.3h.7M363.8 88.4h.7M359.0 103.3h.7M355.7 99.5h.7M366.5 100.0h.7M364.2 98.8h.7M361.0 93.3h.7M358.6 90.0h.7M368.6 96.8h.7M363.1 98.5h.7M361.2 103.0h.7M358.0 95.9h.7M355.5 93.9h.7M369.1 98.6h.7M356.2 100.0h.7M362.8 92.9h.7M356.8 101.8h.7M366.4 92.7h.7M357.4 98.6h.7M354.5 102.0h.7M369.3 94.6h.7M362.8 97.2h.7M360.4 97.8h.7M360.2 98.2h.7M360.6 98.0h.7M364.9 93.5h.7M358.2 101.3h.7M360.2 95.4h.7M362.6 91.8h.7M367.0 94.1h.7M358.0 96.3h.7M359.8 93.9h.7M361.1 87.0h.7M362.0 94.4h.7M359.2 101.0h.7M361.3 98.5h.7M359.9 96.5h.7M366.3 96.5h.7M366.1 92.5h.7M367.3 90.1h.7M352.9 95.6h.7M354.7 98.4h.7M355.9 102.5h.7M362.3 95.6h.7M362.9 94.7h.7M360.5 95.8h.7M360.0 92.8h.7M370.5 95.5h.7M367.2 101.4h.7M360.3 101.3h.7M357.1 102.7h.7M361.4 100.8h.7M364.7 97.8h.7M365.7 95.1h.7M364.5 100.7h.7M364.6 95.8h.7M367.3 90.4h.7M371.3 92.8h.7M359.4 91.9h.7M366.3 91.0h.7M362.9 95.8h.7M367.3 94.3h.7M353.7 100.1h.7M364.0 95.1h.7M366.5 94.6h.7M367.0 88.6h.7M368.1 92.5h.7M364.9 96.5h.7M362.4 98.7h.7M362.9 98.3h.7M361.7 101.3h.7M354.9 99.1h.7M362.5 96.6h.7M358.2 97.4h.7M365.5 97.6h.7M366.3 90.3h.7M361.3 95.2h.7M355.3 99.7h.7M363.8 88.7h.7M375.5 88.9h.7M369.4 90.6h.7M354.2 104.5h.7M367.2 89.1h.7M368.8 93.5h.7M366.9 95.1h.7M365.9 95.5h.7M367.8 92.9h.7M365.6 94.8h.7M360.9 93.1h.7M353.1 99.1h.7M354.2 96.1h.7M364.2 92.7h.7M373.9 99.5h.7M364.3 92.1h.7M363.3 94.0h.7M367.8 100.1h.7M371.2 93.8h.7M367.2 99.4h.7M367.4 95.3h.7M356.4 98.1h.7M362.4 94.7h.7M355.9 92.4h.7M359.1 98.0h.7M361.1 92.0h.7M365.6 100.8h.7M358.7 90.3h.7M361.5 96.4h.7M367.6 92.1h.7M368.3 92.1h.7M369.7 95.4h.7M368.7 91.2h.7M373.1 103.6h.7M357.9 100.3h.7M362.6 92.4h.7M365.1 92.6h.7M365.8 93.7h.7M360.8 101.5h.7M372.1 91.5h.7M359.7 90.5h.7M363.4 94.6h.7M355.1 93.5h.7M366.1 96.8h.7M369.9 99.2h.7M355.6 102.9h.7M365.2 99.5h.7M360.0 93.4h.7M363.0 97.1h.7M357.7 96.2h.7M365.2 97.1h.7M362.4 97.8h.7M359.6 96.6h.7M365.1 97.6h.7M368.2 90.2h.7M368.2 99.3h.7M364.7 92.1h.7M360.8 90.8h.7M352.4 100.7h.7M356.6 94.7h.7M365.3 91.3h.7M362.8 95.7h.7M358.9 93.5h.7M365.6 84.4h.7M363.6 97.7h.7M361.3 96.2h.7M364.0 95.4h.7M363.3 99.6h.7M367.5 97.9h.7M358.4 90.4h.7M354.7 99.9h.7M360.5 90.1h.7M362.8 100.8h.7M362.0 92.9h.7M362.1 96.4h.7M360.0 96.3h.7M360.3 98.4h.7M371.6 94.3h.7M362.4 105.8h.7M358.8 92.6h.7M356.8 101.0h.7M361.8 93.4h.7M358.7 97.8h.7M364.7 96.6h.7M359.3 87.9h.7M360.5 98.4h.7M365.4 96.6h.7M359.9 104.6h.7M357.2 99.1h.7M359.5 96.1h.7M361.0 100.4h.7M366.1 94.1h.7M356.0 98.3h.7M362.9 97.0h.7M359.6 96.9h.7M372.6 87.4h.7M355.8 90.5h.7M362.9 102.4h.7M363.0 90.0h.7M365.7 93.6h.7M360.9 100.4h.7M359.3 97.0h.7M362.8 96.2h.7M361.2 97.9h.7M362.7 96.2h.7M362.4 92.9h.7M356.8 100.0h.7M367.8 92.6h.7M361.6 93.1h.7M355.2 96.3h.7M357.9 97.8h.7M356.1 100.5h.7M357.6 102.5h.7M358.4 91.4h.7M360.7 98.1h.7M365.4 96.5h.7M360.6 96.5h.7M362.5 97.9h.7M359.3 97.6h.7M362.1 94.4h.7M361.0 102.7h.7M362.2 91.8h.7M368.2 87.4h.7M358.1 97.7h.7M367.6 97.8h.7M368.8 92.7h.7M364.0 97.2h.7M357.8 96.5h.7M364.8 94.5h.7M361.0 92.4h.7M360.2 91.3h.7M365.9 92.8h.7M358.8 96.7h.7M379.7 94.7h.7M362.5 101.5h.7M353.5 108.0h.7M362.9 96.3h.7M355.8 95.5h.7M362.2 93.9h.7M366.5 96.8h.7M363.0 97.5h.7M363.5 95.8h.7M360.8 98.0h.7M364.1 94.5h.7M357.4 93.5h.7M361.5 103.2h.7M366.8 93.2h.7M363.1 94.4h.7M367.0 96.0h.7M362.0 97.4h.7M362.6 88.6h.7M357.5 97.3h.7M356.9 98.4h.7M358.2 97.5h.7M361.6 91.2h.7M365.6 99.0h.7M360.4 92.0h.7M362.5 100.7h.7M359.9 95.0h.7M363.8 91.4h.7M359.3 100.9h.7M361.0 94.0h.7M366.5 97.1h.7M366.7 92.5h.7M365.1 95.5h.7M360.2 104.8h.7M358.6 96.5h.7M357.1 96.0h.7M366.5 92.2h.7M356.2 93.0h.7M362.8 95.1h.7M358.1 98.8h.7M356.7 103.3h.7M358.7 101.0h.7M358.1 90.0h.7M356.6 97.7h.7M366.6 94.7h.7M368.3 98.0h.7M360.1 95.4h.7M352.9 99.2h.7M362.6 91.8h.7M361.0 101.0h.7M355.8 107.3h.7M363.4 87.0h.7M364.1 94.2h.7M365.0 92.0h.7M364.9 99.7h.7M360.9 98.7h.7M364.5 93.4h.7M366.8 94.3h.7M361.8 88.7h.7M359.0 99.8h.7M369.8 95.6h.7M360.8 93.8h.7M353.9 94.3h.7M361.6 98.8h.7M358.9 92.2h.7M362.0 96.2h.7M362.6 101.9h.7M366.3 97.2h.7M360.6 93.0h.7M368.8 95.1h.7M357.2 94.2h.7M364.2 91.7h.7M357.7 99.3h.7M362.8 92.1h.7M364.6 98.2h.7M361.8 89.4h.7M368.9 98.0h.7M365.6 92.6h.7M360.3 90.6h.7M359.0 96.3h.7M370.2 89.1h.7M362.2 103.2h.7M363.5 87.6h.7M357.9 92.1h.7M361.4 86.6h.7M367.1 87.1h.7M362.9 104.5h.7M365.1 94.9h.7M363.5 90.5h.7M365.0 92.2h.7M364.8 94.7h.7M364.8 88.0h.7M358.4 101.9h.7M372.5 89.6h.7M363.1 98.0h.7M357.9 99.9h.7M356.2 101.4h.7M368.7 97.8h.7M362.4 99.7h.7M365.2 88.8h.7M357.3 91.9h.7M359.9 99.7h.7M353.9 101.5h.7M368.2 97.1h.7M353.6 104.8h.7M355.0 91.8h.7M359.7 100.5h.7M363.7 97.6h.7M362.6 98.4h.7M356.5 96.4h.7M357.9 91.8h.7M366.5 91.2h.7M356.7 96.7h.7M358.9 99.2h.7M362.8 99.1h.7M357.8 99.3h.7M355.6 99.4h.7M367.2 91.1h.7M365.6 92.7h.7M356.2 97.0h.7M358.8 100.2h.7M369.5 102.5h.7M370.5 92.6h.7M358.8 99.2h.7M363.9 104.7h.7M362.1 101.1h.7M358.8 102.0h.7M356.6 98.5h.7M363.2 95.6h.7M361.9 95.8h.7M358.8 98.2h.7M360.0 93.6h.7M364.8 94.4h.7M362.2 101.5h.7M356.0 92.7h.7M366.3 90.8h.7M368.8 92.2h.7M361.3 101.5h.7M366.0 96.7h.7M365.8 99.6h.7M365.1 91.9h.7M356.5 100.5h.7M360.4 93.0h.7M364.8 100.2h.7M362.9 100.2h.7M356.6 96.3h.7M365.5 92.3h.7M365.3 97.7h.7M365.8 87.4h.7M365.0 94.5h.7M366.7 99.9h.7M360.1 95.0h.7M359.8 88.9h.7M361.8 92.3h.7M361.9 92.8h.7M363.7 93.5h.7M360.7 99.5h.7M361.6 89.2h.7M356.8 99.2h.7M363.7 100.4h.7M369.3 91.9h.7M365.7 91.4h.7M357.7 100.9h.7M359.1 105.6h.7M365.8 97.9h.7M356.3 93.7h.7M362.6 97.7h.7M360.4 95.2h.7M362.2 95.0h.7M364.7 87.9h.7M353.7 102.6h.7M360.0 91.0h.7M363.1 97.0h.7M364.2 95.5h.7M356.3 94.5h.7M365.1 91.8h.7M360.4 104.2h.7M359.0 86.2h.7M372.4 87.9h.7M358.2 103.4h.7M366.2 97.9h.7M358.7 91.4h.7M360.7 95.2h.7M363.0 94.4h.7M361.7 90.8h.7M359.1 96.2h.7M360.1 90.0h.7M367.4 101.9h.7M357.7 104.2h.7M364.8 98.0h.7M363.0 96.3h.7M364.6 95.8h.7M357.4 99.3h.7M372.3 93.6h.7M357.0 96.1h.7M363.9 99.1h.7M364.5 91.3h.7M353.1 103.3h.7M358.5 104.2h.7M369.4 92.8h.7M365.7 95.3h.7M371.6 92.7h.7M365.2 88.2h.7M360.3 97.4h.7M353.1 102.2h.7M362.0 95.7h.7M371.4 87.2h.7M361.2 96.1h.7M357.9 93.2h.7M366.6 92.2h.7M363.7 94.7h.7M355.8 94.2h.7M362.3 98.1h.7M363.4 98.1h.7M358.6 97.6h.7M362.6 95.0h.7M366.0 98.9h.7M360.9 97.5h.7M360.9 99.3h.7M361.5 93.2h.7M355.8 95.9h.7M361.5 97.1h.7M360.1 97.1h.7M367.9 101.4h.7M371.8 98.0h.7M363.2 95.9h.7M370.5 90.5h.7M363.6 92.4h.7M361.9 99.5h.7M358.5 96.0h.7M364.5 94.0h.7M368.7 92.1h.7M363.5 88.9h.7M371.0 88.5h.7M368.1 86.1h.7M360.1 86.4h.7M370.6 92.5h.7M374.7 92.6h.7M361.2 91.1h.7M365.2 89.5h.7M366.1 88.8h.7M364.0 93.1h.7M367.0 88.3h.7M365.8 87.1h.7M366.5 90.2h.7M366.7 91.1h.7M362.3 89.4h.7M367.1 93.9h.7M363.8 89.9h.7M372.9 86.2h.7M365.4 88.9h.7M372.9 89.1h.7M371.5 94.1h.7M361.9 88.4h.7M371.8 89.6h.7M368.0 93.5h.7M371.2 95.7h.7M365.2 93.8h.7M372.2 91.0h.7M366.3 90.2h.7M368.0 93.1h.7M366.7 90.9h.7M370.6 88.3h.7M368.4 89.7h.7M364.2 84.8h.7M366.1 93.2h.7M365.2 90.1h.7M372.1 96.2h.7M364.3 89.5h.7M364.0 95.0h.7M366.4 88.5h.7M368.6 93.8h.7M371.4 89.6h.7M372.9 91.0h.7M368.2 93.4h.7M369.8 92.2h.7M372.5 95.4h.7M365.2 93.7h.7M369.1 98.4h.7M366.0 90.5h.7M367.9 90.4h.7M372.5 87.2h.7M370.5 92.8h.7M370.4 85.3h.7M366.5 86.5h.7M371.8 93.2h.7M366.1 90.8h.7M372.0 89.4h.7M369.4 87.8h.7M366.5 90.1h.7M369.6 83.8h.7M369.3 95.5h.7M365.9 87.8h.7M368.3 89.5h.7M368.5 92.0h.7M367.5 85.2h.7M371.2 94.0h.7M364.2 92.7h.7M366.0 94.4h.7M365.1 91.2h.7M367.7 92.4h.7M362.0 89.3h.7M370.9 93.6h.7M367.4 92.5h.7M368.9 90.3h.7M367.0 89.1h.7M369.4 94.0h.7M371.5 93.0h.7M366.2 92.2h.7M363.9 88.3h.7M369.9 88.1h.7M366.2 86.4h.7M367.1 90.7h.7M368.7 93.8h.7M369.5 90.0h.7M367.8 88.9h.7M365.6 91.1h.7M364.9 92.0h.7M369.7 93.6h.7M371.1 97.6h.7M366.8 91.8h.7M366.8 89.0h.7M364.7 86.1h.7M370.0 87.0h.7M364.7 85.9h.7M367.3 86.2h.7M369.8 85.3h.7M367.2 93.6h.7M367.9 83.0h.7M366.3 97.8h.7M366.5 85.8h.7M368.0 93.1h.7M369.6 95.1h.7M366.4 92.3h.7M373.7 92.2h.7M369.7 91.6h.7M367.0 91.0h.7M367.1 92.6h.7M368.5 86.4h.7M364.9 92.8h.7M373.8 87.4h.7M368.3 90.2h.7M362.2 91.8h.7M368.3 82.3h.7M370.7 84.1h.7M378.1 93.6h.7M371.8 87.4h.7M368.6 88.0h.7M367.1 91.9h.7M360.5 97.8h.7M365.2 88.3h.7M368.4 92.7h.7M366.5 92.9h.7M364.5 93.2h.7M366.2 94.6h.7M366.3 94.0h.7M362.9 94.6h.7M369.5 86.3h.7M366.6 88.2h.7M370.6 91.6h.7M373.4 91.8h.7M370.2 86.2h.7M369.2 91.7h.7M366.1 86.7h.7M378.0 93.4h.7M363.5 83.6h.7M372.6 86.7h.7M372.2 83.6h.7M370.8 91.6h.7M363.5 92.3h.7M370.5 91.3h.7M364.4 83.0h.7M362.2 95.8h.7M369.5 83.6h.7M370.7 92.2h.7M362.5 88.2h.7M367.9 88.9h.7M367.4 90.2h.7M368.2 91.5h.7M366.5 91.4h.7M364.9 89.3h.7M367.4 87.7h.7M369.4 89.5h.7M371.9 90.1h.7M362.5 94.1h.7M369.9 89.6h.7M370.0 93.3h.7M367.4 85.8h.7M370.0 93.0h.7M366.1 86.9h.7M371.1 90.7h.7M371.4 88.9h.7M369.8 92.5h.7M368.1 97.0h.7M369.4 90.4h.7M371.4 91.2h.7M363.7 97.0h.7M366.3 88.7h.7M372.1 91.3h.7M367.9 88.2h.7M366.5 87.8h.7M373.6 84.1h.7M373.2 93.2h.7M364.7 90.7h.7M361.5 94.0h.7M364.7 93.4h.7M367.4 90.9h.7M367.2 89.2h.7M368.1 90.1h.7M365.5 91.0h.7M364.1 88.2h.7M364.6 85.7h.7M369.3 89.4h.7M370.5 93.2h.7M369.7 87.6h.7M371.0 93.0h.7M368.2 91.8h.7M367.2 87.0h.7M368.0 89.0h.7M368.0 92.1h.7M368.1 86.9h.7M366.9 90.5h.7M366.1 93.2h.7M366.1 89.0h.7M370.3 88.6h.7M364.7 92.4h.7M368.0 91.6h.7M375.0 87.8h.7M371.5 87.4h.7M370.1 90.9h.7M368.1 91.3h.7M368.0 93.2h.7M368.6 96.7h.7M355.5 93.7h.7M368.3 91.7h.7M365.4 86.0h.7M367.5 87.4h.7M367.7 89.0h.7M364.5 87.0h.7M363.4 91.5h.7M365.5 93.1h.7M364.6 93.7h.7M368.1 87.5h.7M364.8 91.4h.7M372.6 92.7h.7M373.9 86.8h.7M370.0 89.9h.7M366.0 87.7h.7M369.0 94.1h.7M370.6 86.4h.7M367.0 98.4h.7M368.9 91.6h.7M364.3 86.1h.7M367.1 87.4h.7M366.1 89.4h.7M371.5 97.3h.7M368.5 82.6h.7M362.9 92.0h.7M367.6 93.8h.7M370.8 85.7h.7M369.1 88.9h.7M364.7 97.2h.7M371.2 85.2h.7M368.7 88.0h.7M366.9 89.5h.7M367.7 90.9h.7M366.8 92.4h.7M365.9 95.0h.7M362.1 87.4h.7M369.6 88.1h.7M368.2 93.9h.7M371.4 95.7h.7M366.5 86.0h.7M365.4 89.7h.7M370.2 95.5h.7M378.3 90.0h.7M370.2 91.1h.7M364.4 84.4h.7M375.3 93.2h.7M366.5 91.4h.7M365.7 91.3h.7M363.6 89.1h.7M367.7 83.2h.7M368.7 85.6h.7M363.7 85.7h.7M367.9 86.7h.7M373.0 83.5h.7M369.8 91.8h.7M363.9 90.1h.7M366.1 93.9h.7M370.6 92.6h.7M362.4 90.7h.7M366.8 89.6h.7M370.8 92.9h.7M366.9 88.2h.7M366.5 88.7h.7M369.5 96.6h.7M373.1 94.1h.7M367.3 90.7h.7M365.0 93.5h.7M371.2 91.0h.7M365.0 92.9h.7M369.6 87.6h.7M368.9 87.9h.7M366.9 89.0h.7M362.5 91.1h.7M367.9 89.4h.7M366.9 89.0h.7M370.0 88.4h.7M368.2 88.5h.7M371.3 87.8h.7M373.1 95.5h.7M366.3 85.6h.7M366.7 92.6h.7M361.8 89.1h.7M364.8 86.6h.7M371.7 89.6h.7M369.3 94.3h.7M364.0 88.7h.7M370.4 88.9h.7M369.2 93.6h.7M368.8 92.5h.7M370.6 93.1h.7M368.6 88.3h.7M371.4 86.8h.7M370.4 84.0h.7M364.1 84.6h.7M371.8 93.1h.7M367.8 92.5h.7M369.9 94.7h.7M369.5 90.8h.7M368.2 84.5h.7M370.1 89.6h.7M371.5 88.2h.7M369.5 89.3h.7M364.4 91.0h.7M365.1 87.4h.7M367.0 89.4h.7M372.4 86.5h.7M368.5 90.5h.7M367.0 85.0h.7M366.1 97.9h.7M364.1 89.7h.7M371.7 89.1h.7M367.1 93.9h.7M367.8 96.8h.7M367.7 92.0h.7M371.4 95.6h.7M365.2 92.0h.7M370.1 81.2h.7M367.2 92.1h.7M368.2 92.1h.7M369.1 85.4h.7M368.6 95.1h.7M368.4 79.9h.7M371.2 92.1h.7M364.6 89.5h.7M364.6 92.1h.7M366.2 94.5h.7M367.1 93.1h.7M359.6 112.0h.7M367.3 112.4h.7M365.9 121.5h.7M368.3 106.3h.7M370.5 103.6h.7M365.5 117.0h.7M363.4 106.0h.7M365.9 107.2h.7M364.2 112.8h.7M372.4 103.4h.7M359.9 102.9h.7M360.2 97.4h.7M361.4 113.2h.7M365.5 110.8h.7M364.6 112.9h.7M363.6 114.8h.7M368.0 107.5h.7M359.9 98.6h.7M365.9 99.0h.7M364.4 104.9h.7M369.7 101.4h.7M365.5 102.9h.7M362.4 109.0h.7M368.3 96.4h.7M370.2 121.0h.7M365.5 109.5h.7M361.4 103.3h.7M366.1 105.4h.7M369.8 100.1h.7M364.2 109.6h.7M364.8 104.3h.7M364.6 108.7h.7M358.4 123.5h.7M367.6 98.9h.7M361.9 98.4h.7M366.5 93.5h.7M373.4 102.3h.7M360.2 119.9h.7M365.0 109.3h.7M364.3 104.3h.7M372.1 92.8h.7M365.9 101.0h.7M363.8 105.6h.7M358.7 110.2h.7M365.7 109.8h.7M362.9 111.0h.7M363.4 111.2h.7M369.7 110.2h.7M360.1 106.5h.7M361.5 119.1h.7M365.7 97.4h.7M359.8 114.9h.7M361.6 108.8h.7M363.9 105.0h.7M363.5 106.1h.7M370.6 100.1h.7M366.8 109.2h.7M362.7 98.7h.7M361.9 109.9h.7M365.6 112.9h.7M366.3 106.8h.7M365.1 107.6h.7M365.2 110.5h.7M362.0 113.2h.7M370.6 105.4h.7M367.0 98.1h.7M365.4 96.4h.7M368.4 106.3h.7M368.7 113.6h.7M362.5 111.5h.7M370.3 120.9h.7M364.7 109.7h.7M362.8 110.3h.7M367.1 115.7h.7M364.5 106.4h.7M366.7 104.9h.7M372.1 91.2h.7M359.1 102.7h.7M367.4 106.2h.7M366.5 95.9h.7M367.1 109.7h.7M370.7 111.5h.7M362.9 101.1h.7M361.1 102.8h.7M364.7 114.4h.7M370.7 106.5h.7M367.1 104.9h.7M360.6 109.6h.7M362.5 95.3h.7M362.1 116.0h.7M361.0 115.1h.7M360.3 105.6h.7M366.8 103.4h.7M361.7 106.1h.7M370.8 110.4h.7M365.7 109.9h.7M369.1 114.9h.7M364.1 100.2h.7M361.6 106.5h.7M364.0 106.1h.7M362.9 122.7h.7M362.6 115.6h.7M362.1 100.8h.7M361.0 98.8h.7M359.4 100.5h.7M364.2 110.7h.7M358.9 109.0h.7M364.6 106.0h.7M357.6 109.3h.7M367.3 113.7h.7M364.0 114.3h.7M365.3 99.9h.7M366.8 112.6h.7M365.8 105.8h.7M364.2 110.5h.7M358.8 108.0h.7M360.6 102.6h.7M365.7 114.3h.7M365.0 99.9h.7M374.5 108.2h.7M355.7 105.4h.7M362.5 102.0h.7M368.7 120.2h.7M365.4 97.1h.7M368.0 106.7h.7M363.6 107.4h.7M361.0 107.3h.7M366.3 114.0h.7M372.0 101.9h.7M366.3 100.8h.7M365.4 113.7h.7M367.3 104.1h.7M371.3 112.0h.7M369.3 106.6h.7M369.7 105.1h.7M368.1 106.3h.7M365.0 95.7h.7M368.4 109.9h.7M362.9 106.5h.7M367.1 110.3h.7M357.8 115.9h.7M361.5 118.7h.7M369.0 107.0h.7M365.7 107.9h.7M363.6 116.1h.7M362.7 102.5h.7M364.2 95.5h.7M368.6 98.2h.7M370.3 112.4h.7M372.1 102.1h.7M364.0 103.1h.7M367.8 100.1h.7M363.9 90.6h.7M365.2 107.4h.7M372.0 100.5h.7M368.4 109.9h.7M368.1 98.7h.7M352.8 102.8h.7M368.4 107.2h.7M370.1 120.5h.7M362.6 103.3h.7M370.4 94.9h.7M356.2 107.9h.7M366.2 116.2h.7M367.6 105.8h.7M363.0 93.8h.7M366.9 102.0h.7M363.7 108.2h.7M357.8 105.5h.7M362.8 119.4h.7M364.6 113.6h.7M361.5 95.4h.7M368.2 103.7h.7M360.3 113.3h.7M366.8 94.5h.7M364.2 119.5h.7M365.4 96.9h.7M362.1 115.4h.7M370.4 110.7h.7M359.7 111.7h.7M362.1 102.6h.7M363.3 113.3h.7M366.8 110.0h.7M363.5 102.6h.7M368.9 101.9h.7M364.0 109.8h.7M364.4 112.7h.7M367.0 110.4h.7M373.2 102.4h.7M372.5 97.3h.7M362.2 89.1h.7M362.6 100.6h.7M367.6 114.6h.7M373.3 102.4h.7M368.8 104.8h.7M358.5 77.7h.7M363.8 92.8h.7M368.1 99.7h.7M367.4 101.5h.7M366.8 99.5h.7M366.5 118.4h.7M366.4 96.7h.7M362.2 107.0h.7M367.9 97.6h.7M361.8 95.0h.7M371.3 108.0h.7M366.2 103.0h.7M371.9 110.0h.7M364.7 114.4h.7M367.1 104.1h.7M363.7 106.1h.7M370.0 96.3h.7M359.1 110.7h.7M368.8 116.0h.7M367.1 95.7h.7M368.0 107.2h.7M361.4 95.0h.7M359.5 106.5h.7M360.4 108.5h.7M364.5 110.4h.7M368.1 99.7h.7M363.7 111.1h.7M362.7 113.0h.7M367.2 112.2h.7M362.9 111.4h.7M364.3 107.5h.7M367.3 102.2h.7M364.9 89.6h.7M362.6 110.3h.7M361.2 91.4h.7M359.9 104.0h.7M367.4 109.7h.7M360.0 108.8h.7M360.7 113.5h.7M366.4 101.6h.7M363.4 105.5h.7M363.0 114.1h.7M366.1 102.1h.7M366.6 96.5h.7M365.6 103.7h.7M363.0 105.6h.7M365.8 95.9h.7M367.8 101.9h.7M366.3 117.5h.7M361.2 117.5h.7M363.8 119.1h.7M362.1 113.2h.7M363.0 114.7h.7M368.2 108.3h.7M362.1 113.2h.7M366.3 98.5h.7M367.0 104.8h.7M364.6 99.2h.7M365.8 112.0h.7M362.1 111.6h.7M358.6 106.8h.7M366.0 99.4h.7M365.6 96.9h.7M371.6 108.7h.7M368.8 99.5h.7M357.1 105.4h.7M369.7 104.9h.7M369.1 108.8h.7M366.2 113.3h.7M363.0 103.1h.7M368.9 109.2h.7M363.1 98.5h.7M370.2 83.6h.7M368.2 105.0h.7M360.5 108.8h.7M366.7 121.8h.7M366.0 88.5h.7M361.8 111.3h.7M363.3 105.6h.7M364.7 115.9h.7M366.2 104.9h.7M362.8 113.0h.7M362.6 108.9h.7M366.5 111.2h.7M367.7 107.9h.7M371.8 111.4h.7M362.4 99.7h.7M362.6 115.2h.7M361.2 116.9h.7M366.5 101.9h.7M361.6 105.3h.7M367.6 105.5h.7M367.5 107.2h.7M369.7 102.6h.7M364.6 98.2h.7M363.9 99.1h.7M359.8 104.4h.7M367.3 90.4h.7M360.7 96.3h.7M366.3 109.9h.7M366.1 104.7h.7M362.4 107.3h.7M362.1 104.4h.7M366.4 104.2h.7M369.1 90.9h.7M359.6 112.9h.7M363.1 102.7h.7M363.1 105.6h.7M364.5 108.5h.7M368.2 118.8h.7M357.8 105.2h.7M362.0 107.5h.7M361.6 106.5h.7M366.0 105.7h.7M365.8 110.5h.7M361.4 105.7h.7M368.6 112.4h.7M368.3 100.2h.7M362.8 112.8h.7M365.0 108.0h.7M363.8 112.3h.7M365.6 99.1h.7M366.3 103.6h.7M364.1 109.9h.7M365.5 102.0h.7M361.1 102.9h.7M364.6 97.7h.7M362.9 122.1h.7M362.9 106.4h.7M360.8 103.7h.7M365.9 107.1h.7M359.3 106.2h.7M361.7 113.5h.7M364.7 116.9h.7M366.2 97.9h.7M368.2 102.6h.7M364.6 106.7h.7M360.6 114.1h.7M365.5 98.9h.7M360.4 109.2h.7M369.1 108.8h.7M366.1 103.1h.7M368.7 109.7h.7M362.3 101.8h.7M355.8 108.2h.7M384.9 99.2h.7M370.5 105.4h.7M366.8 115.2h.7M362.3 94.0h.7M377.1 106.5h.7M372.3 99.3h.7M367.8 101.0h.7M370.4 95.7h.7M373.9 112.4h.7M365.0 93.2h.7M368.7 117.5h.7M362.6 109.6h.7M364.2 94.7h.7M374.1 98.8h.7M367.8 105.0h.7M374.4 101.7h.7M376.8 95.2h.7M365.1 104.9h.7M371.7 87.7h.7M366.3 104.9h.7M367.1 112.8h.7M359.1 101.5h.7M363.3 88.7h.7M366.7 99.6h.7M365.7 95.6h.7M372.9 92.7h.7M364.5 90.1h.7M374.6 89.6h.7M377.7 93.5h.7M367.7 111.6h.7M362.0 109.4h.7M360.7 96.8h.7M371.2 102.5h.7M369.9 102.3h.7M376.9 88.7h.7M364.1 106.2h.7M359.7 95.2h.7M381.8 109.6h.7M370.9 100.7h.7M367.1 93.8h.7M363.1 93.1h.7M360.8 101.0h.7M370.4 93.4h.7M368.8 90.7h.7M370.1 97.8h.7M367.6 101.5h.7M375.4 101.6h.7M364.3 101.2h.7M370.2 103.9h.7M374.0 94.3h.7M361.3 104.5h.7M361.6 103.3h.7M383.4 108.9h.7M359.7 94.3h.7M370.2 98.1h.7M372.0 101.8h.7M369.9 104.0h.7M359.2 108.2h.7M360.0 93.9h.7M354.3 100.1h.7M370.3 97.5h.7M361.2 84.7h.7M371.2 92.0h.7M365.9 101.8h.7M367.6 103.0h.7M377.4 105.2h.7M362.3 99.8h.7M366.7 94.1h.7M371.7 97.4h.7M369.4 104.7h.7M379.9 95.8h.7M372.1 115.4h.7M377.1 102.3h.7M363.8 101.3h.7M364.5 97.2h.7M358.2 98.1h.7M356.6 107.1h.7M371.0 97.3h.7M368.2 101.0h.7M366.6 102.2h.7M367.0 103.4h.7M363.4 100.6h.7M377.6 94.4h.7M363.4 106.9h.7M369.8 101.3h.7M369.1 97.3h.7M365.0 103.8h.7M369.0 104.7h.7M370.6 116.0h.7M368.5 110.1h.7M368.9 116.2h.7M373.6 94.8h.7M377.1 96.2h.7M373.8 94.9h.7M370.1 101.3h.7M376.2 85.0h.7M357.1 107.2h.7M372.3 96.6h.7M368.6 87.9h.7M365.9 95.6h.7M373.1 102.0h.7M367.1 108.4h.7M364.3 105.6h.7M366.7 103.5h.7M366.4 110.2h.7M365.6 114.5h.7M372.6 94.4h.7M365.5 109.8h.7M376.5 91.7h.7M369.0 104.7h.7M381.7 105.0h.7M366.9 106.9h.7M368.5 94.2h.7M367.8 98.7h.7M366.8 100.9h.7M370.1 94.8h.7M371.9 89.2h.7M371.9 103.8h.7M370.5 89.8h.7M365.2 101.8h.7M370.7 105.6h.7M359.3 100.5h.7M374.3 92.1h.7M361.1 97.1h.7M366.5 98.5h.7M375.2 102.4h.7M357.1 106.0h.7M368.6 106.4h.7M367.9 110.2h.7M368.9 97.0h.7M361.2 107.0h.7M367.3 88.0h.7M372.9 109.6h.7M356.1 104.4h.7M371.8 112.6h.7M375.1 95.2h.7M370.7 105.7h.7M359.6 110.6h.7M370.9 106.4h.7M363.0 106.3h.7M367.8 98.3h.7M368.3 102.9h.7M359.3 100.5h.7M370.2 89.0h.7M377.8 118.6h.7M371.9 100.5h.7M362.1 92.6h.7M361.0 106.7h.7M363.0 101.8h.7" stroke="#000" stroke-width="0.7" fill="none"/>
<rect x="347.5" y="74.5" width="53.0" height="51.0" fill="none" stroke="#9c9c9c" stroke-width="0.8"/>
<path d="M362.5 125.5 L362.5 102.5 L400.5 102.5" fill="none" stroke="#444" stroke-width="0.85"/>
<line x1="347.3" y1="125.4" x2="347.3" y2="126.60000000000001" stroke="#777" stroke-width="0.6"/>
<line x1="360.6" y1="125.4" x2="360.6" y2="126.60000000000001" stroke="#777" stroke-width="0.6"/>
<line x1="373.8" y1="125.4" x2="373.8" y2="126.60000000000001" stroke="#777" stroke-width="0.6"/>
<line x1="387.1" y1="125.4" x2="387.1" y2="126.60000000000001" stroke="#777" stroke-width="0.6"/>
<line x1="400.3" y1="125.4" x2="400.3" y2="126.60000000000001" stroke="#777" stroke-width="0.6"/>
<text x="377.4" y="82.8" font-size="6.2" textLength="21.3" lengthAdjust="spacingAndGlyphs" fill="#3c3c3c" stroke="none">R2=13%</text>
<text x="387.4" y="118.4" font-size="4.3" text-anchor="end" font-weight="bold" textLength="5.2" lengthAdjust="spacingAndGlyphs" fill="#222" stroke="none">R2</text>
<path d="M430.9 101.2h.7M437.5 97.2h.7M435.4 99.1h.7M436.3 91.4h.7M431.1 95.4h.7M431.0 97.1h.7M432.8 99.4h.7M421.9 93.9h.7M433.9 100.0h.7M432.1 102.6h.7M439.9 92.6h.7M431.2 99.7h.7M431.6 92.0h.7M429.7 91.1h.7M427.4 100.9h.7M430.4 93.9h.7M433.4 101.1h.7M425.8 103.2h.7M433.8 91.2h.7M436.5 96.2h.7M430.0 98.6h.7M431.1 98.0h.7M429.2 96.3h.7M437.4 100.2h.7M432.7 102.0h.7M426.1 96.2h.7M434.0 96.9h.7M431.3 94.2h.7M431.3 101.4h.7M437.7 94.7h.7M428.3 89.9h.7M430.8 102.8h.7M437.1 91.1h.7M422.3 105.1h.7M425.5 99.7h.7M428.2 98.2h.7M428.5 101.8h.7M430.2 93.6h.7M428.5 107.1h.7M433.7 97.0h.7M428.2 107.6h.7M427.4 100.6h.7M431.2 95.1h.7M430.9 96.3h.7M421.0 99.0h.7M427.9 97.9h.7M435.5 101.2h.7M433.8 104.2h.7M429.7 99.1h.7M427.5 93.8h.7M430.5 97.4h.7M429.2 101.8h.7M432.2 96.1h.7M428.3 100.7h.7M426.6 97.4h.7M430.8 101.5h.7M429.8 98.1h.7M430.8 100.2h.7M431.9 100.4h.7M431.9 100.5h.7M428.7 96.6h.7M432.4 96.3h.7M431.7 102.8h.7M427.9 96.9h.7M432.2 102.5h.7M427.9 104.1h.7M432.4 95.6h.7M428.6 96.7h.7M421.8 100.1h.7M423.1 96.9h.7M430.4 100.5h.7M426.9 99.2h.7M427.8 99.2h.7M434.6 100.2h.7M434.0 97.5h.7M437.5 96.6h.7M433.8 98.3h.7M432.5 93.2h.7M427.8 100.2h.7M423.8 101.4h.7M430.3 99.6h.7M435.8 99.8h.7M422.3 104.0h.7M434.7 101.0h.7M429.3 100.5h.7M428.9 95.8h.7M433.5 100.0h.7M429.8 99.0h.7M434.9 94.9h.7M430.3 99.5h.7M433.4 98.0h.7M436.4 96.3h.7M423.8 96.4h.7M433.4 102.7h.7M430.4 96.7h.7M432.9 98.7h.7M433.6 91.6h.7M434.2 96.7h.7M435.9 98.9h.7M424.0 105.6h.7M431.6 94.7h.7M432.2 101.1h.7M426.7 103.9h.7M436.9 100.8h.7M426.7 98.3h.7M434.3 94.9h.7M428.2 90.0h.7M437.0 87.4h.7M425.5 103.2h.7M431.5 94.6h.7M423.4 104.6h.7M430.3 95.0h.7M430.5 96.1h.7M428.2 102.3h.7M431.0 98.1h.7M425.1 99.0h.7M428.9 97.0h.7M432.3 97.3h.7M429.8 98.1h.7M434.2 99.8h.7M428.4 103.1h.7M435.7 98.0h.7M429.2 99.8h.7M436.8 89.5h.7M433.7 95.3h.7M437.5 94.5h.7M433.1 94.3h.7M431.7 103.5h.7M425.2 99.6h.7M427.9 95.2h.7M431.3 93.2h.7M430.7 97.2h.7M422.8 103.5h.7M425.1 101.7h.7M421.2 102.0h.7M434.5 96.8h.7M437.9 99.7h.7M433.4 95.7h.7M431.5 100.0h.7M424.5 98.1h.7M433.8 102.7h.7M427.1 101.3h.7M429.4 101.6h.7M432.2 97.1h.7M434.0 95.2h.7M428.0 107.6h.7M431.0 99.1h.7M432.6 94.0h.7M427.9 97.0h.7M433.8 97.7h.7M429.5 94.0h.7M425.4 96.0h.7M424.5 99.2h.7M432.9 98.6h.7M425.1 103.9h.7M434.9 101.4h.7M431.7 91.9h.7M433.2 97.5h.7M430.9 95.2h.7M436.6 94.9h.7M425.7 94.5h.7M427.7 94.9h.7M428.0 105.8h.7M432.3 100.8h.7M436.4 97.4h.7M427.3 95.8h.7M430.5 98.7h.7M429.9 97.5h.7M429.1 93.7h.7M433.0 92.3h.7M429.9 95.3h.7M435.2 93.3h.7M426.8 99.1h.7M432.2 92.6h.7M425.1 99.6h.7M428.9 88.2h.7M438.2 101.9h.7M431.8 100.9h.7M427.3 93.2h.7M430.3 100.6h.7M426.1 99.8h.7M429.0 100.6h.7M440.5 92.4h.7M428.7 105.5h.7M429.1 97.5h.7M434.1 98.9h.7M432.3 98.4h.7M429.6 94.3h.7M435.4 98.5h.7M425.0 95.0h.7M428.9 99.9h.7M436.7 95.2h.7M417.4 103.9h.7M431.6 98.5h.7M424.5 100.6h.7M432.6 99.5h.7M436.8 100.5h.7M427.5 98.4h.7M430.0 100.4h.7M438.9 93.7h.7M430.0 95.1h.7M429.0 105.8h.7M433.0 102.0h.7M433.3 94.7h.7M430.4 94.9h.7M433.1 96.0h.7M436.0 99.5h.7M430.0 101.5h.7M431.7 95.5h.7M434.1 100.7h.7M433.2 100.2h.7M434.4 100.6h.7M429.9 97.4h.7M429.5 90.2h.7M431.5 103.4h.7M431.2 104.8h.7M436.3 92.8h.7M428.7 100.8h.7M437.4 100.6h.7M435.7 92.4h.7M433.4 94.5h.7M435.9 96.7h.7M436.4 94.3h.7M432.0 92.5h.7M428.0 101.6h.7M432.8 100.1h.7M438.8 90.7h.7M424.6 97.8h.7M430.5 102.6h.7M431.9 96.2h.7M433.3 95.9h.7M431.9 97.3h.7M427.1 103.4h.7M435.4 103.6h.7M430.3 96.0h.7M430.4 95.5h.7M430.2 97.0h.7M430.7 94.6h.7M429.9 97.0h.7M427.0 100.0h.7M434.9 98.2h.7M432.0 96.8h.7M434.2 94.8h.7M430.7 91.5h.7M425.1 98.7h.7M434.9 94.4h.7M430.9 93.8h.7M429.8 109.2h.7M440.4 98.8h.7M429.9 96.0h.7M431.6 96.6h.7M425.0 92.2h.7M428.1 91.2h.7M426.4 94.9h.7M436.6 89.5h.7M430.1 99.8h.7M430.2 99.3h.7M433.5 93.9h.7M432.8 96.2h.7M426.3 101.8h.7M428.5 103.3h.7M431.3 98.3h.7M433.5 93.1h.7M430.3 103.7h.7M434.5 97.3h.7M423.2 102.7h.7M426.3 98.4h.7M421.8 97.2h.7M429.9 99.9h.7M428.7 98.5h.7M433.6 101.3h.7M428.9 99.6h.7M441.8 91.1h.7M432.2 92.5h.7M426.1 99.1h.7M442.0 88.7h.7M435.7 93.0h.7M422.9 95.6h.7M433.4 100.3h.7M427.2 98.6h.7M425.4 98.5h.7M434.1 93.8h.7M427.9 102.0h.7M432.0 97.0h.7M439.7 93.6h.7M433.5 91.5h.7M432.9 101.5h.7M435.6 98.5h.7M424.7 100.6h.7M440.2 97.7h.7M437.8 96.6h.7M431.6 86.8h.7M432.7 99.8h.7M434.3 92.1h.7M436.6 97.4h.7M431.6 103.4h.7M437.7 97.1h.7M429.6 99.7h.7M433.7 102.4h.7M439.4 89.3h.7M439.9 94.0h.7M427.1 97.4h.7M437.8 94.8h.7M428.0 98.9h.7M429.3 98.3h.7M437.2 91.4h.7M424.6 90.1h.7M434.7 99.1h.7M438.3 90.9h.7M429.2 97.4h.7M426.0 100.8h.7M427.5 99.1h.7M433.0 99.4h.7M435.4 104.2h.7M433.3 98.4h.7M433.0 96.2h.7M435.2 95.7h.7M424.7 99.6h.7M434.4 89.6h.7M438.4 93.6h.7M434.2 100.5h.7M431.2 95.8h.7M421.1 101.5h.7M427.4 102.6h.7M429.9 94.9h.7M437.4 97.2h.7M440.6 92.9h.7M426.2 101.1h.7M435.7 98.2h.7M426.5 102.3h.7M434.5 97.1h.7M423.6 100.5h.7M430.2 97.4h.7M434.1 94.3h.7M419.9 96.4h.7M431.6 94.3h.7M432.8 100.9h.7M428.8 98.9h.7M423.1 98.0h.7M435.4 99.4h.7M428.0 98.8h.7M431.7 95.6h.7M430.7 96.4h.7M432.6 94.7h.7M426.8 95.1h.7M425.4 95.5h.7M432.2 100.8h.7M424.3 98.6h.7M428.7 100.9h.7M429.2 97.5h.7M426.7 99.3h.7M428.2 96.3h.7M437.7 95.5h.7M430.9 98.9h.7M441.5 93.6h.7M428.8 98.9h.7M436.5 96.0h.7M430.1 98.6h.7M425.9 99.6h.7M428.9 98.0h.7M436.7 94.3h.7M435.8 94.7h.7M426.9 104.8h.7M428.6 98.7h.7M437.9 98.7h.7M433.8 100.7h.7M430.1 100.7h.7M428.9 102.6h.7M429.8 100.9h.7M428.5 104.6h.7M437.3 92.8h.7M429.7 94.9h.7M427.8 94.2h.7M433.9 95.6h.7M435.8 94.7h.7M428.7 95.9h.7M433.4 95.7h.7M423.6 96.6h.7M434.8 94.9h.7M429.8 96.3h.7M428.8 98.9h.7M429.8 93.9h.7M442.7 93.9h.7M423.3 102.6h.7M434.6 93.0h.7M426.3 102.5h.7M428.5 99.2h.7M437.8 93.5h.7M435.2 92.1h.7M422.9 101.2h.7M430.6 100.4h.7M429.5 91.1h.7M425.7 99.2h.7M427.0 97.7h.7M429.9 98.9h.7M423.3 98.9h.7M429.3 103.2h.7M427.8 94.0h.7M434.6 98.9h.7M422.4 98.4h.7M432.9 96.6h.7M436.2 100.4h.7M435.4 98.7h.7M431.4 102.7h.7M428.7 100.3h.7M422.0 101.6h.7M432.7 93.1h.7M425.5 92.9h.7M427.4 94.9h.7M430.5 96.2h.7M427.6 98.4h.7M429.3 98.6h.7M431.8 101.4h.7M431.2 88.1h.7M436.2 93.6h.7M431.0 94.3h.7M434.4 97.6h.7M426.8 96.0h.7M433.9 97.5h.7M423.7 94.1h.7M427.1 101.5h.7M434.6 91.8h.7M426.9 96.1h.7M431.1 94.6h.7M438.9 95.0h.7M429.5 97.0h.7M434.5 94.0h.7M429.6 98.8h.7M437.7 98.8h.7M427.6 95.1h.7M427.0 99.4h.7M429.3 88.9h.7M434.3 97.0h.7M429.4 93.1h.7M430.6 95.9h.7M428.2 101.5h.7M436.4 94.9h.7M435.0 98.8h.7M430.5 96.3h.7M436.1 92.2h.7M430.4 99.2h.7M427.8 96.0h.7M435.5 94.8h.7M427.3 97.7h.7M434.8 98.3h.7M433.8 100.1h.7M433.6 101.8h.7M432.9 92.2h.7M431.2 98.6h.7M429.4 94.9h.7M432.9 96.2h.7M423.0 97.8h.7M431.0 101.0h.7M431.2 98.1h.7M434.6 94.6h.7M431.0 97.3h.7M433.7 93.5h.7M431.5 94.6h.7M433.3 100.2h.7M428.7 100.7h.7M431.8 97.9h.7M433.3 96.4h.7M436.1 101.1h.7M426.6 96.3h.7M434.7 96.7h.7M438.1 90.9h.7M433.1 94.2h.7M428.2 97.1h.7M426.3 97.0h.7M429.6 97.8h.7M432.7 99.5h.7M427.4 99.4h.7M429.0 101.8h.7M426.9 98.8h.7M429.8 102.3h.7M424.5 97.4h.7M429.0 97.5h.7M429.3 102.7h.7M425.5 93.2h.7M428.2 94.4h.7M427.7 97.8h.7M426.9 98.5h.7M430.6 100.1h.7M440.0 89.5h.7M431.2 101.6h.7M439.1 95.5h.7M433.3 103.3h.7M433.4 100.5h.7M427.0 95.5h.7M435.0 91.9h.7M427.3 100.4h.7M428.6 101.5h.7M431.1 96.7h.7M431.3 102.7h.7M438.4 97.2h.7M428.7 105.0h.7M434.3 101.8h.7M432.1 94.4h.7M423.5 99.7h.7M435.1 93.4h.7M435.5 90.1h.7M433.5 95.6h.7M426.3 101.9h.7M429.1 97.7h.7M421.3 99.8h.7M428.3 98.7h.7M431.2 104.9h.7M429.9 99.0h.7M431.9 101.7h.7M435.0 98.8h.7M425.4 101.6h.7M431.6 99.6h.7M428.7 99.5h.7M426.7 98.9h.7M431.7 95.3h.7M427.6 99.2h.7M433.1 97.8h.7M425.8 99.2h.7M424.9 97.6h.7M442.4 95.0h.7M433.4 95.1h.7M437.0 99.6h.7M437.1 96.5h.7M431.1 106.3h.7M435.5 98.0h.7M433.1 97.7h.7M426.7 94.0h.7M442.3 100.2h.7M434.1 98.2h.7M432.3 99.6h.7M430.4 97.7h.7M430.7 91.5h.7M435.9 93.1h.7M434.2 97.8h.7M440.1 98.2h.7M424.4 98.1h.7M429.0 92.8h.7M433.3 95.7h.7M429.4 101.7h.7M426.2 97.8h.7M432.4 99.9h.7M429.7 97.1h.7M431.2 96.1h.7M425.2 104.5h.7M434.7 99.4h.7M432.3 98.5h.7M422.2 98.0h.7M425.4 105.4h.7M430.4 102.8h.7M432.0 95.3h.7M429.3 95.7h.7M429.8 99.6h.7M432.8 94.7h.7M426.6 104.5h.7M427.8 102.2h.7M423.5 98.9h.7M424.2 104.2h.7M437.8 104.8h.7M438.5 93.4h.7M422.5 102.0h.7M432.5 98.0h.7M429.9 94.6h.7M432.8 103.4h.7M428.1 97.9h.7M425.2 98.9h.7M436.2 95.7h.7M428.3 97.9h.7M433.2 94.2h.7M427.2 98.7h.7M422.7 106.9h.7M428.9 101.6h.7M432.5 100.4h.7M432.8 105.5h.7M432.7 95.8h.7M428.7 91.4h.7M423.0 94.9h.7M433.4 104.1h.7M429.8 92.9h.7M425.4 102.4h.7M433.0 95.6h.7M437.0 94.8h.7M440.2 95.0h.7M434.7 85.6h.7M435.1 97.9h.7M437.7 95.7h.7M433.0 97.6h.7M432.6 98.7h.7M434.6 89.5h.7M426.7 94.9h.7M429.0 99.8h.7M432.2 98.3h.7M434.5 97.1h.7M429.3 98.2h.7M425.9 99.1h.7M431.1 98.9h.7M426.4 104.5h.7M428.0 93.7h.7M431.2 99.6h.7M430.5 96.4h.7M427.7 100.4h.7M432.0 98.1h.7M431.3 101.9h.7M423.6 102.1h.7M421.2 96.5h.7M432.9 99.5h.7M430.4 99.6h.7M432.0 101.2h.7M429.3 100.6h.7M429.5 92.7h.7M434.5 93.3h.7M425.2 98.7h.7M433.5 94.6h.7M432.3 93.3h.7M429.0 92.5h.7M431.7 101.9h.7M429.0 99.5h.7M426.3 106.5h.7M430.6 99.5h.7M427.6 95.9h.7M428.8 97.7h.7M426.4 99.8h.7M426.1 98.8h.7M418.0 102.0h.7M432.3 97.6h.7M430.5 99.4h.7M438.1 94.5h.7M431.1 97.2h.7M433.1 98.6h.7M425.4 108.7h.7M435.3 96.7h.7M428.2 98.9h.7M429.9 103.1h.7M425.4 95.1h.7M428.5 96.0h.7M431.7 97.7h.7M424.9 95.7h.7M427.3 95.1h.7M430.2 98.7h.7M429.4 99.1h.7M431.8 103.1h.7M422.0 99.2h.7M433.1 91.8h.7M432.8 95.7h.7M428.4 94.1h.7M428.8 98.4h.7M422.3 102.9h.7M425.3 92.9h.7M430.7 96.5h.7M426.6 104.4h.7M428.3 95.1h.7M427.6 100.7h.7M429.6 101.0h.7M426.1 101.5h.7M433.2 98.1h.7M425.9 97.3h.7M426.3 100.8h.7M427.0 110.1h.7M431.4 101.6h.7M431.4 102.0h.7M431.2 101.1h.7M434.9 96.2h.7M426.3 101.9h.7M430.7 96.6h.7M430.8 100.2h.7M423.4 104.2h.7M435.7 92.2h.7M434.6 93.7h.7M428.8 97.6h.7M429.2 95.9h.7M427.9 98.6h.7M426.9 99.9h.7M433.2 93.2h.7M430.1 95.4h.7M426.0 100.5h.7M431.0 101.1h.7M433.4 96.4h.7M430.2 102.9h.7M424.2 98.9h.7M434.0 97.2h.7M432.6 95.8h.7M435.2 99.1h.7M423.9 103.7h.7M432.6 92.8h.7M427.4 101.0h.7M432.9 96.3h.7M424.5 102.2h.7M429.5 97.1h.7M431.1 89.8h.7M429.9 96.0h.7M432.2 95.6h.7M437.4 94.2h.7M425.8 94.9h.7M429.4 98.3h.7M437.2 95.1h.7M429.8 95.0h.7M429.8 94.8h.7M425.8 102.3h.7M426.7 95.4h.7M436.8 98.3h.7M429.6 92.5h.7M425.7 97.3h.7M436.9 106.0h.7M433.8 95.4h.7M425.0 96.2h.7M428.0 100.0h.7M430.4 99.7h.7M430.7 93.6h.7M433.8 95.9h.7M436.5 93.6h.7M429.0 98.3h.7M436.1 96.2h.7M436.7 97.7h.7M435.5 103.0h.7M429.8 97.4h.7M433.0 92.1h.7M433.4 99.6h.7M424.1 95.0h.7M426.9 104.0h.7M438.8 89.6h.7M423.5 97.6h.7M437.8 96.0h.7M432.0 94.3h.7M432.0 94.3h.7M431.6 94.4h.7M425.0 99.6h.7M432.7 97.6h.7M429.9 101.4h.7M421.3 96.5h.7M432.6 95.9h.7M429.7 96.6h.7M433.0 97.1h.7M434.4 92.0h.7M425.5 100.4h.7M429.1 97.5h.7M422.9 103.8h.7M437.7 94.6h.7M436.3 96.3h.7M432.3 98.1h.7M435.6 96.3h.7M433.1 96.0h.7M428.3 100.4h.7M430.0 100.1h.7M424.8 107.5h.7M438.2 98.5h.7M430.5 94.0h.7M427.3 95.6h.7M432.3 96.7h.7M428.4 92.5h.7M421.4 95.5h.7M436.9 95.6h.7M430.3 96.6h.7M423.1 101.0h.7M427.7 96.5h.7M431.4 90.0h.7M432.6 99.3h.7M431.5 91.8h.7M422.0 107.9h.7M436.0 93.8h.7M430.2 99.1h.7M435.1 95.4h.7M429.7 99.0h.7M435.5 102.0h.7M429.4 95.2h.7M440.6 96.9h.7M435.1 91.6h.7M426.3 95.5h.7M432.4 101.4h.7M434.5 95.5h.7M432.5 98.3h.7M428.6 95.2h.7M430.7 103.6h.7M425.3 96.9h.7M432.5 95.3h.7M429.7 98.8h.7M427.7 93.6h.7M434.9 95.9h.7M438.9 95.6h.7M427.9 97.8h.7M424.5 93.5h.7M432.7 94.0h.7M435.0 95.6h.7M433.0 102.1h.7M430.0 104.4h.7M432.8 104.0h.7M434.6 93.4h.7M438.5 94.4h.7M431.6 95.7h.7M430.1 96.6h.7M430.8 100.4h.7M436.1 98.8h.7M435.6 94.4h.7M433.5 95.1h.7M434.2 97.8h.7M431.2 94.6h.7M429.0 104.8h.7M426.8 97.8h.7M431.9 95.6h.7M434.8 100.1h.7M425.0 101.5h.7M431.1 92.4h.7M436.2 99.6h.7M431.9 98.7h.7M431.4 100.8h.7M429.0 98.8h.7M427.2 97.3h.7M435.4 94.6h.7M432.0 91.2h.7M424.9 98.1h.7M440.4 96.0h.7M439.1 91.0h.7M434.0 97.0h.7M430.9 99.7h.7M431.7 98.8h.7M422.3 99.1h.7M429.8 104.3h.7M432.9 92.9h.7M432.1 94.8h.7M425.1 97.9h.7M442.9 90.6h.7M432.6 101.0h.7M430.4 94.0h.7M443.0 98.0h.7M432.8 93.4h.7M431.0 98.0h.7M430.9 107.1h.7M430.2 96.1h.7M429.4 97.3h.7M421.3 104.0h.7M436.0 95.3h.7M432.6 96.3h.7M425.1 103.3h.7M432.1 93.2h.7M425.6 98.7h.7M421.9 94.3h.7M428.5 97.0h.7M433.4 100.3h.7M425.0 95.7h.7M431.7 99.5h.7M438.2 96.5h.7M431.6 97.3h.7M425.3 103.5h.7M434.0 95.4h.7M430.5 99.3h.7M433.6 97.8h.7M430.2 92.6h.7M426.2 94.6h.7M438.2 102.3h.7M427.7 99.1h.7M430.9 95.1h.7M438.0 94.0h.7M443.1 98.2h.7M431.7 94.4h.7M435.8 93.6h.7M427.5 98.9h.7M434.2 92.7h.7M431.5 100.3h.7M431.3 100.5h.7M435.0 93.3h.7M424.5 97.3h.7M436.9 95.9h.7M430.7 96.3h.7M434.4 93.7h.7M442.2 91.8h.7M426.4 104.1h.7M432.0 96.9h.7M432.2 101.1h.7M431.5 102.7h.7M429.4 101.7h.7M426.6 103.6h.7M426.8 99.3h.7M432.7 93.7h.7M433.1 96.2h.7M437.5 96.7h.7M431.7 96.4h.7M429.7 103.3h.7M428.0 94.9h.7M424.8 94.6h.7M426.8 98.5h.7M433.4 99.3h.7M431.3 90.8h.7M430.0 100.2h.7M432.3 96.7h.7M428.9 101.3h.7M430.2 97.1h.7M430.1 97.2h.7M433.9 99.6h.7M430.2 95.7h.7M430.2 97.4h.7M434.1 98.3h.7M438.8 95.9h.7M422.9 99.4h.7M426.4 101.4h.7M440.9 93.1h.7M430.9 102.5h.7M432.1 93.9h.7M429.5 103.7h.7M430.6 90.3h.7M428.8 100.8h.7M425.6 100.8h.7M424.8 95.4h.7M428.0 97.4h.7M429.3 92.4h.7M431.3 96.0h.7M426.5 104.5h.7M429.8 99.7h.7M437.7 94.8h.7M434.9 95.8h.7M428.9 99.5h.7M425.4 102.6h.7M434.8 96.7h.7M426.3 96.1h.7M427.5 98.6h.7M428.2 106.0h.7M427.9 99.9h.7M429.2 99.0h.7M420.7 100.1h.7M430.7 97.5h.7M431.6 95.2h.7M434.4 96.1h.7M430.7 97.7h.7M435.0 94.9h.7M437.2 94.1h.7M431.8 97.0h.7M432.8 98.0h.7M429.6 101.1h.7M441.9 92.7h.7M430.0 95.2h.7M426.5 97.3h.7M430.8 95.2h.7M436.5 92.6h.7M425.9 97.4h.7M430.2 97.4h.7M433.4 93.5h.7M433.7 99.2h.7M427.0 93.8h.7M433.4 99.6h.7M432.4 96.6h.7M425.7 106.4h.7M428.2 95.0h.7M429.7 98.8h.7M429.6 95.2h.7M442.3 94.9h.7M435.8 96.8h.7M427.4 95.5h.7M427.5 103.4h.7M433.7 101.6h.7M423.9 106.5h.7M431.8 95.1h.7M433.3 93.7h.7M430.5 99.6h.7M431.9 97.9h.7M433.3 99.7h.7M424.3 94.5h.7M423.3 93.6h.7M437.5 91.2h.7M431.2 98.5h.7M426.9 98.2h.7M431.9 97.0h.7M433.6 95.0h.7M425.8 95.5h.7M424.5 102.4h.7M431.4 95.8h.7M431.4 87.7h.7M431.5 93.0h.7M429.1 97.8h.7M427.4 98.7h.7M435.7 103.1h.7M431.9 99.4h.7M432.6 93.1h.7M432.1 95.4h.7M433.4 93.9h.7M433.7 92.7h.7M430.3 100.9h.7M436.2 97.3h.7M440.3 95.4h.7M432.3 100.0h.7M428.8 101.7h.7M432.1 96.2h.7M429.6 102.1h.7M422.6 102.0h.7M424.6 100.1h.7M427.7 96.5h.7M428.8 99.8h.7M441.4 97.3h.7M429.4 97.0h.7M431.9 93.9h.7M426.4 103.7h.7M431.6 102.5h.7M429.8 93.0h.7M432.7 98.1h.7M428.9 93.9h.7M427.8 106.1h.7M418.1 102.0h.7M436.8 100.3h.7M433.3 95.9h.7M434.1 99.6h.7M430.7 102.2h.7M432.1 97.5h.7M433.0 97.3h.7M429.6 103.9h.7M428.4 98.1h.7M418.8 99.1h.7M432.9 96.0h.7M429.8 96.9h.7M432.2 94.4h.7M422.3 97.0h.7M428.1 100.4h.7M437.4 95.5h.7M426.0 95.8h.7M434.9 96.9h.7M431.6 99.3h.7M434.0 97.5h.7M433.6 90.4h.7M427.4 97.8h.7M430.0 105.1h.7M432.9 97.8h.7M433.6 95.0h.7M433.8 95.0h.7M434.7 97.2h.7M433.6 90.5h.7M425.9 97.9h.7M428.1 100.6h.7M434.1 94.3h.7M436.5 97.3h.7M429.5 100.7h.7M435.8 92.8h.7M423.0 104.4h.7M432.9 98.5h.7M432.8 96.2h.7M429.5 95.5h.7M441.1 96.8h.7M428.9 95.7h.7M435.1 100.7h.7M429.7 95.4h.7M435.0 96.0h.7M427.3 99.0h.7M429.7 94.3h.7M434.0 100.2h.7M437.0 98.3h.7M433.7 95.5h.7M435.3 99.3h.7M431.9 98.8h.7M428.4 99.1h.7M427.2 96.0h.7M436.0 102.4h.7M423.4 100.5h.7M430.5 95.2h.7M432.9 99.4h.7M424.3 101.3h.7M438.7 94.0h.7M441.4 91.4h.7M438.9 90.4h.7M433.4 93.5h.7M436.5 96.3h.7M438.4 92.5h.7M434.3 95.1h.7M434.9 93.2h.7M434.0 99.7h.7M441.9 99.8h.7M443.5 89.8h.7M441.7 89.3h.7M443.6 89.4h.7M431.6 96.1h.7M440.8 96.5h.7M441.3 96.4h.7M434.9 89.5h.7M435.7 91.1h.7M435.8 87.1h.7M432.4 92.1h.7M438.1 95.8h.7M433.9 90.8h.7M434.9 93.8h.7M439.6 92.1h.7M436.3 84.6h.7M444.0 96.3h.7M438.7 100.8h.7M433.7 98.0h.7M432.3 93.9h.7M438.1 93.3h.7M437.0 92.6h.7M429.5 92.2h.7M432.9 92.3h.7M433.0 90.0h.7M436.8 94.9h.7M436.9 97.5h.7M438.2 95.5h.7M434.4 95.3h.7M430.2 90.9h.7M431.3 95.0h.7M439.9 98.3h.7M436.8 92.1h.7M439.4 92.3h.7M436.7 93.8h.7M441.2 96.0h.7M432.9 95.8h.7M435.3 94.2h.7M442.4 89.5h.7M431.2 99.1h.7M434.0 91.9h.7M445.0 95.2h.7M439.5 92.6h.7M436.5 98.1h.7M436.1 94.4h.7M436.2 94.1h.7M429.6 93.4h.7M430.2 90.0h.7M432.7 93.9h.7M435.9 93.6h.7M436.7 96.7h.7M430.3 95.2h.7M434.7 91.7h.7M439.9 91.2h.7M440.1 93.3h.7M437.1 96.3h.7M431.0 92.6h.7M432.2 88.2h.7M435.1 93.6h.7M430.5 93.4h.7M436.2 101.2h.7M440.6 93.2h.7M438.8 96.4h.7M438.4 96.4h.7M441.6 97.4h.7M438.5 90.6h.7M439.6 95.4h.7M441.2 97.9h.7M436.7 92.0h.7M440.3 95.0h.7M437.1 94.8h.7M437.2 93.9h.7M436.9 92.0h.7M438.9 93.3h.7M441.4 91.7h.7M435.1 90.3h.7M442.1 89.7h.7M434.8 93.5h.7M436.3 93.2h.7M440.3 89.9h.7M435.3 92.7h.7M435.9 88.6h.7M438.6 91.1h.7M434.7 99.1h.7M433.9 97.1h.7M435.6 91.8h.7M431.1 94.1h.7M438.4 92.2h.7M436.2 96.7h.7M436.7 93.6h.7M432.3 91.3h.7M435.6 94.8h.7M435.8 94.8h.7M435.5 93.2h.7M436.8 94.4h.7M430.5 96.6h.7M435.3 92.7h.7M440.6 94.9h.7M440.4 93.6h.7M437.8 93.1h.7M437.6 90.8h.7M436.5 94.4h.7M434.4 90.6h.7M435.6 92.6h.7M435.6 95.9h.7M439.4 92.1h.7M433.2 94.7h.7M434.5 91.1h.7M435.0 94.7h.7M435.5 95.4h.7M433.9 96.9h.7M434.7 94.7h.7M435.8 92.2h.7M436.8 87.6h.7M437.8 94.7h.7M435.7 93.6h.7M433.3 95.0h.7M436.1 91.7h.7M436.0 92.5h.7M433.6 94.7h.7M435.5 96.7h.7M436.2 97.9h.7M436.3 93.4h.7M435.0 95.5h.7M431.6 91.1h.7M434.8 87.7h.7M438.7 90.5h.7M440.9 91.7h.7M438.8 87.5h.7M435.6 94.7h.7M435.0 94.4h.7M436.8 95.2h.7M437.3 86.1h.7M436.5 89.7h.7M438.8 87.5h.7M434.8 95.9h.7M436.8 95.3h.7M436.4 91.0h.7M433.6 98.6h.7M435.7 93.5h.7M435.2 93.2h.7M434.5 94.6h.7M435.4 90.0h.7M432.9 97.0h.7M438.0 90.8h.7M435.3 92.4h.7M437.3 92.6h.7M433.9 92.4h.7M438.0 93.6h.7M435.8 95.0h.7M427.6 96.8h.7M434.2 88.2h.7M435.1 94.8h.7M440.2 92.5h.7M434.3 97.3h.7M436.7 95.8h.7M430.5 91.5h.7M432.9 97.1h.7M439.9 92.3h.7M436.7 92.9h.7M435.6 90.6h.7M440.7 93.5h.7M438.8 91.8h.7M439.9 94.5h.7M444.5 92.3h.7M433.3 92.6h.7M439.4 93.3h.7M437.9 92.7h.7M434.4 94.9h.7M432.9 96.2h.7M443.4 91.8h.7M433.0 92.6h.7M443.7 91.4h.7M435.8 95.5h.7M434.1 91.3h.7M437.4 94.4h.7M438.2 88.5h.7M440.0 90.7h.7M432.4 98.7h.7M439.8 93.2h.7M437.4 90.0h.7M435.6 88.7h.7M438.0 100.4h.7M441.3 91.9h.7M437.9 92.9h.7M438.4 93.0h.7M433.4 93.9h.7M430.1 94.1h.7M436.4 94.5h.7M440.3 86.2h.7M441.5 89.3h.7M430.7 106.2h.7M438.7 100.4h.7M430.8 109.9h.7M434.9 109.0h.7M432.3 112.5h.7M429.0 115.9h.7M430.5 108.9h.7M429.1 103.1h.7M435.0 110.1h.7M431.4 111.4h.7M441.8 92.4h.7M425.7 107.8h.7M426.7 112.7h.7M429.4 106.7h.7M429.4 118.8h.7M436.7 96.8h.7M434.0 104.9h.7M436.5 108.7h.7M429.7 104.2h.7M432.1 116.7h.7M432.3 103.7h.7M430.8 111.7h.7M431.0 117.0h.7M434.7 107.6h.7M432.3 104.8h.7M424.7 113.6h.7M436.6 105.5h.7M432.8 98.8h.7M431.4 107.8h.7M431.7 107.0h.7M435.0 110.9h.7M434.4 103.4h.7M430.4 106.8h.7M427.1 98.3h.7M433.0 106.8h.7M432.2 113.7h.7M425.4 109.1h.7M431.3 99.1h.7M434.0 115.0h.7M427.4 107.0h.7M435.0 107.0h.7M430.6 112.5h.7M426.7 106.5h.7M430.0 106.3h.7M428.1 107.8h.7M435.8 109.4h.7M428.0 103.7h.7M429.7 98.0h.7M434.2 109.7h.7M431.4 115.4h.7M434.2 103.3h.7M432.1 106.0h.7M432.0 114.5h.7M435.9 101.1h.7M438.0 97.4h.7M431.2 121.0h.7M434.1 113.7h.7M432.4 109.8h.7M430.0 115.4h.7M431.4 103.7h.7M427.4 119.6h.7M427.4 100.8h.7M433.5 107.0h.7M437.3 110.5h.7M433.0 102.2h.7M433.7 98.4h.7M429.7 114.9h.7M432.8 100.0h.7M430.0 106.0h.7M433.0 108.0h.7M434.5 89.4h.7M434.2 95.8h.7M430.6 107.6h.7M435.2 103.2h.7M427.9 102.0h.7M432.8 120.9h.7M428.2 103.8h.7M429.8 113.5h.7M433.7 105.9h.7M432.9 116.1h.7M431.1 100.2h.7M432.1 99.6h.7M432.7 112.0h.7M430.9 112.3h.7M435.7 117.7h.7M430.9 110.3h.7M434.5 111.6h.7M434.9 109.7h.7M434.2 112.3h.7M433.5 110.3h.7M432.9 106.5h.7M426.4 106.5h.7M432.1 103.7h.7M430.7 114.3h.7M431.2 93.7h.7M430.4 106.2h.7M435.8 108.7h.7M433.6 103.7h.7M430.3 97.6h.7M434.0 107.1h.7M429.9 107.3h.7M435.4 112.4h.7M434.5 113.7h.7M432.8 107.0h.7M432.0 109.8h.7M426.8 108.6h.7M432.1 101.8h.7M430.3 113.7h.7M430.8 106.4h.7M436.6 101.3h.7M431.9 104.5h.7M430.5 105.9h.7M433.7 105.4h.7M434.9 111.3h.7M428.8 107.3h.7M431.5 99.4h.7M426.6 112.8h.7M432.9 114.1h.7M436.8 111.5h.7M433.2 114.4h.7M431.6 104.6h.7M435.0 110.7h.7M430.5 104.5h.7M428.2 119.2h.7M430.9 104.1h.7M430.2 103.9h.7M432.4 107.2h.7M434.4 92.4h.7M432.4 116.7h.7M432.2 103.5h.7M438.1 103.9h.7M434.1 108.3h.7M431.6 101.1h.7M432.5 108.1h.7M437.6 98.1h.7M427.3 110.2h.7M427.5 90.4h.7M431.0 113.6h.7M426.5 98.2h.7M436.5 101.8h.7M429.3 105.9h.7M436.9 105.8h.7M434.4 105.9h.7M428.8 108.4h.7M426.5 112.9h.7M427.1 107.7h.7M425.5 106.3h.7M433.3 102.6h.7M437.9 106.9h.7M433.3 98.3h.7M430.5 108.2h.7M434.3 110.3h.7M427.8 98.2h.7M428.6 113.4h.7M426.7 99.7h.7M432.4 106.6h.7M431.8 102.0h.7M433.0 106.2h.7M431.4 108.2h.7M431.3 105.8h.7M435.4 111.0h.7M432.2 107.7h.7M436.1 99.1h.7M426.2 107.0h.7M426.8 100.6h.7M432.7 108.0h.7M430.9 102.4h.7M427.5 102.7h.7M429.5 106.7h.7M434.8 105.1h.7M429.1 102.3h.7M443.3 101.7h.7M433.2 97.6h.7M434.0 93.7h.7M441.5 98.0h.7M447.6 106.9h.7M433.0 114.8h.7M433.1 95.3h.7M425.2 99.9h.7M438.3 97.7h.7M435.3 102.6h.7M431.2 99.5h.7M434.4 108.6h.7M440.0 99.3h.7M429.8 99.0h.7M431.1 97.8h.7M438.1 104.5h.7M442.1 96.5h.7M437.1 99.7h.7M441.0 112.6h.7M442.1 105.1h.7M437.4 102.9h.7M424.0 101.8h.7M435.1 99.6h.7M440.3 118.1h.7M437.6 92.9h.7M433.7 104.7h.7M440.2 101.0h.7M439.3 95.3h.7M445.0 87.9h.7M433.9 95.5h.7M433.2 101.2h.7M436.7 105.5h.7M447.4 102.9h.7M430.4 100.0h.7M431.3 95.3h.7M433.6 105.4h.7M431.2 101.8h.7M431.5 105.0h.7M442.9 91.6h.7M440.4 94.9h.7M438.0 99.4h.7M441.1 92.6h.7M447.4 101.9h.7M432.1 107.2h.7M444.2 103.0h.7M433.0 95.3h.7M430.6 109.2h.7M436.3 99.8h.7M433.8 107.0h.7M433.8 104.9h.7M425.3 95.4h.7M438.0 94.4h.7M447.5 88.1h.7M438.3 103.0h.7M438.7 99.6h.7M435.4 120.4h.7M437.6 96.4h.7M419.8 110.7h.7M435.9 110.4h.7M435.9 106.3h.7M444.2 96.7h.7M422.2 106.8h.7M447.5 91.3h.7M433.0 99.5h.7M434.4 103.5h.7M435.3 103.4h.7M431.1 90.8h.7M446.9 101.5h.7M438.4 93.3h.7M438.7 99.7h.7M438.9 100.7h.7M442.3 108.1h.7M433.9 97.8h.7M440.4 91.6h.7M431.8 97.9h.7M423.4 111.1h.7M434.4 98.7h.7M428.9 103.1h.7M433.3 93.1h.7M438.0 108.8h.7M427.1 99.8h.7M449.0 98.8h.7M431.8 109.2h.7M437.4 105.4h.7M445.9 103.7h.7M438.0 111.1h.7M427.0 93.4h.7M434.7 96.4h.7M435.0 89.1h.7M426.3 104.1h.7M434.8 102.4h.7M433.7 99.9h.7M426.9 110.2h.7M442.3 92.2h.7M433.3 102.1h.7M433.5 99.7h.7M437.3 89.3h.7M440.5 102.7h.7M430.2 98.9h.7M435.4 98.5h.7M436.3 91.2h.7M436.4 102.4h.7M438.3 102.6h.7M432.6 100.8h.7M441.8 100.4h.7M437.3 100.4h.7M439.2 92.6h.7M435.7 104.9h.7M430.6 103.3h.7M433.3 97.5h.7M429.3 94.7h.7M443.0 91.6h.7M436.8 92.1h.7M448.1 104.1h.7M431.2 93.4h.7M434.3 102.0h.7M446.0 108.4h.7M430.1 101.4h.7M441.5 95.9h.7" stroke="#000" stroke-width="0.7" fill="none"/>
<rect x="415.5" y="74.5" width="54.0" height="51.0" fill="none" stroke="#9c9c9c" stroke-width="0.8"/>
<path d="M431.5 125.5 L431.5 102.5 L469.5 102.5" fill="none" stroke="#444" stroke-width="0.85"/>
<line x1="415.3" y1="125.4" x2="415.3" y2="126.60000000000001" stroke="#777" stroke-width="0.6"/>
<line x1="428.7" y1="125.4" x2="428.7" y2="126.60000000000001" stroke="#777" stroke-width="0.6"/>
<line x1="442.1" y1="125.4" x2="442.1" y2="126.60000000000001" stroke="#777" stroke-width="0.6"/>
<line x1="455.6" y1="125.4" x2="455.6" y2="126.60000000000001" stroke="#777" stroke-width="0.6"/>
<line x1="469.0" y1="125.4" x2="469.0" y2="126.60000000000001" stroke="#777" stroke-width="0.6"/>
<text x="445.4" y="82.8" font-size="6.2" textLength="18.2" lengthAdjust="spacingAndGlyphs" fill="#3c3c3c" stroke="none">R2=7%</text>
<text x="456.1" y="118.4" font-size="4.3" text-anchor="end" font-weight="bold" textLength="5.2" lengthAdjust="spacingAndGlyphs" fill="#222" stroke="none">R2</text>
<text x="3.9" y="190.2" font-size="13.6" font-weight="bold" textLength="8.6" lengthAdjust="spacingAndGlyphs" stroke-width="0.55">C</text>
<line x1="44.5" y1="254.5" x2="44.5" y2="265.5" stroke="#5a5a5a" stroke-width="0.8"/>
<line x1="43.5" y1="254.5" x2="45.5" y2="254.5" stroke="#5a5a5a" stroke-width="0.8"/>
<rect x="40" y="265.5" width="9.5" height="31.7" fill="#fff" stroke="#1a1a1a" stroke-width="0.6"/>
<line x1="54.5" y1="196.5" x2="54.5" y2="214" stroke="#5a5a5a" stroke-width="0.8"/>
<line x1="53.5" y1="196.5" x2="55.5" y2="196.5" stroke="#5a5a5a" stroke-width="0.8"/>
<clipPath id="c6"><rect x="49.5" y="214" width="10.5" height="83.2"/></clipPath>
<rect x="49.5" y="214" width="10.5" height="83.2" fill="#fff"/>
<path clip-path="url(#c6)" d="M49.5 213.1L60.0 202.6M49.5 215.7L60.0 205.2M49.5 218.3L60.0 207.8M49.5 220.9L60.0 210.4M49.5 223.5L60.0 213.0M49.5 226.1L60.0 215.6M49.5 228.7L60.0 218.2M49.5 231.3L60.0 220.8M49.5 233.9L60.0 223.4M49.5 236.5L60.0 226.0M49.5 239.1L60.0 228.6M49.5 241.7L60.0 231.2M49.5 244.3L60.0 233.8M49.5 246.9L60.0 236.4M49.5 249.5L60.0 239.0M49.5 252.1L60.0 241.6M49.5 254.7L60.0 244.2M49.5 257.3L60.0 246.8M49.5 259.9L60.0 249.4M49.5 262.5L60.0 252.0M49.5 265.1L60.0 254.6M49.5 267.7L60.0 257.2M49.5 270.3L60.0 259.8M49.5 272.9L60.0 262.4M49.5 275.5L60.0 265.0M49.5 278.1L60.0 267.6M49.5 280.7L60.0 270.2M49.5 283.3L60.0 272.8M49.5 285.9L60.0 275.4M49.5 288.5L60.0 278.0M49.5 291.1L60.0 280.6M49.5 293.7L60.0 283.2M49.5 296.3L60.0 285.8M49.5 298.9L60.0 288.4M49.5 301.5L60.0 291.0M49.5 304.1L60.0 293.6M49.5 306.7L60.0 296.2M49.5 309.3L60.0 298.8" stroke="#000" stroke-width="1.0" fill="none"/>
<rect x="49.5" y="214" width="10.5" height="83.2" fill="none" stroke="#222" stroke-width="0.6"/>
<line x1="64.5" y1="216.5" x2="64.5" y2="230" stroke="#5a5a5a" stroke-width="0.8"/>
<line x1="63.5" y1="216.5" x2="65.5" y2="216.5" stroke="#5a5a5a" stroke-width="0.8"/>
<rect x="60" y="230" width="9.5" height="67.2" fill="#000"/>
<line x1="88.5" y1="254.5" x2="88.5" y2="265.5" stroke="#5a5a5a" stroke-width="0.8"/>
<line x1="87.5" y1="254.5" x2="89.5" y2="254.5" stroke="#5a5a5a" stroke-width="0.8"/>
<rect x="83.5" y="265.5" width="9.5" height="31.7" fill="#fff" stroke="#1a1a1a" stroke-width="0.6"/>
<line x1="98.5" y1="192.5" x2="98.5" y2="214" stroke="#5a5a5a" stroke-width="0.8"/>
<line x1="97.5" y1="192.5" x2="99.5" y2="192.5" stroke="#5a5a5a" stroke-width="0.8"/>
<clipPath id="c7"><rect x="93.4" y="214" width="10.3" height="83.2"/></clipPath>
<rect x="93.4" y="214" width="10.3" height="83.2" fill="#fff"/>
<path clip-path="url(#c7)" d="M93.4 213.4L103.7 203.1M93.4 216.0L103.7 205.7M93.4 218.6L103.7 208.3M93.4 221.2L103.7 210.9M93.4 223.8L103.7 213.5M93.4 226.4L103.7 216.1M93.4 229.0L103.7 218.7M93.4 231.6L103.7 221.3M93.4 234.2L103.7 223.9M93.4 236.8L103.7 226.5M93.4 239.4L103.7 229.1M93.4 242.0L103.7 231.7M93.4 244.6L103.7 234.3M93.4 247.2L103.7 236.9M93.4 249.8L103.7 239.5M93.4 252.4L103.7 242.1M93.4 255.0L103.7 244.7M93.4 257.6L103.7 247.3M93.4 260.2L103.7 249.9M93.4 262.8L103.7 252.5M93.4 265.4L103.7 255.1M93.4 268.0L103.7 257.7M93.4 270.6L103.7 260.3M93.4 273.2L103.7 262.9M93.4 275.8L103.7 265.5M93.4 278.4L103.7 268.1M93.4 281.0L103.7 270.7M93.4 283.6L103.7 273.3M93.4 286.2L103.7 275.9M93.4 288.8L103.7 278.5M93.4 291.4L103.7 281.1M93.4 294.0L103.7 283.7M93.4 296.6L103.7 286.3M93.4 299.2L103.7 288.9M93.4 301.8L103.7 291.5M93.4 304.4L103.7 294.1M93.4 307.0L103.7 296.7M93.4 309.6L103.7 299.3" stroke="#000" stroke-width="1.0" fill="none"/>
<rect x="93.4" y="214" width="10.3" height="83.2" fill="none" stroke="#222" stroke-width="0.6"/>
<line x1="108.5" y1="224.5" x2="108.5" y2="236.5" stroke="#5a5a5a" stroke-width="0.8"/>
<line x1="107.5" y1="224.5" x2="109.5" y2="224.5" stroke="#5a5a5a" stroke-width="0.8"/>
<rect x="103.5" y="236.5" width="9.5" height="60.7" fill="#000"/>
<line x1="132.5" y1="244.5" x2="132.5" y2="258" stroke="#5a5a5a" stroke-width="0.8"/>
<line x1="131.5" y1="244.5" x2="133.5" y2="244.5" stroke="#5a5a5a" stroke-width="0.8"/>
<rect x="127" y="258" width="10" height="39.2" fill="#fff" stroke="#1a1a1a" stroke-width="0.6"/>
<line x1="142.5" y1="205.5" x2="142.5" y2="226" stroke="#5a5a5a" stroke-width="0.8"/>
<line x1="141.5" y1="205.5" x2="143.5" y2="205.5" stroke="#5a5a5a" stroke-width="0.8"/>
<clipPath id="c8"><rect x="137" y="226" width="10" height="71.2"/></clipPath>
<rect x="137" y="226" width="10" height="71.2" fill="#fff"/>
<path clip-path="url(#c8)" d="M137 224.4L147 214.4M137 227.0L147 217.0M137 229.6L147 219.6M137 232.2L147 222.2M137 234.8L147 224.8M137 237.4L147 227.4M137 240.0L147 230.0M137 242.6L147 232.6M137 245.2L147 235.2M137 247.8L147 237.8M137 250.4L147 240.4M137 253.0L147 243.0M137 255.6L147 245.6M137 258.2L147 248.2M137 260.8L147 250.8M137 263.4L147 253.4M137 266.0L147 256.0M137 268.6L147 258.6M137 271.2L147 261.2M137 273.8L147 263.8M137 276.4L147 266.4M137 279.0L147 269.0M137 281.6L147 271.6M137 284.2L147 274.2M137 286.8L147 276.8M137 289.4L147 279.4M137 292.0L147 282.0M137 294.6L147 284.6M137 297.2L147 287.2M137 299.8L147 289.8M137 302.4L147 292.4M137 305.0L147 295.0M137 307.6L147 297.6" stroke="#000" stroke-width="1.0" fill="none"/>
<rect x="137" y="226" width="10" height="71.2" fill="none" stroke="#222" stroke-width="0.6"/>
<line x1="151.5" y1="236.5" x2="151.5" y2="248.5" stroke="#5a5a5a" stroke-width="0.8"/>
<line x1="150.5" y1="236.5" x2="152.5" y2="236.5" stroke="#5a5a5a" stroke-width="0.8"/>
<rect x="147" y="248.5" width="9.5" height="48.7" fill="#000"/>
<line x1="32.2" y1="183.0" x2="32.2" y2="297.59999999999997" stroke="#8c8c8c" stroke-width="0.8"/>
<line x1="31.800000000000004" y1="297.2" x2="164.6" y2="297.2" stroke="#4a4a4a" stroke-width="0.85"/>
<line x1="30.200000000000003" y1="183.0" x2="32.2" y2="183.0" stroke="#8c8c8c" stroke-width="0.8"/>
<text x="29.0" y="185.96" font-size="7.4" text-anchor="end" textLength="9.6" lengthAdjust="spacingAndGlyphs">100</text>
<line x1="30.200000000000003" y1="205.84" x2="32.2" y2="205.84" stroke="#8c8c8c" stroke-width="0.8"/>
<text x="29.0" y="208.8" font-size="7.4" text-anchor="end" textLength="6.4" lengthAdjust="spacingAndGlyphs">80</text>
<line x1="30.200000000000003" y1="228.68" x2="32.2" y2="228.68" stroke="#8c8c8c" stroke-width="0.8"/>
<text x="29.0" y="231.64" font-size="7.4" text-anchor="end" textLength="6.4" lengthAdjust="spacingAndGlyphs">60</text>
<line x1="30.200000000000003" y1="251.51999999999998" x2="32.2" y2="251.51999999999998" stroke="#8c8c8c" stroke-width="0.8"/>
<text x="29.0" y="254.48" font-size="7.4" text-anchor="end" textLength="6.4" lengthAdjust="spacingAndGlyphs">40</text>
<line x1="30.200000000000003" y1="274.36" x2="32.2" y2="274.36" stroke="#8c8c8c" stroke-width="0.8"/>
<text x="29.0" y="277.32" font-size="7.4" text-anchor="end" textLength="6.4" lengthAdjust="spacingAndGlyphs">20</text>
<line x1="30.200000000000003" y1="297.2" x2="32.2" y2="297.2" stroke="#8c8c8c" stroke-width="0.8"/>
<text x="29.0" y="300.16" font-size="7.4" text-anchor="end" textLength="3.2" lengthAdjust="spacingAndGlyphs">0</text>
<line x1="32.2" y1="297.2" x2="32.2" y2="299.2" stroke="#4a4a4a" stroke-width="0.8"/>
<line x1="76" y1="297.2" x2="76" y2="299.2" stroke="#4a4a4a" stroke-width="0.8"/>
<line x1="119.8" y1="297.2" x2="119.8" y2="299.2" stroke="#4a4a4a" stroke-width="0.8"/>
<line x1="164.2" y1="297.2" x2="164.2" y2="299.2" stroke="#4a4a4a" stroke-width="0.8"/>
<text x="15.9" y="234.4" font-size="6.8" text-anchor="middle" textLength="50" lengthAdjust="spacingAndGlyphs" transform="rotate(-90 15.9 234.4)" fill="#222" stroke-width="0.08">% specific lysis</text>
<text x="33.8" y="308.9" font-size="8.5" textLength="40.7" lengthAdjust="spacingAndGlyphs">E.T Ratio 20:1</text>
<text x="93" y="308.9" font-size="8.5" textLength="11.5" lengthAdjust="spacingAndGlyphs">10:1</text>
<text x="138" y="308.9" font-size="8.5" textLength="8.5" lengthAdjust="spacingAndGlyphs">5:1</text>
<path d="M42.6 187.6 C42.9 185.7 43.8 185.1 45.6 185.1 L61.4 185.1 C63.2 185.1 64.10000000000001 185.7 64.4 187.6" fill="none" stroke="#333" stroke-width="0.8"/>
<text x="50.4" y="183.78" font-size="4.9" text-anchor="middle" font-family="DejaVu Sans">★</text>
<path d="M45.3 190.9 C45.599999999999994 189.5 46.5 188.9 48.3 188.9 L52.8 188.9 C54.6 188.9 55.5 189.5 55.8 190.9" fill="none" stroke="#333" stroke-width="0.8"/>
<text x="50.4" y="193.48" font-size="4.9" text-anchor="middle" font-family="DejaVu Sans">★</text>
<path d="M86.5 183.3 C86.8 181.4 87.7 180.8 89.5 180.8 L105.0 180.8 C106.8 180.8 107.7 181.4 108 183.3" fill="none" stroke="#333" stroke-width="0.8"/>
<text x="93.6" y="179.58" font-size="4.9" text-anchor="middle" font-family="DejaVu Sans">★</text>
<path d="M88.4 185.7 C88.7 184.3 89.6 183.7 91.4 183.7 L96.4 183.7 C98.2 183.7 99.10000000000001 184.3 99.4 185.7" fill="none" stroke="#333" stroke-width="0.8"/>
<text x="93.6" y="188.78" font-size="4.9" text-anchor="middle" font-family="DejaVu Sans">★</text>
<path d="M130.2 196.8 C130.5 194.9 131.4 194.3 133.2 194.3 L148.4 194.3 C150.2 194.3 151.1 194.9 151.4 196.8" fill="none" stroke="#333" stroke-width="0.8"/>
<text x="135.7" y="192.68" font-size="4.9" text-anchor="middle" font-family="DejaVu Sans">★</text>
<path d="M131.7 200 C132.0 198.6 132.9 198 134.7 198 L139.5 198 C141.3 198 142.2 198.6 142.5 200" fill="none" stroke="#333" stroke-width="0.8"/>
<text x="135.7" y="202.98" font-size="4.9" text-anchor="middle" font-family="DejaVu Sans">★</text>
<text x="178.0" y="189.9" font-size="13.6" font-weight="bold" textLength="9.2" lengthAdjust="spacingAndGlyphs" stroke-width="0.55">D</text>
<line x1="235.5" y1="239.5" x2="235.5" y2="257" stroke="#5a5a5a" stroke-width="0.8"/>
<line x1="234.5" y1="239.5" x2="236.5" y2="239.5" stroke="#5a5a5a" stroke-width="0.8"/>
<rect x="223.6" y="257" width="24.7" height="41.0" fill="#fff" stroke="#1a1a1a" stroke-width="0.6"/>
<line x1="261.5" y1="194.5" x2="261.5" y2="207.5" stroke="#5a5a5a" stroke-width="0.8"/>
<line x1="260.5" y1="194.5" x2="262.5" y2="194.5" stroke="#5a5a5a" stroke-width="0.8"/>
<clipPath id="c9"><rect x="248.3" y="207.5" width="27.0" height="90.5"/></clipPath>
<rect x="248.3" y="207.5" width="27.0" height="90.5" fill="#fff"/>
<path clip-path="url(#c9)" d="M248.3 206.7L275.3 179.7M248.3 209.3L275.3 182.3M248.3 211.9L275.3 184.9M248.3 214.5L275.3 187.5M248.3 217.1L275.3 190.1M248.3 219.7L275.3 192.7M248.3 222.3L275.3 195.3M248.3 224.9L275.3 197.9M248.3 227.5L275.3 200.5M248.3 230.1L275.3 203.1M248.3 232.7L275.3 205.7M248.3 235.3L275.3 208.3M248.3 237.9L275.3 210.9M248.3 240.5L275.3 213.5M248.3 243.1L275.3 216.1M248.3 245.7L275.3 218.7M248.3 248.3L275.3 221.3M248.3 250.9L275.3 223.9M248.3 253.5L275.3 226.5M248.3 256.1L275.3 229.1M248.3 258.7L275.3 231.7M248.3 261.3L275.3 234.3M248.3 263.9L275.3 236.9M248.3 266.5L275.3 239.5M248.3 269.1L275.3 242.1M248.3 271.7L275.3 244.7M248.3 274.3L275.3 247.3M248.3 276.9L275.3 249.9M248.3 279.5L275.3 252.5M248.3 282.1L275.3 255.1M248.3 284.7L275.3 257.7M248.3 287.3L275.3 260.3M248.3 289.9L275.3 262.9M248.3 292.5L275.3 265.5M248.3 295.1L275.3 268.1M248.3 297.7L275.3 270.7M248.3 300.3L275.3 273.3M248.3 302.9L275.3 275.9M248.3 305.5L275.3 278.5M248.3 308.1L275.3 281.1M248.3 310.7L275.3 283.7M248.3 313.3L275.3 286.3M248.3 315.9L275.3 288.9M248.3 318.5L275.3 291.5M248.3 321.1L275.3 294.1M248.3 323.7L275.3 296.7M248.3 326.3L275.3 299.3" stroke="#000" stroke-width="1.0" fill="none"/>
<rect x="248.3" y="207.5" width="27.0" height="90.5" fill="none" stroke="#222" stroke-width="0.6"/>
<line x1="286.5" y1="203.5" x2="286.5" y2="223.5" stroke="#5a5a5a" stroke-width="0.8"/>
<line x1="285.5" y1="203.5" x2="287.5" y2="203.5" stroke="#5a5a5a" stroke-width="0.8"/>
<rect x="275.3" y="223.5" width="22.5" height="74.5" fill="#000"/>
<line x1="205.6" y1="185.2" x2="205.6" y2="298.4" stroke="#666" stroke-width="0.75"/>
<line x1="205.2" y1="298.0" x2="316.8" y2="298.0" stroke="#444" stroke-width="0.85"/>
<line x1="203.6" y1="185.2" x2="205.6" y2="185.2" stroke="#666" stroke-width="0.8"/>
<text x="202.2" y="186.54" font-size="6.5" text-anchor="end" textLength="9.0" lengthAdjust="spacingAndGlyphs">100</text>
<line x1="203.6" y1="207.76" x2="205.6" y2="207.76" stroke="#666" stroke-width="0.8"/>
<text x="202.2" y="209.1" font-size="6.5" text-anchor="end" textLength="6.0" lengthAdjust="spacingAndGlyphs">80</text>
<line x1="203.6" y1="230.32" x2="205.6" y2="230.32" stroke="#666" stroke-width="0.8"/>
<text x="202.2" y="231.66" font-size="6.5" text-anchor="end" textLength="6.0" lengthAdjust="spacingAndGlyphs">60</text>
<line x1="203.6" y1="252.88" x2="205.6" y2="252.88" stroke="#666" stroke-width="0.8"/>
<text x="202.2" y="254.22" font-size="6.5" text-anchor="end" textLength="6.0" lengthAdjust="spacingAndGlyphs">40</text>
<line x1="203.6" y1="275.44" x2="205.6" y2="275.44" stroke="#666" stroke-width="0.8"/>
<text x="202.2" y="276.78" font-size="6.5" text-anchor="end" textLength="6.0" lengthAdjust="spacingAndGlyphs">20</text>
<line x1="203.6" y1="298.0" x2="205.6" y2="298.0" stroke="#666" stroke-width="0.8"/>
<text x="202.2" y="299.34" font-size="6.5" text-anchor="end" textLength="3.0" lengthAdjust="spacingAndGlyphs">0</text>
<line x1="205.6" y1="298.0" x2="205.6" y2="300.0" stroke="#444" stroke-width="0.8"/>
<line x1="316.5" y1="298.0" x2="316.5" y2="300.0" stroke="#444" stroke-width="0.8"/>
<text x="188.8" y="234.9" font-size="6.8" text-anchor="middle" textLength="51.7" lengthAdjust="spacingAndGlyphs" transform="rotate(-90 188.8 234.9)" fill="#222" stroke-width="0.08">% specific lysis</text>
<text x="241" y="308.3" font-size="8.6" textLength="37.3" lengthAdjust="spacingAndGlyphs">E.T Ratio 3:1</text>
<path d="M225.4 188.2 C225.70000000000002 184.8 226.6 184.2 228.4 184.2 L280.3 184.2 C282.1 184.2 283.0 184.8 283.3 188.2" fill="none" stroke="#333" stroke-width="0.8"/>
<text x="247.6" y="182.51" font-size="5.0" text-anchor="middle" font-family="DejaVu Sans">★</text>
<path d="M231.1 193.3 C231.4 189.9 232.3 189.3 234.1 189.3 L257.0 189.3 C258.8 189.3 259.7 189.9 260 193.3" fill="none" stroke="#333" stroke-width="0.8"/>
<text x="247.6" y="196.31" font-size="5.0" text-anchor="middle" font-family="DejaVu Sans">★</text>
<text x="316.6" y="190.8" font-size="13.6" font-weight="bold" textLength="8.7" lengthAdjust="spacingAndGlyphs" stroke-width="0.55">E</text>
<line x1="366.5" y1="250.5" x2="366.5" y2="261.6" stroke="#5a5a5a" stroke-width="0.8"/>
<line x1="365.5" y1="250.5" x2="367.5" y2="250.5" stroke="#5a5a5a" stroke-width="0.8"/>
<rect x="362.2" y="261.6" width="8.8" height="35.6" fill="#fff" stroke="#1a1a1a" stroke-width="0.6"/>
<line x1="375.5" y1="203.5" x2="375.5" y2="220" stroke="#5a5a5a" stroke-width="0.8"/>
<line x1="374.5" y1="203.5" x2="376.5" y2="203.5" stroke="#5a5a5a" stroke-width="0.8"/>
<clipPath id="c10"><rect x="371" y="220" width="9.2" height="77.2"/></clipPath>
<rect x="371" y="220" width="9.2" height="77.2" fill="#fff"/>
<path clip-path="url(#c10)" d="M371 219.2L380.2 210.0M371 221.8L380.2 212.6M371 224.4L380.2 215.2M371 227.0L380.2 217.8M371 229.6L380.2 220.4M371 232.2L380.2 223.0M371 234.8L380.2 225.6M371 237.4L380.2 228.2M371 240.0L380.2 230.8M371 242.6L380.2 233.4M371 245.2L380.2 236.0M371 247.8L380.2 238.6M371 250.4L380.2 241.2M371 253.0L380.2 243.8M371 255.6L380.2 246.4M371 258.2L380.2 249.0M371 260.8L380.2 251.6M371 263.4L380.2 254.2M371 266.0L380.2 256.8M371 268.6L380.2 259.4M371 271.2L380.2 262.0M371 273.8L380.2 264.6M371 276.4L380.2 267.2M371 279.0L380.2 269.8M371 281.6L380.2 272.4M371 284.2L380.2 275.0M371 286.8L380.2 277.6M371 289.4L380.2 280.2M371 292.0L380.2 282.8M371 294.6L380.2 285.4M371 297.2L380.2 288.0M371 299.8L380.2 290.6M371 302.4L380.2 293.2M371 305.0L380.2 295.8M371 307.6L380.2 298.4" stroke="#000" stroke-width="1.0" fill="none"/>
<rect x="371" y="220" width="9.2" height="77.2" fill="none" stroke="#222" stroke-width="0.6"/>
<line x1="384.5" y1="227.5" x2="384.5" y2="239.5" stroke="#5a5a5a" stroke-width="0.8"/>
<line x1="383.5" y1="227.5" x2="385.5" y2="227.5" stroke="#5a5a5a" stroke-width="0.8"/>
<rect x="380.2" y="239.5" width="8.2" height="57.7" fill="#000"/>
<line x1="405.5" y1="242.5" x2="405.5" y2="255.5" stroke="#5a5a5a" stroke-width="0.8"/>
<line x1="404.5" y1="242.5" x2="406.5" y2="242.5" stroke="#5a5a5a" stroke-width="0.8"/>
<rect x="400.8" y="255.5" width="8.8" height="41.7" fill="#fff" stroke="#1a1a1a" stroke-width="0.6"/>
<line x1="414.5" y1="205.5" x2="414.5" y2="224" stroke="#5a5a5a" stroke-width="0.8"/>
<line x1="413.5" y1="205.5" x2="415.5" y2="205.5" stroke="#5a5a5a" stroke-width="0.8"/>
<clipPath id="c11"><rect x="409.6" y="224" width="9.4" height="73.2"/></clipPath>
<rect x="409.6" y="224" width="9.4" height="73.2" fill="#fff"/>
<path clip-path="url(#c11)" d="M409.6 222.2L419.0 212.8M409.6 224.8L419.0 215.4M409.6 227.4L419.0 218.0M409.6 230.0L419.0 220.6M409.6 232.6L419.0 223.2M409.6 235.2L419.0 225.8M409.6 237.8L419.0 228.4M409.6 240.4L419.0 231.0M409.6 243.0L419.0 233.6M409.6 245.6L419.0 236.2M409.6 248.2L419.0 238.8M409.6 250.8L419.0 241.4M409.6 253.4L419.0 244.0M409.6 256.0L419.0 246.6M409.6 258.6L419.0 249.2M409.6 261.2L419.0 251.8M409.6 263.8L419.0 254.4M409.6 266.4L419.0 257.0M409.6 269.0L419.0 259.6M409.6 271.6L419.0 262.2M409.6 274.2L419.0 264.8M409.6 276.8L419.0 267.4M409.6 279.4L419.0 270.0M409.6 282.0L419.0 272.6M409.6 284.6L419.0 275.2M409.6 287.2L419.0 277.8M409.6 289.8L419.0 280.4M409.6 292.4L419.0 283.0M409.6 295.0L419.0 285.6M409.6 297.6L419.0 288.2M409.6 300.2L419.0 290.8M409.6 302.8L419.0 293.4M409.6 305.4L419.0 296.0M409.6 308.0L419.0 298.6" stroke="#000" stroke-width="1.0" fill="none"/>
<rect x="409.6" y="224" width="9.4" height="73.2" fill="none" stroke="#222" stroke-width="0.6"/>
<line x1="423.5" y1="223.5" x2="423.5" y2="238" stroke="#5a5a5a" stroke-width="0.8"/>
<line x1="422.5" y1="223.5" x2="424.5" y2="223.5" stroke="#5a5a5a" stroke-width="0.8"/>
<rect x="419" y="238" width="8.5" height="59.2" fill="#000"/>
<line x1="444.5" y1="247.5" x2="444.5" y2="259" stroke="#5a5a5a" stroke-width="0.8"/>
<line x1="443.5" y1="247.5" x2="445.5" y2="247.5" stroke="#5a5a5a" stroke-width="0.8"/>
<rect x="440.5" y="259" width="8.5" height="38.2" fill="#fff" stroke="#1a1a1a" stroke-width="0.6"/>
<line x1="453.5" y1="209.5" x2="453.5" y2="228" stroke="#5a5a5a" stroke-width="0.8"/>
<line x1="452.5" y1="209.5" x2="454.5" y2="209.5" stroke="#5a5a5a" stroke-width="0.8"/>
<clipPath id="c12"><rect x="449" y="228" width="8.5" height="69.2"/></clipPath>
<rect x="449" y="228" width="8.5" height="69.2" fill="#fff"/>
<path clip-path="url(#c12)" d="M449 227.0L457.5 218.5M449 229.6L457.5 221.1M449 232.2L457.5 223.7M449 234.8L457.5 226.3M449 237.4L457.5 228.9M449 240.0L457.5 231.5M449 242.6L457.5 234.1M449 245.2L457.5 236.7M449 247.8L457.5 239.3M449 250.4L457.5 241.9M449 253.0L457.5 244.5M449 255.6L457.5 247.1M449 258.2L457.5 249.7M449 260.8L457.5 252.3M449 263.4L457.5 254.9M449 266.0L457.5 257.5M449 268.6L457.5 260.1M449 271.2L457.5 262.7M449 273.8L457.5 265.3M449 276.4L457.5 267.9M449 279.0L457.5 270.5M449 281.6L457.5 273.1M449 284.2L457.5 275.7M449 286.8L457.5 278.3M449 289.4L457.5 280.9M449 292.0L457.5 283.5M449 294.6L457.5 286.1M449 297.2L457.5 288.7M449 299.8L457.5 291.3M449 302.4L457.5 293.9M449 305.0L457.5 296.5M449 307.6L457.5 299.1" stroke="#000" stroke-width="1.0" fill="none"/>
<rect x="449" y="228" width="8.5" height="69.2" fill="none" stroke="#222" stroke-width="0.6"/>
<line x1="461.5" y1="218.5" x2="461.5" y2="236.5" stroke="#5a5a5a" stroke-width="0.8"/>
<line x1="460.5" y1="218.5" x2="462.5" y2="218.5" stroke="#5a5a5a" stroke-width="0.8"/>
<rect x="457.5" y="236.5" width="8.5" height="60.7" fill="#000"/>
<line x1="483.5" y1="258.5" x2="483.5" y2="267.5" stroke="#5a5a5a" stroke-width="0.8"/>
<line x1="482.5" y1="258.5" x2="484.5" y2="258.5" stroke="#5a5a5a" stroke-width="0.8"/>
<rect x="479.5" y="267.5" width="8.5" height="29.7" fill="#fff" stroke="#1a1a1a" stroke-width="0.6"/>
<line x1="492.5" y1="226.5" x2="492.5" y2="242.5" stroke="#5a5a5a" stroke-width="0.8"/>
<line x1="491.5" y1="226.5" x2="493.5" y2="226.5" stroke="#5a5a5a" stroke-width="0.8"/>
<clipPath id="c13"><rect x="488" y="242.5" width="9" height="54.7"/></clipPath>
<rect x="488" y="242.5" width="9" height="54.7" fill="#fff"/>
<path clip-path="url(#c13)" d="M488 240.0L497 231.0M488 242.6L497 233.6M488 245.2L497 236.2M488 247.8L497 238.8M488 250.4L497 241.4M488 253.0L497 244.0M488 255.6L497 246.6M488 258.2L497 249.2M488 260.8L497 251.8M488 263.4L497 254.4M488 266.0L497 257.0M488 268.6L497 259.6M488 271.2L497 262.2M488 273.8L497 264.8M488 276.4L497 267.4M488 279.0L497 270.0M488 281.6L497 272.6M488 284.2L497 275.2M488 286.8L497 277.8M488 289.4L497 280.4M488 292.0L497 283.0M488 294.6L497 285.6M488 297.2L497 288.2M488 299.8L497 290.8M488 302.4L497 293.4M488 305.0L497 296.0M488 307.6L497 298.6" stroke="#000" stroke-width="1.0" fill="none"/>
<rect x="488" y="242.5" width="9" height="54.7" fill="none" stroke="#222" stroke-width="0.6"/>
<line x1="501.5" y1="228.5" x2="501.5" y2="244" stroke="#5a5a5a" stroke-width="0.8"/>
<line x1="500.5" y1="228.5" x2="502.5" y2="228.5" stroke="#5a5a5a" stroke-width="0.8"/>
<rect x="497" y="244" width="8.5" height="53.2" fill="#000"/>
<line x1="356.4" y1="184.6" x2="356.4" y2="297.59999999999997" stroke="#6a6a6a" stroke-width="0.8"/>
<line x1="356.0" y1="297.2" x2="512.8" y2="297.2" stroke="#4a4a4a" stroke-width="0.85"/>
<line x1="354.4" y1="184.6" x2="356.4" y2="184.6" stroke="#6a6a6a" stroke-width="0.8"/>
<text x="352.2" y="187.12" font-size="8.4" text-anchor="end" textLength="10.3" lengthAdjust="spacingAndGlyphs" stroke-width="0.32">100</text>
<line x1="354.4" y1="207.12" x2="356.4" y2="207.12" stroke="#6a6a6a" stroke-width="0.8"/>
<text x="352.2" y="209.64" font-size="8.4" text-anchor="end" textLength="6.87" lengthAdjust="spacingAndGlyphs" stroke-width="0.32">80</text>
<line x1="354.4" y1="229.64" x2="356.4" y2="229.64" stroke="#6a6a6a" stroke-width="0.8"/>
<text x="352.2" y="232.16" font-size="8.4" text-anchor="end" textLength="6.87" lengthAdjust="spacingAndGlyphs" stroke-width="0.32">60</text>
<line x1="354.4" y1="252.15999999999997" x2="356.4" y2="252.15999999999997" stroke="#6a6a6a" stroke-width="0.8"/>
<text x="352.2" y="254.68" font-size="8.4" text-anchor="end" textLength="6.87" lengthAdjust="spacingAndGlyphs" stroke-width="0.32">40</text>
<line x1="354.4" y1="274.68" x2="356.4" y2="274.68" stroke="#6a6a6a" stroke-width="0.8"/>
<text x="352.2" y="277.2" font-size="8.4" text-anchor="end" textLength="6.87" lengthAdjust="spacingAndGlyphs" stroke-width="0.32">20</text>
<line x1="354.4" y1="297.2" x2="356.4" y2="297.2" stroke="#6a6a6a" stroke-width="0.8"/>
<text x="352.2" y="299.72" font-size="8.4" text-anchor="end" textLength="3.43" lengthAdjust="spacingAndGlyphs" stroke-width="0.32">0</text>
<line x1="356.4" y1="297.2" x2="356.4" y2="299.2" stroke="#4a4a4a" stroke-width="0.8"/>
<line x1="395" y1="297.2" x2="395" y2="299.2" stroke="#4a4a4a" stroke-width="0.8"/>
<line x1="432" y1="297.2" x2="432" y2="299.2" stroke="#4a4a4a" stroke-width="0.8"/>
<line x1="472.5" y1="297.2" x2="472.5" y2="299.2" stroke="#4a4a4a" stroke-width="0.8"/>
<line x1="512.5" y1="297.2" x2="512.5" y2="299.2" stroke="#4a4a4a" stroke-width="0.8"/>
<text x="334.2" y="235" font-size="7.5" text-anchor="middle" textLength="51.9" lengthAdjust="spacingAndGlyphs" transform="rotate(-90 334.2 235)">% specific lysis</text>
<text x="341.5" y="308.9" font-size="8.8" textLength="46" lengthAdjust="spacingAndGlyphs">E:T Ratio 40:1</text>
<text x="406.5" y="308.9" font-size="8.8" textLength="13.2" lengthAdjust="spacingAndGlyphs">20:1</text>
<text x="447" y="308.9" font-size="8.8" textLength="13.2" lengthAdjust="spacingAndGlyphs">10:1</text>
<text x="488.5" y="308.9" font-size="8.8" textLength="9.6" lengthAdjust="spacingAndGlyphs">5:1</text>
<path d="M360.3 194.6 C360.6 192.4 361.5 191.8 363.3 191.8 L382.0 191.8 C383.8 191.8 384.7 192.4 385 194.6" fill="none" stroke="#333" stroke-width="0.8"/>
<text x="368.7" y="191.04" font-size="4.8" text-anchor="middle" font-family="DejaVu Sans">★</text>
<path d="M362.3 197.7 C362.6 196.1 363.5 195.5 365.3 195.5 L371.5 195.5 C373.3 195.5 374.2 196.1 374.5 197.7" fill="none" stroke="#333" stroke-width="0.8"/>
<text x="368.7" y="202.24" font-size="4.8" text-anchor="middle" font-family="DejaVu Sans">★</text>
<path d="M401 197.1 C401.3 194.9 402.2 194.3 404.0 194.3 L421.0 194.3 C422.8 194.3 423.7 194.9 424 197.1" fill="none" stroke="#333" stroke-width="0.8"/>
<text x="407.8" y="193.44" font-size="4.8" text-anchor="middle" font-family="DejaVu Sans">★</text>
<path d="M403 199.6 C403.3 198.0 404.2 197.4 406.0 197.4 L412.0 197.4 C413.8 197.4 414.7 198.0 415 199.6" fill="none" stroke="#333" stroke-width="0.8"/>
<text x="407.8" y="203.54" font-size="4.8" text-anchor="middle" font-family="DejaVu Sans">★</text>
<path d="M438.8 201.6 C439.1 199.4 440.0 198.8 441.8 198.8 L458.9 198.8 C460.7 198.8 461.59999999999997 199.4 461.9 201.6" fill="none" stroke="#333" stroke-width="0.8"/>
<text x="445.4" y="198.34" font-size="4.8" text-anchor="middle" font-family="DejaVu Sans">★</text>
<path d="M440.2 204.8 C440.5 203.2 441.4 202.6 443.2 202.6 L449.5 202.6 C451.3 202.6 452.2 203.2 452.5 204.8" fill="none" stroke="#333" stroke-width="0.8"/>
<text x="445.4" y="208.74" font-size="4.8" text-anchor="middle" font-family="DejaVu Sans">★</text>
<path d="M476.8 216.5 C477.1 214.3 478.0 213.7 479.8 213.7 L497.4 213.7 C499.2 213.7 500.09999999999997 214.3 500.4 216.5" fill="none" stroke="#333" stroke-width="0.8"/>
<text x="484.4" y="213.74" font-size="4.8" text-anchor="middle" font-family="DejaVu Sans">★</text>
<path d="M478.6 220.2 C478.90000000000003 218.6 479.8 218.0 481.6 218.0 L488.3 218.0 C490.1 218.0 491.0 218.6 491.3 220.2" fill="none" stroke="#333" stroke-width="0.8"/>
<text x="484.4" y="223.74" font-size="4.8" text-anchor="middle" font-family="DejaVu Sans">★</text>
</g></svg></body></html>
